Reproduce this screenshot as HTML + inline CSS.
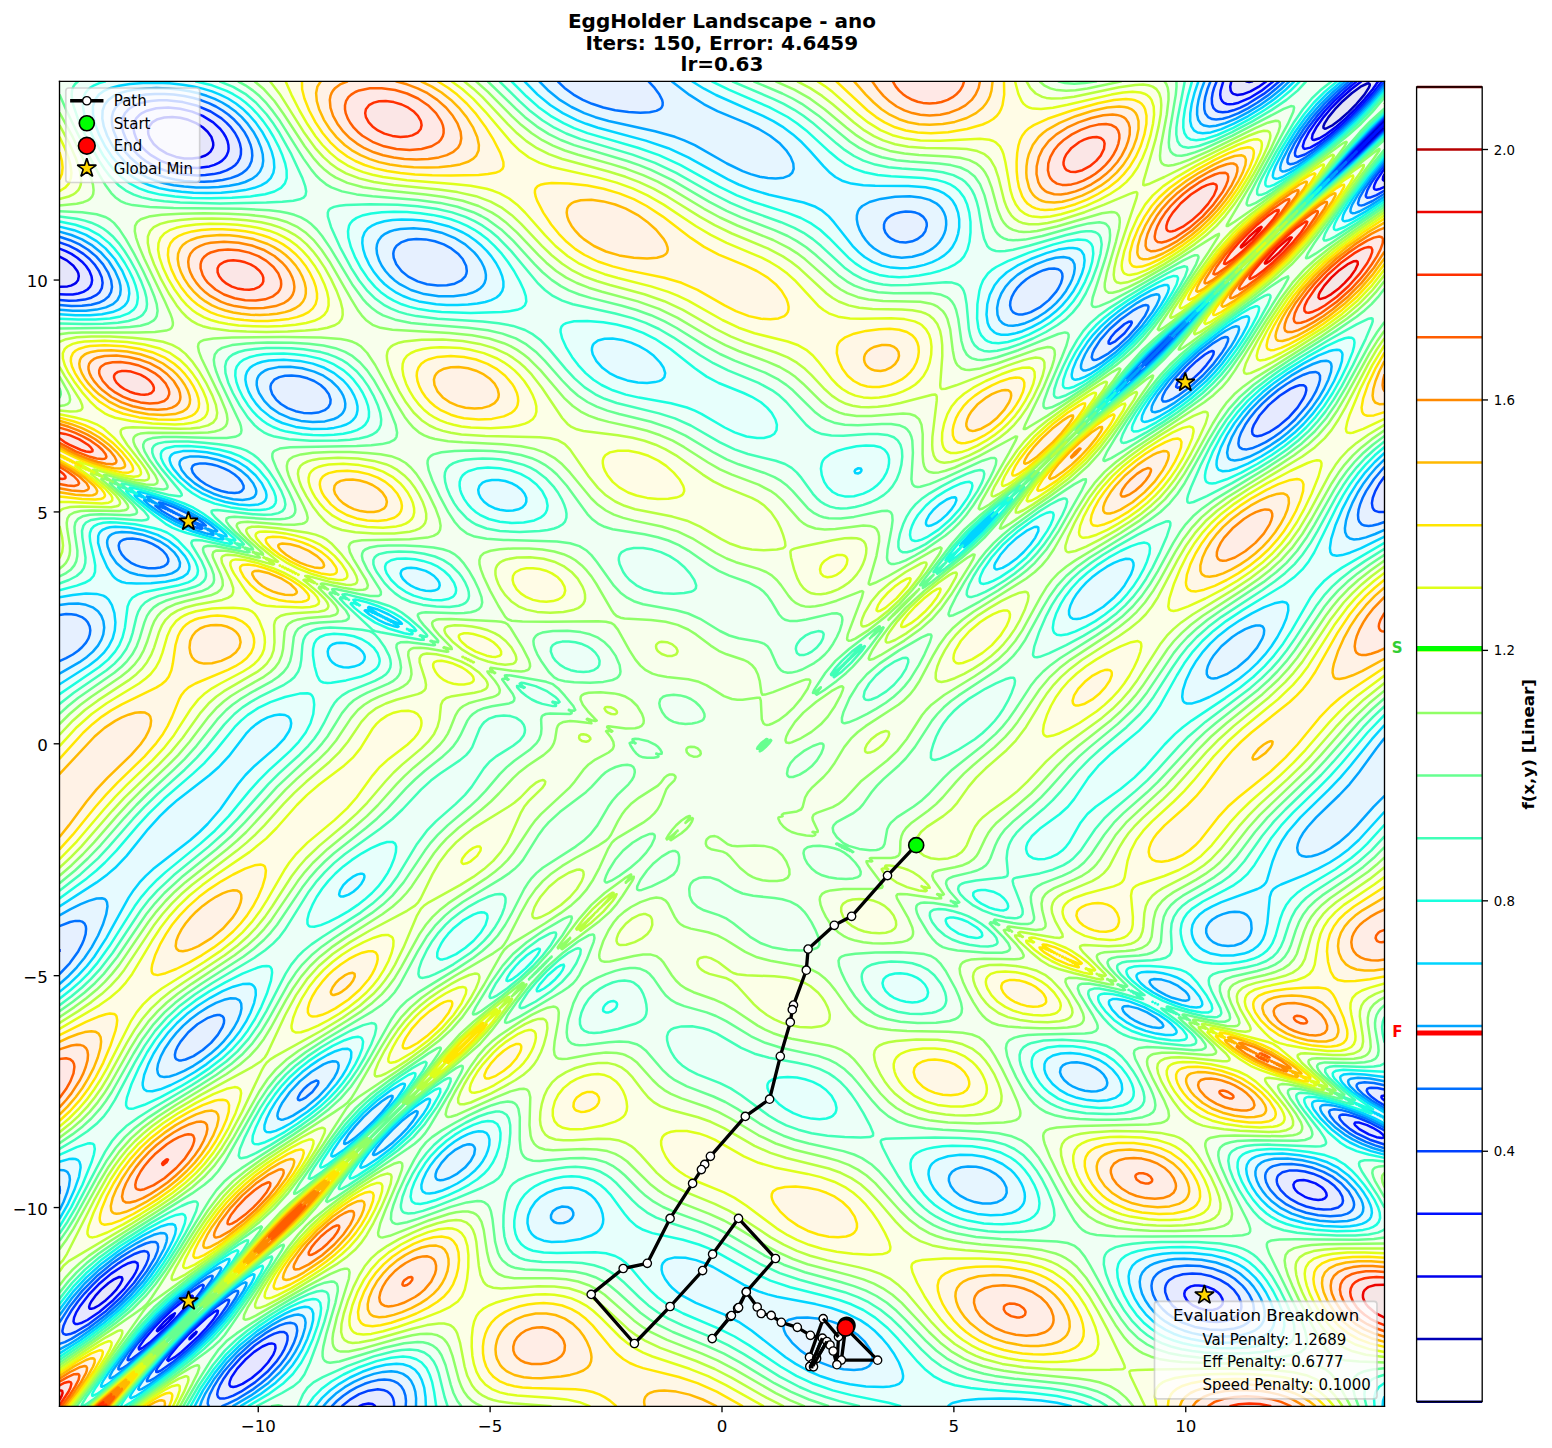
<!DOCTYPE html><html><head><meta charset="utf-8"><style>html,body{margin:0;padding:0;background:#fff}svg{display:block}</style></head><body><svg width="1552" height="1448" viewBox="0 0 931.2 868.8" version="1.1" id="fig">
 <defs>
  <style type="text/css">*{stroke-linejoin: round; stroke-linecap: butt}</style>
 </defs>
 <g id="figure_1">
  <g id="patch_1">
   <path d="M 0 868.8
L 931.2 868.8
L 931.2 0
L 0 0
z
" style="fill: #ffffff"/>
  </g>
  <g id="axes_1">
   <g id="patch_2">
    <path d="M 35.7 843.78
L 830.7 843.78
L 830.7 48.78
L 35.7 48.78
z
" style="fill: #ffffff"/>
   </g>
   <defs><clipPath id="axclip"><rect x="35.7" y="48.78" width="795" height="795"/></clipPath></defs><g clip-path="url(#axclip)"><g transform="scale(0.3)" fill-rule="evenodd"><path d="M119 162h2650v2650h-2650z" fill="#e6e6f5"/><path d="M137 2813l2632 0 0-2559-5-2 5-5 0-84-2650 0 0 2650zM2731 287l2-2 2 2zM2747 269l4-4 2 4-2 2zM2657 252l2-18 21-24 36-32 17-2 1 4-31 36-40 36z" fill="#e6e6fa"/><path d="M137 2813l2632 0 0-2556-10-5 10-11 0-78-14 0-39 49-43 40-28 20-18 1-1-4 10-17 27-36 35-33 27-20-193 0-30 19-18 6-17-2-5-6 1-17-2344 0 0 351 10 4 21 18 7 18-18 18-20 1 0 2240zM187 2599l15-18 24-20 16 3-13 17-21 21-18 10zM330 305l-23-18-10-18 2-17 16-12 17-5 36 3 33 14 19 17 6 18-7 18-15 8-18 3-36-4zM2712 305l4-5 2 5zM2726 287l7-8 4 8-4 4zM2742 269l9-10 5 10-5 5z" fill="#e6e6ff"/><path d="M137 2813l582 0 22-4 8 4 2020 0 0-2441-19 4 6-18 13-20 0-79-36 34-12-6 48-51 0-73-7 0-29 37-53 53-53 38-18 1-2-5 9-18 24-35 33-36 41-35-168 0-44 31-35 13-18-2-6-7-1-18 5-17-2328 0 0 334 39 21 17 18 8 18-2 18-9 7-17 8-36 1 0 2225zM463 2759l12-21 32-32 21-13 19-5 1 18-12 18-26 26-18 13-17 7zM347 2706l3-4 6 4-6 4zM363 2688l5-6 10 6-10 9zM296 2670l54-55 18-8 1 10-54 54-18 10zM380 2670l6-6 11 6-11 11zM398 2653l6-6 9 6-9 10zM150 2635l20-36 38-39 18-15 30-17 5-2 10 2-2 18-10 18-16 19-35 34-36 23-17 5zM418 2635l3-3 5 3-5 6zM2402 2617l-29-18-2-18 7-4 18-4 17 2 18 6 13 18-10 18-21 2zM2598 2386l-10-18 21-6 23 6 19 18-6 9-18 2zM2725 2261l8-4 21 4-3 5zM324 323l-29-18-16-18-9-18-2-17 7-18 22-13 18-5 35 0 54 15 30 21 15 17 7 18 0 18-14 18-21 8-17 4-36-1zM2693 323l5-6 2 6-2 2zM2707 305l9-11 5 11-5 4z" fill="#e6eaff"/><path d="M137 2813l547 0 22-18 18-8 17-6 18-2 18 7 7 9 4 18 1981 0 0-526-30-8-23-12-31-24 13-9 18 4 17 5 36 18 0-51-28-20 10-12 18 2 0-1157-18-2-4-5-1-17 5-18 18-27 0-574-18 10-18 4 15-36 21-27 0-69-53 50-14-7 67-73 0-69-36 42-47 47-41 34-36 22-18-1-1-2 17-36 41-53 58-53-148 0-20 17-36 24-35 16-18 3-18-4-3-3-4-18 9-35-2314 0 0 322 36 15 24 18 15 18 9 18 2 18-12 17-21 9-17 2-36-1 0 2214zM438 2795l-1-18 10-18 12-18 33-35 22-18 32-19 18-4 8 5 0 18-7 18-37 43-36 28-17 9-18 9zM314 2741l2 0zM328 2724l40-48 36-34 35-30 8 5-25 36-54 53-36 25zM264 2706l26-36 42-44 54-46 10 1-8 18-69 71-40 36zM128 2653l7-18 24-36 49-50 53-37 18-7 18 4-6 19-12 22-25 31-37 36-45 34-35 17zM2383 2635l-31-18-16-18-6-18 6-17 24-13 36-3 35 8 18 9 18 14 13 20 2 18-15 19-36 7zM2590 2404l-23-18-12-18 2-18 16-7 18-1 36 6 35 19 19 19 4 18-5 6-18 8-17 1-36-8zM2507 856l8-18 14-17 27-25 17-13 18-8 18 1 2 9-20 35-35 33-36 18zM2357 767l3-5 8 5-8 4zM2369 750l38-36 6-4 7 4-10 18-14 16-18 13zM2304 714l3-2 1 2zM2322 696l2-2 2 2zM2230 678l4-17 19-6 1 6-18 17zM329 340l-32-15-18-13-22-25-9-18-4-17 3-18 14-18 18-8 18-5 35-2 36 4 36 10 35 19 18 16 15 19 8 18 2 18-6 18-22 17-33 9-35 1zM2676 340l4-6 3 6-3 3zM2688 323l10-13 5 13-5 4z" fill="#e6f0ff"/><path d="M137 2813l282 0-1-18 8-18 23-36 26-28 53-45 36-18 17-3 10 6 1 17-11 28-17 28-33 33-23 18-33 21-33 15 222 0 24-23 36-20 35-10 18 0 18 7 10 10 6 18 0 18 1958 0 0-517-36-12-35-18-28-23-11-17 21-4 18 2 48 19 23 13 0-41-40-25-15-18 19-6 36 4 0-1126-36 8-17-18 2-18 15-35 36-47 0-547-36 19-11-12 9-18 38-51 0-61-71 66-15-7 30-36 56-57 0-62-41 48-48 46-53 43-36 20-14-2 4-18 19-36 41-53 57-53-129 0-31 26-41 27-30 14-36 8-14-4-8-18 1-18 11-35-1124 0 16 17 10 18-1 18-11 5-36 3-53-6-36-10-35-17-35-28-997 0 0 311 36 13 35 24 21 25 9 18 4 18-5 17-11 10-16 8-37 5-36-2 0 620 18-2 18 3 22 16 3 18-7 18-16 18-38 21 0 530 36-9 16 9-1 18-15 36-36 41 0 699 18-29 28-36 58-53 56-36 18-6 18 4 1 2-5 18-20 36-45 53-65 54-26 18-36 17 0 125zM296 2759l3 0zM309 2741l42-53 53-52 53-42 10 5-10 18-29 36-54 53-59 44zM243 2724l42-54 51-53 68-55 15 2-44 53-72 71-42 37zM2386 2653l-44-21-18-15-13-18-7-18 0-17 13-18 7-4 18-7 36-4 53 8 18 7 27 18 17 17 10 18 5 18-3 18-21 17-17 5-36 2zM2600 2421l-35-17-19-18-12-18-3-18 7-11 18-9 17-2 36 3 36 12 38 25 16 18 8 18-4 17-23 9-35 1zM599 2190l18-19 14 1-14 18zM360 2119l-8-18 10-18 15-17 27-23 17-9 18-4 7 18-8 18-14 17-20 18-34 18zM259 1123l-17-18-3-18 4-4 18-4 42 8 26 18 7 18-21 12-18 1-18-4zM383 1052l-13-18 18 0 2 18zM345 1034l-1-18 6-1 17 19-17 3zM438 981l-35-18-17-18 13-18 22 2 36 13 25 21 2 18-9 3-18 0zM2479 892l1-18 7-18 15-22 28-31 43-35 34-18 20-5 10 5 0 17-10 24-21 30-33 33-53 36-18 6-18 0zM587 821l-30-18-14-18 0-18 21-13 17-3 36 7 20 9 18 18 6 18-13 18-31 5zM2331 785l10-18 15-17 36-36 21-18 18-11 18-9 4 2-4 18-12 18-24 28-26 25-27 21-18 9zM2267 750l4-5 2 5zM2281 732l8-9 4 9-4 4zM2186 714l5-18 27-36 44-35 27-11 3 11-21 30-21 23-50 38zM2296 714l11-11 5 11-5 5zM2314 696l10-10 5 10-5 5zM2333 678l9-7 4 7-4 5zM2355 661l5-4 2 4-2 2zM2029 625l-8-18 5-18 12-17 20-16 17-10 18-7 18-2 13 17-6 18-11 17-18 18-30 18-19 3zM818 554l-20-18-9-18-1-17 7-9 18-11 35-2 36 9 23 13 12 11 14 24-4 18-10 8-17 7-36 1-18-4zM1796 483l-25-18-2-18 4-6 13-12 23-5 17 1 18 8 8 14-4 18-4 5-18 12-17 2zM346 358l-51-18-26-17-26-29-13-25-5-17-1-18 7-18 12-12 18-8 36-7 35-1 54 8 53 21 23 17 30 35 12 36-1 18-11 17-17 11-36 10-53 2zM2658 358l4-5 3 5zM2670 340l10-13 6 13-6 5z" fill="#e6f5ff"/><path d="M137 2813l264 0 16-36 22-33 52-56 55-39 35-17 18-2 7 5 4 18-4 17-7 18-22 36-14 17-35 32-64 40 183 0 23-24 36-24 35-15 36-7 18 1 18 9 7 6 9 18 3 36 1937 0 0-510-36-11-35-17-36-28-18-21 1-4 17-10 89 25 4 6 14 8 0-31-18-4-5-8-26-18-19-18 15-16 53 6 0-571-71 76-36 28-35 16-18 2-7-3-6-18 6-18 12-17 86-89 69-91 0-418-36 15-17 4-18-3-5-5-2-18 9-36 18-35 26-36 25-26 0-526-36 22-17 7-10-10 20-36 43-56 0-53-89 81-15-8 45-53 59-60 0-53-37 42-56 53-67 53-36 19-5-1-3-17 7-18 21-36 41-53 57-53-112 0-42 35-53 33-35 15-18 6-18 0-18-18 2-36 12-35-1066 0 57 41 35 19 71 30 30 16 24 18 15 18 10 18 1 17-9 10-17 6-18 0-36-7-24-9-118-62-53-16-107-24-36-12-50-28-39-35-960 0 0 300 36 11 42 27 30 35 14 36-1 17-13 18-19 8-36 6-53-2 0 591 36-3 24 5 11 6 11 12 7 17-1 18-6 18-13 18-21 18-48 28 0 484 36-19 35-14 19 1 5 18-10 35-28 54-29 35-28 27 0 373 18 7 2 20-20 52 0 211 23-32 30-35 54-46 35-24 36-20 18-6 17 4 2 3-4 17-19 36-26 36-32 35-63 54-53 36-18 9 0 115zM278 2777l3 0zM291 2759l41-53 72-74 71-56 10 5-9 18-27 36-50 53-84 69-18 11zM225 2741l55-71 52-55 89-71 15 2-41 53-69 71-83 72zM1638 2724l-30-18-21-18-14-18-6-17 10-11 18-6 36 1 57 16 28 17 17 18 10 18 0 18-6 6-17 9-36-1zM2406 2670l-28-6-31-11-27-18-18-18-12-18-8-18-2-17 4-18 5-5 17-13 18-5 36-5 36 1 53 12 29 15 21 18 21 30 8 23 1 18-9 18-18 11-21 6-32 3zM1106 2439l3-18 6-3 18-2 10 5-3 18-7 4-18 1zM2624 2439l-51-16-35-26-21-29-6-18 4-18 23-12 18-3 53 5 36 9 17 9 36 26 16 20 10 18 2 17-10 13-10 5-26 4zM1948 2404l-35-18-13-18 0-18 15-12 18-5 36 5 25 12 15 18 4 18-9 12-9 6-26 3zM873 2350l11-24 32-29 21-6 11 6-3 18-13 17-13 11-17 11-18 4zM756 2297l3-4 8 4-8 5zM771 2279l24-25 13 7-31 28zM704 2261l55-55 18-1-33 38-38 34zM807 2243l6-5 9 5-9 13zM557 2226l6-18 13-18 34-35 25-19 18-8 17-3 5 12-7 18-15 21-33 32-39 24-17 5zM829 2226l3 0-2 3zM2145 2172l-20-17-3-18 7-6 18-5 35 6 9 5 19 18 2 17-12 7-18 2zM315 2137l5-18 12-25 18-25 21-21 50-37 36-13 18 1 7 13-3 18-7 18-15 22-29 31-42 31-36 17-18 5zM2284 2048l-30-18-2-18 51 18 22 18-18 5zM2342 1994l-32-17-5-18 19 1 39 17 15 18-18 3zM2434 1888l-20-18 0-18 17-17 36-11 17 2 13 8 5 13 0 11-3 12-15 15-17 6zM2421 1354l-6-18 21-35 18-18 30-21 18-7 18-2 7 12-6 18-28 36-21 17-23 14-18 6zM252 1141l-26-25-11-29 7-17 21-5 36 3 36 13 34 24 10 18-5 18-22 8-17 3-36-2zM370 1052l-20-9-15-9-3-5-25-13 3-17 8 0 14 11 18 0 13 6 5 6 18 5 11 7 7 13 19 5-2 13-17-9-18 3zM470 999l-31-8-35-16-19-12-18-18-7-18 8-8 18-5 18 0 35 7 36 16 29 26 8 18-16 18zM2456 910l2-18 16-36 26-35 36-36 50-35 41-22 18-5 17 7-2 20-16 35-25 36-33 35-47 36-37 20-18 6-17 2zM588 838l-39-17-21-20-10-16-4-18 6-17 8-7 18-6 18-3 17 0 36 6 36 15 16 12 14 18 7 18-2 18-18 16-35 7zM2305 821l4-18 11-18 28-35 30-30 49-42 22-14 18-8 8 5-5 17-23 36-49 53-56 42-18 10-17 4zM2247 767l6-8 4 8-4 3zM2260 750l46-54 54-46 6 11-50 53-45 41zM2162 732l16-36 28-35 47-41 54-30 6 17-10 18-14 20-36 39-35 31-36 21-18 0zM2002 643l-7-18 1-18 5-18 11-17 18-18 27-18 36-15 36-6 11 3 7 7 2 11-3 18-17 32-18 21-22 18-31 18-36 8zM2370 643l8-6 3 6-3 4zM856 589l-26-6-25-11-23-18-15-18-10-18-4-17 3-18 19-18 20-6 35-2 51 8 40 18 23 18 15 17 10 18 3 18-7 18-10 7-18 8-18 4-35 1zM1753 501l-19-18-12-18-7-18-1-18 11-17 30-12 54-7 35 3 18 6 18 11 9 16 3 18-3 18-9 18-18 16-18 9-35 7-36-5zM2642 376l3-4 1 4zM303 358l-33-18-27-23-21-30-15-35-3-18 3-18 12-18 24-13 18-4 36-4 53 1 36 6 44 14 32 18 30 29 18 24 15 36 1 18-5 17-18 18-28 10-36 6-53 1-54-8zM2653 358l9-13 6 13-6 5z" fill="#e6faff"/><path d="M137 2813l253 0 19-36 24-36 49-53 46-35 36-22 35-15 18-1 3 2 6 18-3 18-13 35-20 36-14 17-30 29-65 43 149 0 35-36 41-25 53-19 36-5 18 3 19 10 11 18 5 16 4 38 1044 0 19-9 18-3 71-4 71 3 68 13 622 0 4-20 0-484-53-16-36-20-33-30-14-17-8-18 20-4 17 1 36 11 18-1 10 11 7 3 15-3-9-18-23-11-4-7-20-18-11-17 17-6 18-1 53 6 0-530-53 57-36 31-35 21-89 39-13 9-14 89-9 18-18 13-18 7-17 3-36-2-18-5-17-13-12-21 1-18 9-18 19-15 36-17 60-21 25-18 16-53 8-18 24-35 98-101 89-106 0-377-53 26-36 11-18-4-1-19 17-53 27-53 25-36 39-39 0-508-53 34-18 6-8-9 6-17 25-36 48-61 0-46-107 96-14-7 59-71 62-63 0-45-49 55-58 52-71 52-35 18-7-16 6-17 31-54 41-53 56-53-94 0-40 35-47 31-53 27-36 10-17-2-13-12-3-18 2-18 15-53-1013 0 51 29 95 42 32 18 44 35 60 65 18 10 36 8 124 4 36 9 18 11 13 18 6 17 0 36-6 18-12 18-22 17-33 13-35 5-36-3-37-15-22-17-65-77-18-11-18-7-71-16-47-14-40-18-91-50-36-15-142-41-35-13-54-32-48-44-930 0 0 290 53 17 36 24 33 42 15 36 2 17-6 18-9 8-21 10-50 5-53-1 0 566 53-8 18 0 18 4 16 21 7 35-2 18-6 18-15 22-36 30-53 33 0 445 77-50 30-23 30-30 59-72 35-34 90-72 52-64 18-17 18-12 18-7 18-2 18 13-4 18-11 18-76 71-67 89-37 35-72 57-36 34-24 34-61 107-29 35-46 42 0 341 18-5 18 2 5 11-7 36-34 70 0 181 45-55 62-54 53-35 36-19 17-6 18 4 2 3-5 18-17 35-24 36-29 35-35 36-34 29-89 61 0 106zM273 2777l42-55 89-93 53-46 35-24 10 5-9 17-25 36-63 71-41 36-67 51-18 10zM208 2759l53-72 64-70 43-38 53-40 18-12 12 1-9 18-29 35-84 89-103 90zM1662 2759l-46-18-31-17-79-61-35-24-89-38-31-20-17-17-9-18 0-18 21-12 18 0 36 7 47 23 41 25 36 15 142 31 44 18 27 17 21 18 29 36 17 35 1 18-14 10-36 5-53-6zM2355 2670l-31-14-26-21-16-18-19-36-5-17 0-18 10-18 21-12 18-5 35-5 54 1 35 5 36 11 34 23 17 18 20 32 8 21 3 18-3 18-16 17-28 10-35 5-36 0-35-4zM1072 2475l-14-18-2-18 4-18 11-17 26-20 36-8 18 1 17 5 26 22 9 17 4 18-6 18-28 18-58 8-18-1zM2583 2439l-27-12-29-23-25-34-8-20-1-18 9-12 7-5 29-7 35 0 36 4 53 15 34 23 18 18 24 36 5 17-5 18-5 3-35 10-53 0zM1930 2421l-36-17-19-18-12-18-6-18 4-18 19-14 35-8 36 1 21 4 39 17 20 18 12 18 6 18-1 18-16 17-28 8-18 1-35-3zM853 2386l-5-1-4-17 6-18 16-25 18-20 32-26 21-10 18-6 18 5 5 11-1 18-7 18-15 21-18 16-35 21-36 13zM723 2332l3 0zM735 2315l27-36 34-36 52-39 7 4-7 18-13 17-40 42-36 29-18 10zM669 2297l27-36 32-35 31-28 38-26 0 18-48 53-61 55-18 4zM533 2261l-1-18 14-30 18-26 29-32 24-21 36-22 35-14 10 3 2 18-7 18-23 34-17 19-36 32-36 24-35 17zM2139 2190l-29-18-15-17-6-18 5-18 17-8 18-4 35 2 36 12 22 16 15 18 7 17-6 18-20 9-36 1zM287 2172l1-17 5-18 18-36 25-35 32-33 53-38 36-18 35-9 18 9 1 17-5 18-17 36-26 35-24 24-38 30-69 37-35 7zM2305 2066l-46-18-25-18-14-18 15-11 18 3 30 8 34 18 25 18 9 18-9 3-18 0zM2374 2012l-50-17-29-18-19-18 13-14 18-1 35 6 18 8 18 12 21 24 2 18zM682 1781l14-18 10-7 18-3 1 10-19 20-18 6zM2365 1390l10-36 9-18 24-35 23-23 36-29 35-21 36-17 18-5 17 2 3 4-1 18-16 35-23 36-34 37-53 39-53 26-18 4zM661 1319l-4-18 13-12 18-2 34 14 6 18-22 14-18 1-18-6zM774 1247l-5-17 8-1 5 18zM740 1230l1-5 8 5zM2140 1230l1-18 9-18 30-35 23-18 32-18 18-4 11 4 0 18-8 18-21 28-17 17-36 25-18 6-17 1zM833 1176l-26-17-2-18 25-4 18 4 26 18 2 17-10 4zM233 1159l-7-6-17-30-12-36 1-17 10-10 18-6 35 2 54 14 35 21 14 14 12 18 2 18-10 10-18 9-71 8-36-3zM1995 1123l9-18 36-33 18-10 14 8-14 22-36 33-18 9zM1931 1087l2-3 2 3zM406 1070l-38-12-36-17-33-25-2-9-18-6-2-2 2-7 18 4 18-3 53 19 36 19 27 21 5 18-15 4zM1945 1070l6-7 3 7-3 3zM1962 1052l7-6 3 6-3 3zM1857 1034l23-24 18-12 8 1-3 17-23 23-18 11zM1984 1034l2-2 2 2zM989 1016l-25-17-7-18 16-19 35 0 18 7 18 12 8 18-10 17-16 4-18 0zM432 999l-28-12-36-26-15-16-11-18 2-17 24-7 18-1 52 8 37 13 31 22 15 18 10 18 0 18-3 3-18 7-18 1-35-5zM2434 927l9-35 19-36 27-35 31-32 51-39 56-33 35-15 18 1 4 11-3 18-16 35-34 54-40 42-53 40-54 29-35 10zM608 856l-27-5-32-13-21-14-18-19-12-20-6-18 0-17 13-18 41-11 35-1 36 5 36 13 20 12 19 17 13 18 8 18 2 18-7 17-20 12-18 5-35 3zM2286 838l3-17 23-36 29-35 35-36 43-36 48-33 17-8 11 6-6 18-21 35-27 36-34 35-43 36-40 26-17 10-18 3zM2229 785l6-11 4 11-4 3zM2240 767l28-35 34-36 40-37 36-28 6 12-64 71-67 60zM1225 750l-24-18-13-18-4-18 20-18 18-1 35 7 28 12 25 18 15 18 5 18-19 13-18 2-36-4zM2144 750l4-18 19-36 27-35 18-18 75-54 41-17 4 17-9 18-34 46-36 38-35 31-36 24-18 9-17-1zM1984 661l-9-18 0-36 11-32 17-21 37-25 71-28 36-5 13 5 4 4 5 13-8 36-19 35-31 34-36 25-35 16-36 5zM2386 625l10-6 3 6-3 5zM863 607l-33-6-29-12-24-14-21-21-15-20-14-33-2-18 4-18 12-11 18-9 36-5 53 2 36 7 35 13 18 10 35 29 15 17 18 36 2 18-8 17-26 14-19 4-52 3zM2412 607l2 0zM2625 394l2-3 1 3zM318 376l-39-14-31-22-30-35-20-36-11-35-1-18 4-17 18-17 18-7 53-9 53 0 54 7 53 16 36 20 27 25 26 35 16 36 4 18-2 23-6 12-32 18-33 6-54 4-53-2zM2636 376l9-12 4 12-4 4zM2769 2247l0-22-11 1 6 17z" fill="#e7fffc"/><path d="M137 2813l244 0 44-72 48-53 73-54 35-20 36-15 18 1 6 17-1 18-11 35-25 54-12 17-28 29-68 43 118 0 29-36 45-29 71-27 36-7 18 0 17 4 11 6 15 17 10 32 7 40 929 0-136-32-71-28-124-79-107-49-36-21-27-23-44-50-18-15-35-11-125-1-31-12-14-17-5-18 3-36 12-24 18-19 17-11 36-11 36-3 35 9 18 11 14 13 39 52 18 16 18 9 107 27 35 16 71 39 36 17 35 12 99 25 45 18 29 18 21 18 73 80 18 16 36 18 53 10 160 15 36 7 37 14 565 0-1-18 3-9 4-9 14-10 0-451-53-11-36-18-35-34-35-45 17-12 53 7 18 9 13-4-6-18-21-18-16-17 12-13 89 0 0-493-59 61-30 22-80 49-20 18-12 18-24 71-15 18-9 5-18 8-35 7-36 1-31-4-22-14-11-21-5-18 0-18 7-18 9-10 18-14 82-47 19-18 61-88 104-107 107-120 0-344-94 55-24 18-30 35-65 107-31 35-41 36-127 89-86 92-89 68-17 18-36 57-18 14-18 6-18 1-18-7-4-18 10-18 12-12 53-41 17-18 36-53 16-18 100-89 25-35 52-89 30-36 45-38 124-79 31-25 23-33 45-92 32-53 29-36 36-33 0-491-71 46-18 7-7-9 6-18 37-53 53-66 0-36-124 109-14-7 58-71 80-83 0-38-53 59-54 47-71 53-35 22-18 5-5-12 7-18 39-71 38-53 28-29 29-24-74 0-39 35-59 39-71 34-35 9-18-4-7-7-4-17 3-36 14-53-961 0 119 53 33 18 38 28 53 48 36 25 53 15 89 6 36 6 18 6 17 11 12 15 8 18 6 35-2 36-4 18-11 17-29 18-33 10-36 7-35 1-36-5-35-16-20-15-69-66-36-19-124-44-143-75-53-19-90-26-52-20-54-33-56-53-633 0 31 7 36 13 25 15 21 18 17 18 24 35 18 36 11 35 0 18-9 16-18 9-54 11-71 2-53-1-53-7-36-11-31-19-22-21-33-50-17-35-10-36 0-18 9-18 15-10 22-7-93 0 0 280 53 13 18 9 25 18 16 18 24 35 16 36 4 17-1 18-14 18-17 6-53 8-71-1 0 543 36-10 26-12 10-18-11-71 9-18 19-6 35 0 89 12 5-6-22-14-45-39 2-18 7-2 18 8 18 1 53 16 36 18 57 48-4 17-18-9-18 2-53-14-18-1-7 5 25 22 22 31 6 18-9 18-19 8-71 15-30 12-12 18-7 53-16 36-15 18-22 17-76 52 0 409 47-34 41-35 97-107 99-89 72-83 27-24 44-23 53-15 18 0 4 3 7 18-6 35-20 36-91 89-77 89-105 88-32 32-31 40-69 106-32 36-46 39 0 312 53-21 17 8-16 53-25 54-29 49 0 155 54-62 70-56 89-52 18-6 18 1 2 6-5 18-28 53-52 71-59 57-107 75 0 100zM256 2795l59-77 79-83 81-70 35-24 9 5-8 18-51 71-48 53-115 92-36 22zM190 2777l71-96 58-64 85-70 53-38 10 1-7 18-29 36-80 89-143 125zM2373 2688l-31-9-35-18-18-15-25-29-20-36-10-35 3-18 16-18 36-10 35-5 54-1 53 5 36 9 17 8 19 12 32 36 20 35 12 36 2 18-7 17-6 6-23 12-49 7-53 1zM2610 2457l-37-9-17-7-18-10-18-15-24-30-17-36-4-18 5-17 22-12 36-5 89 7 18 3 35 13 36 33 24 32 18 35 1 18-8 10-18 9-35 4-53-1zM1928 2439l-42-18-24-17-16-18-21-36-4-18 5-19 18-11 36-9 53-1 36 4 35 10 16 9 20 15 17 20 18 36 4 18-3 17-18 18-18 5-36 4-35-1zM826 2404l-3-18 7-24 18-32 28-33 26-22 35-21 36-12 17 3 10 16-3 36-16 35-16 18-24 18-57 27-36 11-18 0zM704 2350l2-4 6 4-6 3zM715 2332l41-53 57-56 53-38 10 5-7 18-25 35-49 50-51 39-20 12zM650 2315l38-55 50-52 75-55 13 2-9 17-29 36-52 53-66 56-17 10zM506 2279l3-18 19-39 21-32 32-37 41-34 48-29 36-14 18 3 2 4-3 18-17 36-26 35-34 36-45 35-55 34-18 7-18 2zM1586 2226l-28-18-16-18-7-18 7-9 18-8 35 1 36 11 30 23 10 18-1 18-21 11-36-3zM254 2208l7-36 35-71 25-35 34-36 49-38 71-39 35-16 18-4 15 8-6 36-23 53-22 36-35 39-53 42-72 41-53 25-18 3zM2144 2208l-39-18-20-18-13-17-7-18-1-18 11-16 18-7 54-3 35 5 18 6 18 9 17 15 22 27 8 17 2 18-14 18-18 5-35 2zM2273 2066l-20-8-35-28-15-18-6-18 21-5 17 2 36 10 18-2 9 13 9 5 17 1 5 12 23 18 17 18-9 13-36-1zM1212 2012l10-5 9 5-9 7zM2353 2012l-11-4-18 1-17-18-18-2-6-12-20-18-10-18 18-7 36-2 35 3 36 11 18 19 17 26 10 21-10 10-53-5zM1787 1994l-19-17 0-18 23-11 18 0 17 5 12 6 15 18-1 17-8 6-18 3-17-1zM1078 1977l1-3 5 3-5 2zM1092 1959l5-5 10 5-10 8zM1024 1941l37-35 6 0-4 17-19 19-18 9zM1111 1941l4-3 6 3-6 9zM876 1906l8-20 18-23 17-16 18-13 18-7 18 4 1 3-5 18-12 18-20 20-35 22-18 5zM1925 1870l-28-18 1-8 17-5 34 13 14 18-12 4zM633 1852l-16-3-1-15 19-41 35-45 49-38 40-21 18-4 14 7-1 18-13 32-29 39-42 36-36 20zM1984 1817l-32-18 8-18 26 3 23 15 4 18-9 2zM636 1354l-9-35-1-18 5-18 22-13 35-1 36 10 27 22 8 18-6 17-35 18-65 12zM805 1265l-10-6-18-1-18-7-32-21-3-12-18-5 0-3 18 0 17-3 36 13 42 27-1 18zM2109 1265l-2-18 13-35 23-36 17-17 22-19 53-35 36-16 22-2 5 18-12 36-23 35-28 32-53 39-35 18-18 4zM837 1194l-36-18-19-17-10-18 5-18 36-5 35 4 36 17 18 17 9 20-7 18-20 5-18 0zM1962 1159l4-18 12-18 26-31 24-22 47-35 18-7 12 6-6 18-22 35-37 39-19 15-35 20-17 4zM1906 1105l26-35 54-48 8 12-25 28-54 48zM1821 1070l3-18 23-36 20-17 27-18 39-16 8 16-8 18-35 42-36 29-18 7-18 2zM969 1034l-26-18-14-17-8-18-1-18 17-20 18-5 35-2 44 9 32 18 17 18 10 18 2 17-12 18-21 8-18 3-36-1zM470 1016l-49-10-35-17-46-44-12-18-6-17 10-12 18-5 36 0 71 10 35 16 18 13 18 19 19 30 5 18-6 12-7 5-11 3zM1994 1016l10-7 4 7-4 5zM1662 981l-14-18-5-18 0-18 15-17 44-15 35-4 18 2 18 12 5 22-5 18-12 18-21 18-38 11-18-1zM2413 963l-2-18 20-53 33-54 30-35 44-38 71-48 71-37 18-4 6 2 2 18-5 18-21 46-35 57-36 41-53 44-72 42-53 22zM1499 874l-46-17-71-40-36-10-107-21-35-16-29-20-31-36-19-36-4-17 12-14 14-4 43 0 67 12 54 23 106 78 89 40 33 25 11 17 3 18-11 15-7 3zM551 856l-23-12-18-16-19-25-17-36-3-17 3-18 18-15 18-5 36-4 53 2 36 6 35 14 27 20 16 17 12 18 13 36-1 17-13 17-36 12-35 3-36-1-36-4zM2266 856l4-18 35-53 30-35 35-36 43-37 71-51 18-8 13 7-13 28-27 43-26 36-36 38-38 33-51 35-35 19-18 4zM2211 803l7-12 4 12-4 3zM2221 785l27-35 49-54 59-53 40-30 7 12-79 89-89 78zM2126 767l11-35 19-36 26-35 18-18 35-28 39-26 33-19 35-17 5 1 3 18-8 17-38 54-48 53-43 36-49 33-17 8-18-1zM1969 678l-11-17-3-18 0-36 6-35 9-18 16-16 54-26 89-29 35-4 11 4 7 6 4 12-1 17-11 36-18 35-30 36-33 25-53 27-36 8-18 0zM896 625l-48-5-35-8-36-17-18-13-18-18-17-25-20-38-8-36 4-18 24-15 17-5 54-3 53 3 36 7 35 11 36 19 25 19 32 35 23 36 16 35 1 18-8 7-36 10zM2403 607l10-7 4 7-4 5zM2429 589l3 0zM2607 412l2-3zM2619 394l8-11 4 11-4 3z" fill="#ecfff8"/><path d="M137 2813l101 0 39-54 62-71-7-12-142 120-18-1 54-74 39-51 50-54 71-61 89-64 12 1-9 18-87 107 13 6 71-61 53-39 8 5-8 18-24 35-37 54-48 53-51 43-112 82 118 0 56-89 45-47 31-24 58-37 35-19 36-14 18 3 4 13-1 18-16 53-26 71-15 23-35 23-51 26 82 0 16-36 42-27 88-35 36-10 36-6 17 1 18 5 18 16 10 20 19 72 825 0-66-18-48-18-36-18-117-70-121-54-39-28-54-50-35-22-36-8-106-6-18-4-18-10-11-15-6-17-2-36 7-53 11-18 19-11 35-12 36-8 36-3 35 4 27 12 21 18 41 43 36 23 106 38 107 58 36 16 124 37 53 22 43 30 90 89 28 17 35 14 53 11 107 10 54 9 35 10 33 18 518 0-4-18 1-18 3-6 11-12 25-9 0-292-36 11-71 2-71-6-53-15-18-13-14-16-22-30-20-41-6-18-1-17 17-18 28-6 125 1 18-4 5-9-51-71-5-18 15-3 18 1 35 9 18-4 18 5 1-8-19-6-4-12-18-17-5-18 27-5 71 0 18-8 0-39-4-37 4-13 0-362-57 55-103 71-16 18-10 17-19 54-8 15-18 16-36 13-71 16-13 11 3 18 18 35 1 18-27 3-35-8-18 3-18-6-3 8 21 6 2 12 19 18 11 17-14 6-36 0-89-15-18-10-17-16-30-36-10-18 4-12 18-4 35 7 18-4 18 13 1-17-19-11-2-7-15-18 17-18 71-6 18-11 0-54 5-18 13-17 22-18 62-36 24-18 16-17 68-89 90-89 78-89 49-48 0-315-67 43-41 35-29 36-59 89-30 35-41 39-90 68-41 36-82 87-83 73-42 58-17 19-16 12-20 9-71 18-15 8 19 54-4 17-18 2-36-8-17 1-12-12-24-12-16-24 16-17 71-11 12-8-2-35 3-18 10-18 13-15 63-56 80-89 70-60 30-29 27-35 46-71 40-46 53-43 106-71 36-33 29-39 50-88 28-45 35-41 36-30 0-475-89 59-18 8-8-10 8-18 36-53 71-89 0-26-142 121-13-6 72-89 83-86 0-29-53 58-54 47-89 65-35 22-18 4-4-10 7-18 60-106 38-54 42-35-50 0-16 17-21 18-74 46-89 43-35 8-18-6-7-20 3-35 13-71-905 0 118 53 49 34 53 46 36 22 53 16 107 10 18 3 24 11 19 18 9 18 19 85 17 22 18 2 18-3 142-37 25 2 11 9 3 9-1 18-15 53-23 46-18 25-35 28-36 20-53 21-36 8-17-1-13-5-13-18-5-17-8-72-15-20-17-4-89 6-36-1-36-8-17-7-30-19-59-54-36-23-124-49-160-84-143-45-53-22-53-36-63-60-560 0 36 15 17 11 36 34 43 64 27 53 13 36-2 18-28 7-142 6-124-6-36-8-18-6-18-11-17-17-27-36-27-49-18-40-10-36 0-18 12-17-37 0 0 270 36 5 32 9 21 11 18 15 17 21 26 42 17 36 8 35-5 18-10 8-26 10-45 4-89 0 0 520 22-8 24-18 6-18-7-53 3-18 5-5 18-8 18-2 71 2 18-5-35-35-1-6-19-12 1-5 18 2 18-4 53 12 18 1 8-6-43-54-9-17 3-18 6-3 35-6 54 2 53 6 35 9 18 12 18 17 24 34 17 36 0 17-23 11-36 1-71-4-8 10 38 36 2 17-14 6-53-10-21 4 28 54-1 18-24 16-75 19-28 18-9 18-14 53-23 36-19 17-99 72 0 374 46-37 38-35 79-89 113-107 77-89 24-17 68-36 25-18 10-18 7-53 11-18 36-9 71 0 7-9-37-35 2-18 10-3 18 6 35 6 36 14 55 48-2 6-35 4-63-10 9 6 3 12 18 36 0 17-3 5-18 16-71 31-18 17-30 56-28 35-75 72-98 106-89 74-35 33-36 43-54 82-27 35-36 36-43 33 0 288 59-37 30-28 28-43 47-89 24-35 25-29 54-45 124-77 36-27 29-36 44-71 29-36 40-35 97-71 81-80 63-45 15-18 14-35 12-18 20-9 18-2 18 3 17 8 6 18-8 18-51 35-17 16-40 55-76 72-14 17-56 89-28 31-51 40-84 54-25 21-25 32-56 107-42 53-37 32-30 22-145 88-22 18-28 36-66 124-29 46 0 130 27-33 36-36 79-57 89-52 36-16 5 18-6 18-30 53-35 54-28 35-34 36-32 27-107 76 0 93zM2425 2706l-47-5-50-13-33-18-21-17-28-36-28-53-10-36 2-18 8-8 17-9 18-4 71-5 72 0 53 4 35 9 18 9 18 14 18 23 32 56 14 36 5 18 0 17-11 18-22 10-18 4-54 5zM1936 2457l-56-20-25-16-20-17-28-36-22-36-19-35-2-18 116-4 89 5 35 7 18 7 18 11 18 16 21 29 18 36 11 35-1 18-14 14-8 4-27 5-54 2zM806 2421l-2-17 11-36 19-36 32-41 36-28 35-21 36-15 17-3 18 2 11 17 2 18-6 54-12 35-22 18-115 47-36 10-17 1zM685 2368l39-57 71-77 71-58 18-10 12 6-8 18-34 53-31 36-28 23-71 51-36 20zM631 2332l49-71 49-53 48-39 53-36 18 0 1 4-41 53-67 71-106 89zM490 2315l-8-18 14-36 32-57 39-49 40-36 46-31 53-28 18-8 21-4 5 18-14 35-31 54-29 35-39 36-50 35-59 36zM1603 2261l-45-18-29-17-58-44-98-45-20-18-12-18-6-18 1-17 10-8 18-5 36 3 30 10 76 41 125 28 38 20 35 35 40 71-7 10-35 3-53-4zM2165 2226l-54-14-18-10-18-15-17-23-14-27-5-18 3-18 16-12 15-6 56-3 71 7 18 5 17 13 27 32 21 35 5 18-2 18-15 11-22 7-31 2zM1185 2066l-17-6-7-12 1-18 6-18 13-18 23-19 35-13 18 0 18 10 14 22 4 18-1 18-21 18-49 13zM1042 2012l2-3 5 3-5 2zM1766 2012l-23-18-13-17-6-18 3-18 10-8 36-10 53 4 31 14 23 24 12 29-4 18-8 7-18 7-18 2-35-2zM1052 1994l25-35 38-37 36-21 8 5-5 17-10 18-35 36-47 30zM987 1977l23-36 33-35 54-37 8 1-3 18-47 53-43 36-22 12zM839 1941l4-18 18-35 23-30 18-18 35-26 36-19 17-5 18 3 3 6-3 18-17 35-36 42-40 29-49 26-18 5zM1930 1888l-41-18-19-18-10-18 2-4 18-11 35 6 18 0 7 9 29 17 19 19 4 18-23 4zM1862 1514l3-18 14-35 26-36 46-36 35-19 36-14 5 16-6 18-20 35-30 36-38 28-35 20-18 8zM1085 1408l-6-5-17-4-12-9 1-18 11-3 8 3 9 8 18 4 8 6 1 18-9 3zM1730 1390l5-18 35-36 33-17 10 0-1 17-28 36-29 21-18 5zM1131 1336l-21-17-8-18 13-15 22-3 31 8 18 10 12 18-5 17-7 4-18 3-17-1zM1676 1336l8-10 5 10-5 4zM1691 1319l11-9 5 9-5 5zM1592 1301l6-18 15-11 18-8 11 1-1 18-17 18-11 6-18-3zM1714 1301l6-4 2 4-2 3zM2068 1301l10-36 15-35 21-36 33-39 39-32 85-51 53-25 15 5-12 35-25 54-22 35-31 36-49 39-89 50-36 12zM860 1212l-47-10-36-27-25-34-5-18 12-14 36-6 53 5 36 11 29 22 14 18 8 17 2 19-22 17zM1284 1176l-26-17-13-18-7-18 5-18 14-6 18-2 18 1 31 7 31 18 20 18 13 18 4 17-10 6-36 5-35-3zM1936 1176l30-53 50-53 77-56 38-15-1 17-17 36-24 35-31 36-45 36-44 25-18 7zM1876 1141l4-9 2 9-2 2zM1884 1123l25-36 33-35 41-36 39-27 6 10-61 71-69 60zM1797 1087l2-17 14-36 11-18 18-17 26-18 65-33 18-6 17 3-5 18-19 36-27 35-19 20-36 27-36 19-17 5zM959 1052l-22-12-18-18-23-41-6-18 0-18 12-15 17-8 36-4 35 0 36 6 36 12 17 11 19 16 15 18 18 35 2 18-12 18-24 7-71 5-36-3zM1679 1016l-30-9-13-8-41-53-18-14-17-8-89-25-89-48-36-16-123-32-37-17-35-28-72-79-17-13-18-9-54-12-160-13-53-17-36-26-27-35-39-71-15-36-5-18 15-15 8-2 63-4 107 6 71 16 36 15 35 25 31 31 58 69 36 27 36 13 106 24 66 27 94 60 125 58 29 24 42 48 18 13 35 8 89-4 31 6 15 18 3 18-5 35-8 18-13 18-23 17-18 8-35 10zM2376 999l19-54 26-53 33-54 30-36 39-35 78-53 97-56 35-18 8 3-3 18-7 17-51 100-35 53-36 39-53 42-89 53-71 35-18 3zM2034 981l6-4 2 4-2 2zM552 874l-24-8-18-14-24-31-29-54-7-35 7-15 18-11 17-5 36-5 53 0 54 7 35 10 31 19 23 23 20 30 15 36 3 17-3 18-18 14-10 4-43 6-53 2-54-3zM2246 874l6-18 47-71 29-35 35-36 65-53 74-54 18-8 16 8-30 54-35 53-28 36-30 29-35 30-71 47-36 21-18 5zM2192 821l8-13 5 13-5 3zM2203 803l41-53 49-54 59-53 61-48 8 12-97 112-106 91zM2108 785l11-35 26-54 19-31 20-22 34-26 73-45 69-37 8 1 0 18-8 18-53 76-43 48-46 39-71 48-18 8-18 0zM2421 589l10-7 4 7-4 6zM2446 572l3-2 1 2zM2590 429l1-2 1 2zM2602 412l7-10 4 10-4 3zM350 2676l5-6-5-10-11 10zM368 2657l5-4-5-11-10 11zM386 2640l5-5-5-12-11 12zM2769 2416l0-92-36-1-14 9z" fill="#f0fff4"/><path d="M137 2813l17 0 118-160 43-46 71-57 106-78 18-3 1 6-86 106 14 7 53-44 54-39 9 5-9 18-93 142 4 6 107-67 53-30 36-14 17 0 5 16-3 18-20 71-6 36 6 18 18 0 143-38 17-2 28 4 8 4 18 20 20 65 7 18 12 18 735 0-81-31-124-72-131-57-47-33-53-47-36-20-53-11-89-4-30-10-15-18-7-18-11-71-8-13-18-6-18 2-107 35-35 8-11-8 0-18 20-53 35-71-9-7-160 103-5-7 23-36 43-53-7-13-107 85-18 3 0-4 54-79 53-69 71-59 89-60 2 18-66 89 11 5 53-43 36-24 14 9-59 106 9 9 53-30 54-25 35-11 18 1 12 21 3 71 9 18 12 5 17 2 89-6 36 6 18 8 27 20 44 43 35 22 107 42 129 71 49 18 89 24 53 23 36 27 89 87 25 17 28 13 71 17 160 20 36 11 18 9 24 19 475 0-11-36 1-18 9-10 16-8 37-4 0-262-53 5-143-1-17 1-18 7-4 5 6 18 52 107 20 53 1 18-15 18-42 8-72 3-88-2-54-8-35-11-18-10-36-33-25-36-64-113-17-15-36-7-160-8-36-7-35-11-31-17-22-18-72-82-35-25-36-13-89-20-51-20-91-56-80-33-27-14-24-21-29-35-18-13-18-5-18-1-71 7-17-1-11-6-7-17 11-54 17-35 27-18 34-14 35-9 18 1 18 6 16 16 19 28 18 16 89 30 90 50 35 12 71 15 35 13 36 27 53 64 18 16 18 11 18 7 35 8 142 9 36 7 18 7 18 13 17 20 72 126 17 22 18 9 53 4 214-1 35-3 16-12-58-125-5-17 3-18 9-7 35-8 129-3 10-18-46-71 14-10 54 5 17 8 9-3-1-18-20-17-14-18 9-9 88-5 15-4 9-18-7-53 3-18 16-19 0-317-36 34-88 63-29 26-21 35-20 54-16 17-39 17-53 13-18 7-10 17 5 17 15 36-10 10-53-1-18-8-7 17 36 35-11 17-89-5-18 1-20 5 2 18 35 71 5 18-7 18-33 10-71 4-71-5-36-10-18-11-21-24-30-53-12-36 4-18 24-10 35-4 107-3 12-18-31-54-7-17 8-6 18-1 36 1 10 6 12 0 1-18-17-18-8-18 19-8 54-6 18-5 14-16 6-54 15-24 18-15 71-42 29-25 71-89 92-89 96-107 50-47 0-286-46 31-42 35-31 36-61 89-33 41-36 34-125 103-83 89-78 71-69 89-27 17-45 19-27 17-4 18 6 35-10 11-36 0-18 4-18-2-2 5 32 36-12 17-89-4-35-8-18-18-14-23-10-18-6-17 12-9 36 0 31-9-12-18-6-18 22-12 36-9 23-14 25-54 13-17 63-56 82-87 103-89 30-35 61-89 27-29 51-42 109-74 35-31 18-20 26-35 74-125 32-35 46-38 0-228-24 34-70 125-39 53-27 26-35 28-144 89-46 35-28 36-61 106-28 36-49 42-102 65-23 18-32 35-39 59-36 41-73 60-69 68-56 39-13 18-9 35-11 5-35 5-18-6-7 14 17 18 9 17-1 3-18 8-18 1-35-5-18-9-16-15-8-18 6-11 14-7 39 4 11-4-11-37 17-16 31-18 43-53 52-48 19-24 35-53 32-35 91-62 36-29 27-34 49-89 31-38 39-33 140-89 34-30 30-41 71-125 41-49 50-39 182-117 45-44 8-10 0-165-124 83-18 10-4-6 20-36 38-53 80-107-10-5-142 118-12-6 102-125 4-18-5 0-53 44-89 65-54 30-4-14 76-142 7-18-2-18-6-1-142 73-35 15-36 8-17-6-5-18 12-89 2-35-159 0-46 4-30-4-610 0 70 30 36 21 89 71 35 20 54 15 107 10 35 10 18 15 12 21 23 77 8 12 10 10 18 5 18 0 35-6 107-28 26 1 10 10 1 26-34 124 15 4 18-7 160-88 18 1-18 37-54 79-36 45-1 18 61-53 83-66 7 12-85 107 7 12 160-119 36-23 9 6-8 17-73 116-32 45-21 23-71 56-125 79-17 7-4-5 18-36 35-53 52-71-12-7-125 100-9-5 38-53 60-71 0-10-18 9-46 37-60 40-36 20-18 4-4-11 5-18 37-89 4-18-6-11-143 50-35 2-11-5-13-18-13-71-8-18-8-10-18-8-18-3-107-2-45-12-29-18-68-59-36-22-124-52-149-81-47-17-106-32-54-23-48-34-74-71-499 0 34 21 31 32 76 116 18 22 18 15 17 9 36 10 160 16 53 11 36 13 32 19 21 17 71 75 36 29 36 18 124 35 53 21 107 64 104 44 21 11 30 24 41 40 18 12 35 12 89-1 18 1 18 6 14 19 3 18-3 53 3 24 18 3 18-5 89-39 18-7 17-2 4 8-15 36-32 53-28 34-53 42-53 30-18 5-13-4-3-18 9-71-11-12-89 15-38-3-15-6-15-12-39-42-35-23-89-33-77-44-37-18-28-10-89-22-49-21-40-33-51-56-19-18-37-22-36-11-35-5-142-14-36-9-18-8-18-12-17-19-89-136-18-17-18-10-35-10-36-4-231-5-54-9-17-14-18-25-52-97-37-82 0 235 71 6 18 4 18 11 35 51 31 60 15 35 8 36-10 18-26 8-53 5-107 1 0 122 2 6-2 6 0 362 21-12 12-18 3-18-6-53 14-18 27-5 71-1 9-12-35-35 4-18 9 0 13 7 54 6 16-13-38-53-6-18 10-12 35-6 107 2 28-2 8-3 8-15-6-18-35-71-13-35-1-18 16-18 48-9 89-2 72 7 35 10 18 11 18 15 17 23 30 52 22 53 0 18-16 10-18 4-178 7-17 2-18 11 3 19 36 72 5 17-8 18-36 4-80-4-7 18 37 35-4 16-17-7-18 2-36-4-13 11 17 36 3 18-7 12-17 11-72 20-21 10-16 18-18 53-20 36-31 29-71 49-36 31 0 339 64-57 96-106 94-90 74-89 28-23 71-41 18-14 9-11 8-17 10-54 8-8 20-10 69-8 8-9-30-36 4-11 18 4 18-2 35 5 17-14-31-53-2-18 16-9 36-5 71 2 36 4 18 7 17 12 29 43 15 35 0 18-8 6-18 6-89 2-11 4 8 17 17 18 1 18-15 6-35-5-18 12 7 40-7 18-18 13-53 24-24 17-64 88-76 72-100 106-128 108-35 41-57 83-32 41-36 35-53 40 0 264 36-25 39-35 26-36 62-107 42-53 44-38 124-83 36-29 25-28 47-71 35-43 35-33 83-66 77-80 73-63 13-17 18-36 15-18 24-9 41-8 13-18-13-18 5-18 7-2 71 8 11-6-11-8-26-45-4-18 12-15 18-5 36-1 34 3 19 6 18 9 18 18 13 21 6 17-5 18-14 6-36 5-71 0-3 7 31 36-4 17-6 3-36 0-15 15 1 18-5 18-15 17-47 36-66 71-79 71-23 29-40 60-31 36-45 35-81 54-41 35-29 37-60 106-29 35-17 17-50 37-128 80-54 46-26 34-70 124-28 43 0 103 36-42 53-44 151-95 62-43 24-29 81-142 38-47 52-42 118-71 48-36 24-35 38-71 25-36 17-18 33-26 107-67 27-31 34-53 28-29 56-43 35-35 16-11 17-7 18-2 5 2 6 18-10 18-35 35-32 54-16 17-22 18-74 48-17 17-53 95-28 36-45 35-106 65-29 24-14 18-71 125-28 35-35 33-28 20-150 98-33 27-21 26-81 134-54 71-63 54-104 73 0 87zM563 2492l2 0-1 3zM917 2137l6 0-4 9zM1019 2030l21-36 28-35-6-13-89 68-18 5-2-7 37-61 38-45 51-40 54-30 3 16-51 71 12 6 54-42 36-17-1 18-7 18-15 35-13 23-44 30-63 37-18 7zM1753 2030l-26-18-16-18-30-53-4-18 7-8 36-8 89-2 53 6 18 14 18 26 20 43 5 18-2 18-6 4-35 10-71 0-36-6zM1525 1888l-30-18-42-33-54-20-17-18-4-18 7-18 15-7 17-1 18 5 53 29 72 8 17 5 18 9 18 18 14 23 8 18 4 18-8 7-36 6-35-3zM1281 1763l12-21 18-19 17-13 18-6 10 6 2 18-7 17-5 4-22 14-31 13zM1216 1745l22-35 19-19 36-21 15 4-8 18-31 36-47 32zM1576 1550l2-18 14-18 39-22 13 4-7 18-24 26-18 11-18 1zM1287 1514l-12-3-10-15 10-18 36 12 7 6-7 19zM1521 1496l3-3 2 3zM1346 1443l-20-18-6-17 8-14 18-4 18 2 30 16 14 17-8 18-36 4zM1684 1443l4-18 15-35 25-36 19-18 79-52 18-8 15 7-15 36-18 30-34 41-55 36-35 17zM1635 1372l8-18 29-35 20-18 45-31 9 13-43 53-54 43zM1558 1336l-17-35-17-15-71-17-71-40-36-10-53-9-36-13-25-21-46-63-18-16-17-8-36-6-142-5-36-9-18-13-17-24-36-69-11-36 10-17 37-7 71-1 53 5 36 9 24 11 29 23 71 91 36 17 89 15 41 14 83 54 83 35 18 18 24 37 17 11 18 0 71-15 13 3 5 17-7 18-20 36-18 18-26 16-18 7-18 3zM1746 1265l9-5 3 5-3 5zM1897 1230l15-36 20-35 24-36 30-36 41-35 102-71 18-9 16 9-62 106-43 50-36 27-53 33-54 29zM1854 1159l21-36 42-53 58-54 65-47 7 12-78 98-107 84zM2049 963l9-6 3 6-3 4zM2162 963l5 0-3 12zM2162 856l2-4 2 4zM2438 572l11-8 4 8-4 5zM2462 554l5-4 2 4-2 2zM2571 447l2-3 2 3zM2584 429l7-9 4 9-4 4zM190 2813l44 0 86-107-5-10-141 117zM279 2813l87 0 62-107-7-5-35 22-122 90zM546 2813l19 0zM332 2692l4-4-4-6-7 6zM439 2692l4-4-4-3-3 3zM350 2673l2-3-2-4-4 4zM368 2654l0-5-3 4zM386 2637l2-2-2-5-4 5zM404 2620l3-3-3-8-7 8zM421 2604l6-5-6-13-9 13zM2769 2395l0-63-18 5-5 13zM741 2285l5-6-5-9-11 9zM848 2285l6-6-6-6-5 6zM759 2265l4-4-4-6-7 6zM777 2246l3-3-3-6-6 6zM795 2229l4-3-4-9-7 9zM1079 1947l6-6-6-11-11 11zM2324 743l10-11-10-6-5 6zM2342 724l11-10-11-6-5 6zM2769 295l0-12-4 4zM2769 216l0-20-16 20z" fill="#f4fff0"/><path d="M137 2813l12 0 14-18 65-89 36-53 8-18-11-2-142 98 0 82zM190 2813l39 0 58-72-8-13-102 85zM279 2813l81 0 29-54 5-18-8-5-18 8-98 69zM937 2795l28 18 645 0-50-22-125-70-124-52-36-22-71-62-36-18-53-10-89-1-18-3-14-7-13-18-6-18-8-53-7-18-5-7-18-9-35 4-125 45-18 0-1-15 42-107 2-18-7-5-18 6-36 21-88 61-8-11 67-89-6-11-71 54-71 64-54 57-67 85 14 6 107-85 12 7-70 107-11 18-5 18 2 2 36-15 107-61 35-17 18-5 9 7-2 18-26 89-3 35 4 8 18 7 18-2 124-31 18-2 25 2 11 5 11 13 8 18 16 58zM577 2475l4-4 7 4-7 10zM597 2457l2-2 4 2-4 4zM615 2439l2-2 4 2-4 4zM631 2421l4-5 8 5-8 7zM2253 2797l14 16 434 0-39-67-17-12-54-5-213-4-54-6-35-11-18-10-18-17-89-136-17-18-18-12-18-8-36-8-142-13-35-7-36-11-21-11-23-18-63-68-35-30-36-17-105-27-37-14-107-60-89-33-27-18-44-46-18-13-18-6-17-2-36 3-53 9-18-2-6-14 8-71-2-10-18-5-18 7-35 19-54 34-6-9 49-72-7-11-53 38-54 46-35 40-49 65 13 7 89-67 12 7-51 89-4 18 8 6 17-5 89-39 36-10 16 12 2 82 2 7 15 17 18 4 107 0 35 12 18 13 43 43 28 21 125 55 107 62 53 22 107 28 35 15 41 28 88 89 31 23 27 13 44 13 36 7 125 12 53 9 35 16zM950 2101l5-4 7 4-7 9zM969 2083l4-4 7 4-7 7zM297 2729l5-5-5-9-12 9zM2733 2724l36 1 0-239-160 6-18 4-18 12-3 20 11 36 28 58 36 65 17 24 18 8zM315 2709l2-3-2-4-6 4zM421 2601l0-6-3 4zM315 2590l17-7 54-38 106-79 53-45 32-35 27-36 49-71 30-53-13-2-106 68-72 48-35 31-29 33-36 53-79 124zM439 2585l5-4-5-11-8 11zM124 2564l31-34 24-20 165-106 42-30 27-24 41-53 60-107 32-45 35-33 131-82 45-36 30-35 51-89 28-37 36-30 71-47 35-28 16-18 55-79 50-46 45-53 52-36 0-35 13-5 36-3 12-10-4-18-12-17-14-12-35-10-36-1-21 5 0 18 13 17-3 18-7 2-37-2-16 13-5 23-8 17-69 54-51 53-86 71-30 35-49 72-15 18-46 35-86 55-41 34-43 54-62 106-32 35-49 37-128 79-55 45-42 53-70 125-29 42 0 71zM2253 2458l54 4 71-1 51-4 20-7 13-11 1-18-12-35-40-89 4-18 34-7 107 0 35-4 12-7-2-18-37-53-7-18 16-2 18 1 36 9 18-4 17 1 1-5-18-10-3-7-18-18-3-18 95-3 17-8 6-7 2-18-5-35 0-18 8-18 25-17 0-280-35 30-72 50-25 22-25 35-17 54-11 17-26 18-74 20-24 16-2 17 16 36 3 18-28 2-36-7-15 5 1 18 19 17 13 19-18 7-89-3-17 4-12 9 2 18 40 89-8 17-40 6-160 5-37 7-5 18 6 18 25 53 32 54 32 32 18 10zM2769 2373l0-26-4 3zM724 2300l3-3-3-5-8 5zM137 2262l23-19 33-35 25-36 61-105 36-44 53-45 108-72 41-36 30-36 48-71 29-35 29-28 74-61 84-89 62-54 15-17 31-60 16-11 59-18 3-18-13-18 6-18 18 6 36-1 15-5-2-17-9-18-22-40-12-14 12-3 196 0 17 21 36 60 18 16 35 12 72 11 53 30 18 5 35-2 15 11 5 35 16 4 35-22 17-17 22-36-3-10-18 3-53 21-18 3-7-35-11-21-18-12-53-21-53-38-34-15-20-4-89-5-17-17-24-45-25-35-19-18-21-12-36-10-35-4-54 1-38 7-11 18 3 18 28 60 18 29-18 11-88-3-18 1-18 7-1 1 10 18 16 18-3 18-4 1-18-5-36 0-11 4-1 18 4 35-9 14-18 10-54 24-30 23-51 71-95 89-65 72-38 35-94 75-36 34-28 33-61 89-29 36-38 35-57 40 0 241zM1880 2244l53 3 71-2 18-2 18-15-4-20-7-18-43-84-17-23-18-13-36-6-142-5-36-8-17-9-13-12-41-55-17-20-18-12-18-8-71-13-36-10-71-41-67-19-18-18-22-35-17-3-36 11-36 23-17 23-18 36-4 17 4 15 18 1 71-13 18 2 17 16 22 32 22 18 81 33 57 38 35 18 32 10 89 17 18 7 18 12 62 78 27 25 35 18zM830 2193l4-3-4-10-6 10zM724 2189l129-88 31-24 30-29 27-36 33-53 19-36 3-17-6-1-106 63-39 26-32 29-36 47-58 102zM2004 2052l107 4 36-3 15-5 5-18-30-53-5-18 32-1 36 7 16-6-3-18-15-18 2-13 4-4 67-7 25-11 8-18 4-36 6-17 13-18 25-18 61-35 24-18 91-107 93-89 97-107 51-44 0-260-51 38-37 35-28 36-61 89-36 41-140 119-81 89-77 71-30 35-34 54-20 17-63 30-18 13-8 11-1 18 7 35-16 6-35 1-18-4-7 15 30 36-5 7-18 5-71 1-22 4-10 18 13 36 19 34 18 25 17 11zM1044 1979l2-2-2-4-6 4zM1133 1891l4-3-4-14-6 14zM1026 1884l83-50 48-35 27-36 18-35 14-36-12-4-36 18-53 32-30 25-28 36-28 53-8 18zM1151 1877l61-43 18-17 32-54-5-7-35 19-30 24-24 24-33 47zM1684 1870l36 13 53 4 36-5 17-12-3-18-28-53 14-8 71 1 3-11-13-18-3-18 65-17 19-14 32-57 17-18 63-54 68-71 88-71 37-35 29-36 48-71 31-36 44-35 112-74 56-51 33-44 57-98 24-36 36-35 43-31 0-200-24 35-70 125-42 53-43 36-141 89-46 35-31 36-65 112-36 44-36 30-93 63-42 35-29 36-35 53-30 36-81 71-48 53-65 54-10 17-5 36-60 13-2 5 25 35-5 11-89 6-17 7-10 12 4 18 21 35zM126 1745l55-53 80-90 92-88 86-104 27-20 61-36 22-18 12-17 5-18 3-36 9-18 21-8 71-9 2-18-16-18-1-18 15-4 36 6 27-2-2-17-31-54 1-18 23-6 106-4 41-7 10-18-10-36-28-53-30-36-18-11-18-5-53-6-107 2-19 3-17 8-7 9 2 18 39 89-16 13-107-2-17 6 11 19 18 17 3 18-15 5-35-7-30 2 2 18 16 36-1 17-23 14-79 22-25 18-11 17-19 54-10 18-15 17-21 18-78 54-44 40 0 303zM1506 1754l36 8 18-1 17-12 2-4-4-17-15-23-18-10-18-3-53 0-18-3-18-15-18 3-2 15 2 2 36 7 3 9 16 18 19 17zM1222 1681l71-41 18-16 27-56-10-8-5 8-48 30-18 15-19 26-18 35zM1346 1677l4-3-4-13-5 13zM1364 1664l10-7 10-18-2-3-18 6-16 15zM1577 1662l18 6 36-4 2-7-8-18 6-10 52-26 33-35 66-54 27-30 35-54 21-22 23-18 86-54 41-35 27-36 51-91 29-33 149-94 53-42 36-44 81-140 30-36 31-24 178-113 53-44 36-41 0-144-116 82-59 53-38 51-89 142-33 38-38 29-146 96-43 35-16 18-25 36-62 106-29 34-35 27-102 64-41 35-25 36-39 71-13 18-29 24-71 47-20 18-49 71-35 35-16 36-40 14-3 4 3 3zM1346 1552l1-2-3 0zM1382 1505l8-9-13 0zM1577 1484l18-4 18-10 34-27 19-25 14-28-14-7-39 25-22 17-16 18-10 18-6 18zM1755 1312l71-42 36-29 36-44 35-56 7-18-7-3-35 23-72 56-9-5 63-90-18-1-107 59-14-3 13-54 3-35-2-7-16-11-90 7-18-2-18-7-18-14-33-37-20-17-107-46-89-54-53-21-89-21-36-13-35-26-71-80-18-15-36-19-35-11-36-6-160-11-18-3-18-8-17-16-68-114-21-29-24-24-30-18-53-14-89-6-113 2-29 5-18 7-7 6-2 18 4 18 66 142 5 18-10 18-38 3-142 1-36 4 0 84 18 32 2 18-20 7 0 327 15-14 6-18-6-53 3-19 18-9 88-3 11-5-7-17-19-18-2-13-18-4 0-3 18 1 17-5 54 10 18-4-8-18-37-53-1-18 10-5 18-3 107-1 43-9 8-18-4-17-49-107-6-18 8-13 11-5 42-3 213 2 36 6 18 11 17 22 72 122 17 21 18 12 18 6 36 6 142 10 35 8 18 8 18 11 18 17 51 62 21 17 34 18 89 20 36 12 89 51 72 24 27 18 27 35 16 14 18 5 18 0 89-26 2 7-25 71 5 13 18-8 71-49 5 9-28 35-20 36zM1801 1212l8-8 4 8-4 4zM2004 1054l3-2-3-2zM2022 1044l18-10 107-75 35-33 42-52 60-89-13-7-107 84-11-6 68-89 8-17-11-1-107 72-36 21-17 7-2-11 26-53 22-53 5-18-8-18-8-1-18 4-89 31-35 9-18 0-17-7-8-18-12-71-9-18-7-8-18-9-18-4-89-3-35-6-18-6-36-21-56-50-33-22-142-63-124-72-54-22-124-37-54-25-35-26-92-88-443 0 37 35 89 127 35 30 18 8 36 11 160 19 35 7 36 11 35 18 18 13 89 88 36 25 53 23 125 37 35 16 107 60 107 43 35 23 47 46 24 17 18 7 36 5 89-5 17 3 11 8 7 17 3 72 15 18 18-1 35-12 107-50 2 10-58 107 3 13 17-10 89-66 6 9-42 54-23 35zM2086 927l7-6 3 6-3 4zM2106 910l5-5 2 5-2 2zM2124 892l5-5 2 5-2 2zM2139 874l8-9 3 9-3 4zM2289 777l5-10-5-2-4 2zM2378 684l9-6-9-4-4 4zM2396 673l115-84 62-49 22-22 43-53 90-125-12-6-125 102-12-7 101-126-18 1-178 128-17 5-1-8 54-92 35-68 4-17-3-7-18 1-18 6-107 52-53 22-18 4-18-4-3-21 16-107-1-18-8-17-84 0-80 16-35 2-18-1-18-7-14-10-528 0 70 35 90 71 44 25 54 13 106 8 36 11 18 17 14 33 16 53 11 18 12 11 18 5 35-1 125-35 18-2 17 4 4 18-3 18-24 89-2 18 8 12 17-2 36-15 71-40 71-45 13 1-30 53-72 107 18 1 125-99 5 9-59 71-26 36zM2478 536l6-6 4 6-4 4zM2498 518l4-3 2 3zM2517 501l3-3 1 3zM2535 483l3-4 1 4zM2550 465l6-6 2 6-2 3zM2565 447l8-11 5 11-5 4zM137 409l35-8 12-7 3-18-18-53-50-98 0 186zM2733 332l7-9-7-4-3 4zM2751 307l0-3z" fill="#f8ffec"/><path d="M137 2813l7 0 27-36 39-53 33-54-17-3-107 69 0 77zM190 2813l35 0 59-72-5-8-36 26-63 54zM279 2813l74 0 18-36 3-18-6-4-18 7-53 35-22 16zM973 2795l35 9 95 9 465 0-133-72-142-58-36-24-68-60-21-12-17-7-36-7-36 0-71 4-18-1-17-7-13-23-9-71-7-18-7-8-18-8-35 3-36 12-53 24-47 30-24 31-20 40-18 54-2 35 4 8 18 7 18-1 124-33 36-4 18 4 14 19 22 89 17 24zM2289 2810l1 3 395 0-23-31-17-16-36-17-53-8-89-4-207 4 4 18zM297 2726l0-6-5 4zM2004 2728l89 10 107 2 35-2 11-14-64-125-26-35-27-26-36-18-35-9-160-14-54-13-35-23-68-75-39-30-53-22-107-28-36-16-89-48-89-26-17-9-18-16-28-36-26-22-17-6-18-1-36 5-35 13-18 11-18 19-13 34-4 35 6 18 11 12 18 7 18 1 89-3 35 11 18 14 44 47 22 18 34 18 78 33 121 73 57 22 106 25 36 14 36 28 61 72 40 35 41 23zM2733 2710l36 4 0-217-107 1-35 5-22 7-13 18 0 18 11 35 28 54 31 42 18 14 18 9zM528 2611l53-27 65-38 54-36 18-18 13-17 36-71 14-36-1-18-3-2-18 4-53 32-50 37-40 36-52 63-40 61-9 18zM439 2582l0-3zM457 2567l4-3-4-11-7 11zM350 2555l18-6 36-22 93-70 40-36 33-35 40-54 23-35 9-18 4-18-11-2-71 40-54 37-53 46-36 43-35 53-39 68zM475 2552l94-77 38-36 87-107-6-9-71 54-71 67-54 61-30 41zM137 2518l18-7 150-90 52-35 42-36 31-35 27-41 35-66 31-71-13-5-106 57-72 43-59 47-32 36-35 53-72 142zM2235 2441l54 8 71 2 53-8 18-10 9-12 0-17-4-18-23-47-35-51-18-12-18-7-71-7-89 3-35 7-15 7-10 18 1 18 5 17 19 37 17 26 18 18 18 13zM706 2317l0-6-5 4zM123 2261l40-35 30-36 72-124 41-54 44-35 106-71 43-36 30-36 59-89 29-33 103-91 62-71 78-71 12-18 6-18 6-38 18-11 53-11 20-11-8-18-20-18-8-17 16-3 18 10 35 1 18-3 6-5-5-18-19-22-35-20-36-6-35 0-11 12 14 18 22 18 9 18-17 3-17-11-36-1-18 1-8 8 12 53-4 7-18 11-59 18-31 17-17 18-23 36-30 34-81 72-83 89-120 94-36 32-43 52-59 89-32 36-45 35-52 34 0 218zM2484 2262l54 2 35-4 13-17-7-17-42-54 1-4 18-7 53 8 18 7 10-4-1-17-37-36 10-10 71 1 18-2 20-7 8-18-6-53 3-18 15-18 31-13 0-247-89 65-39 35-18 36-16 53-15 18-19 9-71 19-18 8-10 17 4 18 19 36-13 13-35-5-18 1-18-6-6 15 39 35 3 10 8 8-26 2-53-5-36 0-18 4-9 17 4 18 23 41 18 25 18 18 18 10 17 5zM1880 2228l53 3 36-4 17-6 15-13 2-18-4-18-13-27-17-26-18-17-18-10-18-6-35-6-36-1-53 3-18 4-18 9-5 6-1 18 6 18 22 35 14 16 35 25zM919 2208l18-2 38-16 65-35 21-18 14-18 8-18 10-35 0-18-14-9-17 4-36 20-36 27-27 29-26 36-18 35zM848 2174l0-7-3 5zM866 2160l71-59 35-35 41-54-5-7-53 37-53 51-36 44-11 18zM759 2150l57-31 48-36 38-34 40-55 15-35-2-8-18 1-35 17-41 25-41 36-28 36-32 53-7 18zM528 2124l4-5-5 0zM546 2113l124-68 48-33 23-19 30-34 22-36 45-106-8-4-106 57-54 34-35 31-34 42-21 35-40 89zM1577 2050l36 4 18 0 21-6 7-18-5-18-11-18-17-17-31-17-35-6-89-2-12 7 12 5 23 30 40 36zM2022 2036l36 6 53 1 18-4 14-9-1-18-13-23-36-40-35-14-18-2-36-3-35 3-19 8-3 18 6 18 16 25 17 17zM1417 1945l36 6 5-10-23-18-18-6-17 2-4 4 11 18zM2129 1942l35 9 18-1 18 7 3-16-35-35 14-14 53 0 25-4 11-6 11-12 8-53 8-18 9-9 17-13 72-38 35-29 59-71 112-107 97-107 70-59 0-233-54 43-33 36-74 107-35 42-35 34-100 84-96 104-77 74-14 17-29 54-13 17-27 18-53 23-19 13-6 18 3 17 18 36-14 3-18-1-35-6-12 4-2 18 31 31 18 14zM1239 1889l20-1 34-18 11-18-4-18-7-4-18 2-18 12-20 26zM1168 1855l4-3-4-9-5 9zM1720 1859l35 7 18-2 19-12-3-18-16-19-18-10-22-6-31 1-20 17 5 17 18 18zM1079 1835l33-18 23-18 16-18 11-18 4-18-15-4-18 7-36 27-19 24-9 18 6 17zM1186 1840l25-23-7-13-30 30zM848 1808l83-45 49-35 30-36 43-89-9-8-9 8-80 49-50 40-38 53-24 54zM1222 1804l3-5-3-6-10 6zM1844 1782l3-1 3-18-24-19-17-8-36-1-5 10 23 19 18 8 17 1zM128 1728l35-36 80-91 105-105 69-88 22-20 71-42 18-14 12-13 7-18 2-54 15-16 71-8 18-7 3-4-11-18-18-18 2-17 10 0 14 7 35 1 18-1 8-7-7-18-19-27-35-37-54-15-89-8-13 16 37 35 0 18-11 0-13-8-53-3-13 11 22 53-7 18-77 18-41 18-15 17-20 54-21 35-24 22-89 60-53 52 0 265zM1862 1716l36 0 18-6 16-18 16-35 13-18 70-54 90-89 79-57 36-31 30-36 46-71 30-39 41-32 84-51 53-36 53-51 36-51 42-78 29-46 36-33 53-35 0-173-35 56-54 102-27 40-26 24-36 24-126 77-52 41-39 47-58 107-25 36-38 32-87 57-44 35-30 36-58 89-76 71-57 71-57 42-9 11-1 18 10 16zM1062 1595l10-10-10-8-8 8zM1079 1576l7-8-7-4-6 4zM1737 1502l19-6 18-17-1-11-18 4-10 7-12 17zM1168 1482l8-3-8-3-5 3zM1222 1426l6-1-6-3-3 3zM1880 1362l18-2 35-15 36-22 26-22 27-32 14-22 21-53-17-7-18 6-64 37-42 35-15 18-21 36-6 17-1 18zM1328 1307l18 0 7-6-25-17-11 17zM1773 1284l3-1-3-1zM1791 1278l35-21 36-32 36-46 9-20-9-5-8 5-28 18-40 35-31 35-10 18zM1737 1249l36-26 36-34 37-48-2-10-18 5-37 23-40 35-21 36-1 17zM1044 1216l18 6 35 3 36-3 18-4 11-6 6-12 2-6-4-18-10-17-17-18-33-18-44-8-36 2-18 4-4 2-13 18 2 18 21 35 12 12zM1613 1181l18 7 18-1 31-11 22-15 17-20 8-18 5-18-3-18-9-8-18-3-18 2-89 19-15 8 16 54zM124 1105l2-18-7-35 0 63zM1471 1091l53 9 36-4 11-9-12-35-25-36-28-19-53-21-36-18-67-48-39-21-54-15-89-11-17-5-18-11-71-100-18-18-36-24-53-18-71-8-71 4-18 4-16 9-5 18 3 18 23 53 30 44 18 15 18 11 36 11 35 4 142 4 36 5 18 11 53 74 37 35 40 17 83 18 36 10zM2147 1103l35-15 53-29 38-25 43-35 31-36 23-36 29-53 15-36-1-6-17-3-54 28-79 53-42 35-44 54-31 53-13 35zM670 1057l18 5 53 5 72-3 17-4 16-8 7-18-3-18-17-35-13-18-18-18-25-14-36-11-35-4-71 3-28 8-11 18 3 18 18 37 18 26 18 20zM130 1016l96-3 11-14-37-36 3-18 9 0 14 9 17-1 36 6 16-14-51-71 6-18 136 1 18-3 17-7 10-9 3-17-12-36-31-53-23-28-18-12-18-7-71-10-106 0-23 3-13 7 0 48 42 70-1 18-41 0 0 206zM2040 1021l53-31 54-40 24-23 47-55 36-51 9-18-10-5-33 23-84 71-34 35-44 54-22 35zM1986 984l18-1 54-41 53-47 91-110-2-14-78 50-65 53-42 53-29 54zM1880 923l18 1 35-11 53-29 36-28 29-35 28-54 9-35-13-16-17 2-36 11-124 46-17-8 4-53-2-36-3-17-9-18-9-9-18-9-18-4-89-3-35-6-18-6-35-23-51-47-24-18-32-18-107-46-131-78-47-20-142-41-36-15-35-25-75-77-41-35-388 0 95 138 21 22 32 22 53 18 178 22 54 14 24 13 25 17 75 76 18 15 36 24 53 21 124 37 143 75 106 39 36 24 44 45 27 19 36 10 35 0 36-6 71-17 10 12-7 89 3 18zM2502 744l54-26 106-66 54-42 35-37 18-23 0-125-59 40-65 50-24 21-33 36-50 71-40 71-6 18zM457 661l71 3 89-3 36-6 27-12 6-18-4-18-13-35-31-54-21-25-18-16-35-21-36-10-53-7-71-2-54 4-35 10-16 14-4 18 3 18 22 53 30 52 18 23 18 14 18 9 17 5zM2396 664l5-3-5-3-3 3zM2413 654l18-11 89-66 67-59 45-53 77-107-11-6-53 41-72 61-14-7 88-107 8-17-10-1-107 78-80 65-27 31-42 58-34 53-6 18 11 1 124-102 7 12-61 71-24 36zM2492 518l10-9 5 9-5 6zM2511 501l9-9 4 9-4 4zM2529 483l9-10 5 10-5 4zM2545 465l11-13 5 13-5 5zM2235 564l18 0 54-23 65-40 59-46 23-26 48-73 35-69 3-18-2-3-18-2-18 5-178 87-17 7-18 0 25-94 8-53 0-18-8-18-7-6-18-4-18 0-124 24-36 3-18-1-18-6-10-10-12-17-459 0 55 32 88 71 36 17 53 11 107 4 18 3 18 7 14 15 9 17 20 72 10 18 18 14 18 4 17 1 36-7 53-16 89-35 18-2 2 5-44 142 0 18zM135 394l24-18 3-18-2-18-13-35-28-55 0 148zM2716 347l4-7-4-2-3 2z" fill="#fcffe7"/><path d="M137 2813l2 0 54-72 21-35 4-18-10-2-36 20-53 35 0 72zM190 2813l32 0 44-54-5-9-78 63zM297 2813l49 0 8-18 3-18-7-4-18 6-51 34zM1097 2795l54 7 29 11 348 0-111-60-106-38-36-15-36-26-38-39-33-26-35-15-36-5-35 1-36 6-36 10-23 11-16 18-5 18-3 35 4 36 5 17 10 18 11 11 17 11 18 6zM2324 2813l344 0-23-26-15-10-39-17-53-10-71-2-71 2-58 9-14 7-11 11-3 18 3 18zM279 2744l2-3-2-3-5 3zM2093 2724l36-1 35-5 25-12 8-18-7-35-16-36-24-36-21-21-20-14-34-15-53-10-71-4-71 1-36 3-20 7 1 18 28 53 25 36 37 37 36 23 35 14 54 11zM2716 2691l53 13 0-198-89 0-31 4-22 9-12 9-5 18 2 18 13 35 20 33 17 23 18 16zM706 2662l18 7 53-10 118-42 24-18 11-18 7-53-2-36-6-17-10-11-17-7-18 0-36 10-52 25-37 28-22 26-28 53-9 36 1 18zM546 2593l35-17 51-30 38-27 31-27 28-35 20-36 14-35-2-18-20 3-53 32-35 27-36 34-40 46-36 54-8 17zM475 2549l4-3-4-11-7 11zM368 2530l18 0 35-21 69-52 40-36 33-35 40-54 19-35-5-17-36 16-53 35-65 55-31 35-26 36-22 35zM492 2534l70-59 54-54 60-71-6-9-59 45-73 71-58 71zM1631 2494l53 11 53 4 18 0 18-5 7-12-6-17-20-36-28-35-24-22-24-14-29-11-89-19-54-16-78-43-28-11-36-6-18 1-18 9-5 7 1 18 9 18 13 17 18 14 107 50 89 64 35 20zM190 2474l36-15 89-52 53-39 36-34 29-37 30-54 15-35 3-18-6-14-18 1-18 6-71 36-53 36-47 42-41 53-38 71-12 36zM2307 2439l35 1 36-4 18-5 17-11 7-16-1-18-6-18-17-31-18-23-18-15-18-10-35-11-36-4-53 1-33 4-21 9-12 9-6 18 3 17 6 18 23 36 18 18 39 22 36 9zM688 2334l0-4-4 2zM131 2243l35-35 27-36 68-129 22-31 40-35 116-74 36-29 22-22 27-35 41-72 25-35 27-27 73-62 71-89 69-59 8-12 4-18-11-18-18-3-18 2-18 7-19 12-51 71-90 73-81 87-26 22-106 75-51 46-38 48-46 76-27 36-45 35-78 46 0 195zM1115 2248l18 9 18 1 35-4 44-11 22-17 2-18-5-18-9-18-18-17-18-5-36 2-17 8-20 12-15 18-8 18-2 18 4 17zM2431 2244l71 10 36 0 18-4 11-7-1-17-10-18-18-21-18-18-36-25-35-11-71-9-18 1-18 6-7 6 0 18 8 17 17 26 18 18 18 13zM1880 2210l53 2 18-4 18-14 4-22-6-17-16-24-18-16-18-9-35-8-36-1-26 4-27 17-3 19 6 18 12 17 20 18 18 9zM955 2183l35-14 47-32 16-18 11-18 6-18-2-17-6-5-18 4-31 18-23 19-17 19-24 34-7 17zM2573 2158l18 5 18-3 18 6 2-11-20-13-2-5-34-32-7-4 7-7 89 8 20-1 16-6 11-12 1-17-9-54 5-18 27-17 36-10 0-213-71 49-37 31-13 18-7 18-10 53-6 18-27 18-81 18-15 7-10 10 0 18 8 18 29 36-9 9-71-14-16 5 2 17 49 43 36 17zM2536 2083l10 0zM884 2140l4-3-4-12-8 12zM777 2120l18 1 4-2 31-18 44-35 46-54 8-18-2-17-7-2-35 17-50 38-21 24-21 29zM902 2126l46-43 32-35-7-12-36 28-36 37-13 18zM599 2065l36-14 39-21 32-22 35-31 26-36 16-35 3-18-9-18-18 2-18 6-35 18-40 27-31 30-30 41-16 36-5 18zM990 2034l3-4-3-4-7 4zM2075 2031l21-1 15-5 10-13-6-18-22-23-35-20-36-7-18-1-18 4-13 12 2 18 11 17 18 16 36 15zM2164 1944l10-3-1-18-26-20-18-10-36-12-18 3-17 0 0 5 17 11 2 6 16 11 18 10zM2182 1876l36 3 17-2 20-7 10-18-2-71 8-8 18-8 71-26 44-29 78-89 98-89 97-107 40-35 52-39 0-205-38 30-34 36-26 35-57 89-30 36-124 107-94 106-75 72-25 35-7 18-13 53-11 6-88 28-18 16-3 4 1 17 12 18 25 18zM128 1710l98-111 101-103 27-35 32-49 18-20 27-20 66-36 20-17 10-18 3-18-3-18-17-38-18-10-35-2-53 5-36 11-20 16-11 18-17 54-9 17-14 16-26 20-84 53-32 29-36 38 0 226zM937 1721l19-11-1-11-23 11zM2093 1471l18-2 18-7 35-19 36-26 29-27 28-36 18-35 5-18-7-18-38 13-41 23-30 20-35 33-14 18-19 35-9 36zM884 1357l18 9 17 2 18-3 8-11-20-18-41-11-16 11zM1915 1325l18-2 18-9 35-27 19-22 9-18 5-17-15-7-18 6-29 18-21 18-25 36-2 18zM955 1304l35 6 10-9-16-18-11-6-36-9-13 15zM1809 1251l6-4-6-3-3 3zM1826 1241l18-13 27-34-9-5-27 23-16 18zM546 1213l53 2 30-3 5-18-17-18-25-17-8-18 15-3 18 14 18-1 35 8 19 0 3-18-13-18-26-26-36-19-36-9-35-5-18 0-16 6 11 17 20 18 3 8 23 10 11 18-16 3-18-15-18 2-36-10-17-1-12 3 2 18 27 45 18 21zM1773 1213l37-37-1-12-18 9-23 21-12 18zM2342 1219l18-1 18-6 71-35 53-34 44-38 31-35 32-54 24-53 9-36-15-4-54 23-89 51-53 41-30 32-33 53-28 71-2 18zM1062 1198l35 4 18-4 8-4 7-18-11-17-22-15-18-6-35 1-6 2-13 18 8 17 11 11zM1649 1150l17 1 19-10 8-18-9-11-18 2-18 9-7 18zM2164 1074l18-1 46-21 43-27 36-30 28-32 25-37 18-34 6-18-1-18-5-2-18 5-36 18-49 33-43 35-32 36-23 35-16 36-1 18zM724 1053l35 2 36-3 18-7 13-11 2-18-5-17-11-18-15-18-38-23-53-11-53 1-18 6-14 9-4 18 6 18 12 20 18 20 35 23zM137 1005l71 0 17-6-12-18-19-18-4-13-20-5 2-11 18 9 18-3 35 9 18 2 21-6-9-18-13-17-52-53-18-12-71-17 0 177zM2058 1001l5-2-5-3zM1257 985l36 10 35 3 18-2 18-9 4-6-6-18-15-18-21-18-35-17-34-8-18 0-26 8-7 17 6 18 13 18zM2075 993l36-23 53-45 54-62 17-25 8-17-8-4-35 25-77 68-32 35-25 36zM2022 964l53-42 49-48 60-71-2-10-18 6-32 22-65 53-30 36-23 35-7 18zM1898 904l17 1 36-12 35-21 36-31 28-38 16-36 3-17-11-14-36 6-36 13-55 30-20 18-13 20-12 33-2 18 3 18zM973 857l53-4 18-4 21-11 8-17-3-18-18-36-26-28-38-25-33-11-36-7-35-1-36 3-18 5-18 11-7 18 7 35 18 32 19 22 27 17 26 10 35 7zM2698 864l18-3 53-24 0-147-35 60-24 53-14 35-2 18zM243 839l54 7 53 2 36-3 18-7 11-17-1-18-10-26-18-29-18-21-18-15-18-10-35-12-54-7-53-1-35 4-24 10-5 18 4 18 21 35 21 28 36 33zM1702 788l35 7 36-2 36-12 24-14 11-12 13-23 5-18-1-36-8-17-9-10-15-8-38-6-89 0-36-6-17-9-17-15-50-53-22-18-31-18-112-50-116-74-62-26-142-35-35-15-36-29-79-91-44-35-332 0 25 53 33 53 31 36 28 22 36 16 35 10 54 7 124 11 53 12 36 19 18 16 58 65 49 39 53 25 107 28 35 12 107 57 35 16 107 29 18 11 18 16 41 51zM2520 719l18-2 18-8 82-48 60-44 45-45 26-33 0-108-99 70-41 35-33 36-28 35-33 54-17 35-3 18zM439 645l36 6 53 2 53-3 36-5 18-7 17-13 5-18-1-18-14-35-25-39-35-32-34-18-38-11-53-6-53 0-54 9-19 8-13 18-2 18 4 17 14 36 22 35 30 32 18 12zM2413 645l4-2-4-2zM2431 636l18-10 53-40 71-61 68-78 50-71-11-6-35 26-61 51-56 54-80 88-24 36zM2378 608l71-58 71-65 109-127 8-18-10 0-75 54-45 35-40 37-46 52-49 71-5 18zM2253 548l18-1 18-6 35-18 54-34 49-42 40-46 37-61 17-35 2-18-3-4-18-2-18 5-41 19-97 53-39 31-29 40-23 54-10 35 0 18zM2058 431l17 3 36-3 53-16 54-25 21-14 20-18 23-35 14-36 9-35 2-41-6-13-12-10-18-4-36 3-124 28-36 3-17-3-17-17-11-35-395 0 31 22 71 61 18 11 36 15 53 9 107-3 35 4 8 5 12 18 19 89 15 25zM129 376l12-18 2-18-10-35-14-31 0 108zM2698 364l3-6-3-1-2 1z" fill="#fffce6"/><path d="M137 2810l50-69 10-17 4-18-11-2-35 19-36 24 0 66 16 0zM190 2813l29 0 30-36-6-10-35 27-22 19zM297 2813l41 0 4-18-10-6-17 6-27 18zM1222 2802l11 11 253 0-86-45-36-12-89-23-18-8-18-12-17-18-35-42-19-18-35-21-36-7-53 5-36 13-14 10-16 18-8 17-4 36 3 18 8 17 17 18 14 7 36 9 124 5 36 11zM2342 2813l308 0-23-21-18-11-36-13-53-8-53-2-54 3-53 13-21 21-3 18zM261 2762l3-3-3-4-6 4zM2040 2706l35 3 43-3 29-9 12-9 8-18-1-17-5-18-14-29-20-25-22-17-30-16-35-10-36-4-53 0-36 5-22 7-13 13-3 5-1 17 5 18 22 36 16 18 22 17 32 18 31 11zM2751 2690l18 4 0-178-71-2-36 6-20 8-14 18-1 18 5 17 17 36 29 36 20 15 18 10zM724 2646l17 6 54-11 59-24 30-20 14-16 11-17 8-36 1-18-5-18-11-13-18-6-36 7-35 16-45 32-29 36-17 35-4 18-1 18zM564 2575l17-7 39-22 33-23 35-31 18-19 23-34 16-35-1-18-20 3-36 21-35 27-36 34-34 39-24 36-8 18zM492 2531l4-3-4-10-6 10zM404 2512l56-37 44-36 37-35 30-36 24-36 9-17-5-14-35 14-36 23-37 30-34 33-54 74-13 35zM510 2516l48-41 54-54 46-53-5-9-54 41-71 72-30 38zM1613 2460l53 14 18 0 18-6 11-11-2-18-9-18-18-17-18-11-35-14-54-5-17 4-15 8 2 18 12 17 19 18zM208 2447l18-1 17-6 36-19 54-35 43-36 33-35 24-36 24-53 0-19-18-7-18 4-35 16-54 32-52 45-42 53-29 54-8 35zM2271 2422l53 6 36-3 18-6 19-15 3-18-4-18-9-18-13-18-19-17-31-17-17-6-36-5-36-1-46 11-17 18-2 17 5 18 9 18 16 18 22 18zM670 2352l0-4-3 2zM2484 2244l49-1 5-1 13-16-8-18-23-25-36-25-35-15-53-9-18 0-18 6-8 15 6 17 12 18 18 18 25 16 18 8zM136 2226l44-54 29-53 15-36 9-35-4-18-3-2-18 2-18 6-71 34 0 172zM1151 2215l17 7 18-7 9-7-2-18-7-4-18 1-6 3-14 18zM1898 2191l17-2 22-17-2-17-14-18-23-12-18-5-18 0-18 5-15 12 1 18 14 17 36 16zM973 2156l17-5 23-14 17-18 10-18-14-8-18 8-19 18-13 18zM2591 2158l12-3-3-18-27-21-35-23-54-18-17 1-18-9-6 16 59 43 36 16 35 8zM902 2120l0-5-3 4zM919 2105l4-4-4-8-6 8zM813 2093l17-6 36-27 26-30 11-18-1-4-18 0-36 24-18 18-17 27-4 6zM937 2088l4-5-4-8-8 8zM2591 2084l54 8 17 0 27-9 6-17-4-18-11-31-18-35-17-7-54 2-53 7-24 10-7 18 7 18 14 18 28 22zM955 2069l3-3-3-6-7 6zM635 2032l42-20 45-35 25-36 7-18-5-17-8-3-17 3-18 8-36 24-21 21-15 18-17 35 4 18zM2058 2013l21-1 12-18-16-17-35-15-18-1-18 13-1 3 13 17 24 13zM2680 1962l36 0 53-9 0-179-71 47-18 16-18 26-7 25 1 35 6 23zM315 1949l35-10 54-29 35-24 36-32 16-20 22-35 15-36 3-18-3-11-18-3-35 14-54 32-48 40-41 51-19 38-6 17-2 18zM2129 1926l11-3-7-17-4-3-18 2-18-9-3 10 21 0 12 17zM2182 1858l18 4 18-1 17-9 2-18-11-17-8-6-18-4-18 1-22 9-6 17 16 18zM2307 1719l17 3 18-3 22-9 24-18 61-72 123-106 94-106 32-26 71-47 0-175-39 34-31 36-72 120-32 40-126 106-73 93-72 68-15 17-9 18-1 18zM125 1692l83-98 79-80 31-35 21-36 23-53 6-7 13-11 81-36 30-19 12-16 4-18-4-18-14-18-15-9-36-6-35 3-29 12-15 18-7 18-9 53-6 18-6 7-13 11-76 37-35 22-37 30-52 57 0 181zM2147 1408l17 1 31-19 16-18 10-18-3-11-18 2-18 9-18 16-14 20zM546 1197l35 6 18-1 19-8-13-18-25-17-52-22-36-4-10 8 10 19 18 19zM2378 1179l18 3 17-4 36-16 36-21 45-36 32-35 29-48 15-41-4-18-11-4-18 3-35 16-64 38-42 36-29 35-20 36-10 36zM635 1144l18 2 20-5-9-18-29-24-36-16-35-7-18 0-10 11 18 18 27 19zM706 1035l18 4 35 2 31-7 13-18-3-17-11-18-12-12-36-19-35-8-44 3-9 5-12 13 2 18 10 18 17 17zM2200 1051l35-15 18-11 36-26 18-18 40-54 15-35-2-9-18-2-35 17-43 29-38 36-27 36-17 35zM172 999l24 0 9-18-43-36-7-18 17-3 18 11 18 1 35 8 18-5 1-12-19-24-35-32-36-20-53-16 0 159zM133 927l-2-17 6-1 16 18-16 3zM2093 973l18-10 43-36 34-35 26-36-14-7-54 43-34 35-26 36zM2040 946l71-63 53-62 0-4-17 1-70 56-43 53 0 18zM1915 883l18 2 18-6 35-20 23-21 16-17 20-36 2-18-7-10-18 0-30 10-33 18-23 18-21 28-9 25 2 18zM315 839l53-2 18-8 9-8 3-18-5-18-22-35-21-21-35-21-36-10-36-6-35-1-36 3-17 6-12 14 1 18 11 22 24 31 29 25 35 17zM955 839l35-2 18-5 21-11 7-18-3-18-9-18-16-17-35-23-54-14-35 0-18 3-26 16-6 18 3 17 8 18 14 18 23 18 20 8zM2218 850l5-12-5-2-4 2zM2733 830l18-1 18-5 0-119-24 45-15 35-5 36zM1720 768l17 5 36-2 18-6 24-15 14-18 7-18 1-18-6-18-22-16-36-4-53 7-36 13-10 18 1 18 7 18 12 18zM2538 698l18 0 35-16 36-21 53-38 55-51 34-44 0-90-91 63-41 35-34 36-50 71-17 35 0 18zM439 631l36 8 53 3 36-2 35-8 17-7 15-18 3-18-3-17-14-31-16-23-20-18-35-22-36-11-53-8-36 0-45 6-32 18-8 18 1 17 5 18 18 36 26 29 18 14zM1488 629l36 8 18 1 18-3 15-10 1-18-8-18-14-17-30-24-23-12-66-27-35-20-80-60-27-17-36-18-53-17-53-9-54 0-25 8 0 18 7 18 22 35 31 36 36 26 36 17 33 10 127 29zM2431 627l4-2-4-2zM2449 618l53-37 71-62 54-60 47-65-12-6-8 6-46 35-77 72-50 53-28 35-12 18zM2396 590l71-59 53-50 71-80 31-43-15 0-72 54-61 53-47 53-37 54-8 17zM2271 533l18-2 18-7 35-18 36-25 40-34 32-35 37-54 17-35 3-18-5-7-18-1-17 6-43 20-61 35-44 36-28 35-25 54-6 35zM2075 418l36 0 36-8 53-24 38-28 29-35 16-36 9-35 1-18-4-19-18-14-18-3-35 4-57 14-56 18-47 23-13 12-7 18-5 36 2 35 10 36 13 15zM2680 382l3-6-3-2-2 2zM119 358l6-18-6-36zM777 343l53 6 72 2 71-3 29-8 4-17-6-18-30-53-28-36-39-36-28-17-271 0 1 17 11 36 19 36 28 35 25 22 24 14 29 11zM1791 255l35 9 54 2 53-8 36-11 23-13 11-18 5-18 0-35-336 0 80 71z" fill="#fff7e6"/><path d="M137 2805l34-46 17-35-16-3-53 31 0 61 11 0zM190 2813l27 0 15-18-6-10zM297 2813l31 0-13-8zM1293 2813l141 0-52-22-54-9-17 2-18 8-3 21zM2360 2813l271 0-25-18-33-14-35-8-54-4-53 3-35 8-26 15zM243 2780l3-3-3-5-7 5zM1026 2748l18 5 35 3 36-2 36-7 17-7 14-16 0-18-16-36-15-17-18-14-18-8-18-3-18-1-35 7-32 19-13 17-7 18-1 18 6 18 11 14zM2040 2690l35 2 27-4 9-3 22-15 6-17-2-18-7-18-12-18-19-18-24-14-35-12-36-5-35 1-43 13-14 17 0 18 6 18 12 18 18 18 27 17 29 12zM2733 2673l36 11 0-159-53-2-38 5-16 7-13 11-5 18 3 17 15 33 18 23 18 16zM741 2627l18 7 36-7 35-15 36-24 20-24 8-18 3-18-2-18-11-14-18-5-36 9-20 10-33 26-18 20-15 25-7 18-1 18zM581 2556l18-7 34-21 44-36 29-33 12-20 8-18 0-17-20 3-18 10-35 27-32 31-43 53-8 18zM510 2513l4-3-4-8-5 8zM421 2493l55-36 58-53 31-36 11-18 9-18-4-11-17 4-36 21-36 29-28 29-29 35-22 36 2 17zM528 2498l45-41 51-53-7-13-36 30-50 54-14 17zM226 2424l17 1 36-14 41-25 45-36 33-35 24-36 14-36-5-17-10-4-17 3-36 16-36 22-40 34-31 35-23 36-15 36zM2271 2408l53 6 18-2 23-8 13-18-2-18-9-18-15-18-25-17-38-13-36-3-18 2-17 5-16 9-8 17 3 18 10 18 28 25zM635 2391l4-5-4-8-11 8zM653 2369l0-3-3 2zM122 2226l33-36 32-53 12-36 2-18-7-17-4-2-18 0-17 5-36 15 0 145zM2449 2226l53 7 18-2 9-5-1-18-14-18-30-22-35-16-36-6-17 0-22 9 1 17 13 18 25 21zM2556 2143l17-4 18 7 0-10-18-4-6-13-47-26-18-2-18-11-12 3 2 18 46 27zM2645 2083l17-4 14-13-2-18-8-18-21-24-18-9-18-4-36-2-21 3-14 6-12 12 4 18 8 10 7 8 26 18 38 13zM670 1985l21-8 16-18-1-5-18 0-7 5-15 18zM2733 1941l36-3 0-143-36 20-26 19-17 18-10 18-4 18 2 18 9 17 11 9 18 7zM368 1901l36-13 46-36 26-35 5-18-6-17-18 1-33 16-42 35-15 18-15 36zM133 1657l57-75 71-72 27-31 10-18 3-18-4-12-18-6-18 4-35 16-42 34-65 69 0 126zM2520 1514l19-18-1-4-19 4zM2680 1357l36-11 53-28 0-143-21 19-32 36-31 53-18 53 4 18zM404 1326l35-4 18-7 18-14 6-18-8-18-16-9-18-5-18 0-17 6-14 8-9 18-1 18 8 18zM546 1182l18 5 17 0 7-11-23-17-37-12-18 8 0 4 18 14zM2413 1152l18-1 36-14 35-24 29-26 25-31 12-22 7-18 2-17-4-7-17-3-36 12-36 22-35 29-29 35-17 36-1 18zM599 1124l36 7 9-8-27-21-36-12-18-3 5 18zM706 1017l35 6 18-3 9-4 4-17-12-18-19-12-17-7-36-1-8 2-12 18 11 18zM2218 1025l17-4 18-9 40-31 29-36 10-18 3-17-11-6-17 6-54 39-18 18-22 32-5 17zM137 988l35 2 18-5 3-4-15-18-23-19-30-17-6-9 0 67zM2111 951l9-6-9-5-4 5zM208 931l18 3 17-2 6-5-11-17-12-13-36-28-35-17-36-10 0 59 18 3 10 6 8 8 17 1zM2129 939l35-29 27-36-9-5-45 41-16 17zM2058 917l17-6 39-37 16-18-1-16-22 16-36 36-15 18zM1951 860l18-6 17-12 18-18 14-21 3-18-17-3-18 6-23 15-12 11-16 24 0 18zM2200 859l0-4zM261 821l36 7 35 1 37-8 11-18-3-18-9-18-14-17-21-18-18-11-18-8-36-8-53-4-18 2-26 11-5 18 7 18 11 17 17 18 24 18zM902 805l35 10 36-2 19-10 5-18-8-18-21-17-31-12-35-3-18 6-12 9-3 17 8 18zM2751 805l18 3 0-85-19 44-4 18zM1737 734l18 6 18-2 12-6 12-18-6-18-18-5-28 5-16 18 5 18zM2556 680l17 0 18-8 52-29 46-36 37-35 43-56 0-70-36 20-47 35-60 53-30 35-25 36-17 36zM475 626l35 4 36-2 35-8 18-10 12-21 0-17-16-36-15-18-22-17-48-22-35-7-36-1-35 3-28 9-17 18-3 17 10 36 12 18 16 17 27 20zM2449 610l5-3-5-3zM2467 601l53-39 53-48 54-60 30-42-12-7-54 42-57 54-49 53-26 35zM2413 573l102-90 93-107-17-1-71 54-40 36-48 53-36 54zM2289 519l35-12 36-20 36-28 31-30 29-35 22-36 9-18 3-17-6-10-17 1-18 6-36 17-35 21-45 36-30 35-19 36-9 36zM1222 506l35 8 36 3 18-2 17-7 7-7-5-18-13-18-43-36-52-22-36-6-18 0-17 3-13 8-4 17 7 18 13 18 32 25zM2075 397l18 7 18 1 36-7 35-15 37-25 32-35 19-36 7-35-6-25-18-12-18-2-35 5-71 24-21 10-26 17-15 18-8 18-6 35 5 36zM2662 401l4-7-4-2-2 2zM759 324l36 7 53 4 36-1 35-6 19-5 17-16 3-20-14-35-26-36-34-30-43-23-199 0-9 17 0 18 4 18 18 36 31 35 20 15zM1791 235l35 11 36 4 36-4 35-10 18-9 18-16 8-13 8-35-277 0 47 49z" fill="#fff2e6"/><path d="M137 2799l16-22 19-38-17-2-36 20 0 56 7 0zM208 2813l6 0-6-11-15 11zM226 2799l3-4-3-6-8 6zM2396 2813l213 0-34-18-19-6-36-7-36-2-35 3-36 9-17 10-10 11zM1062 2727l17 1 23-4 25-18 2-18-10-18-22-12-18-3-17 3-23 12-11 18 1 18 15 16zM2040 2671l35-2 18-8 10-8 4-18-7-18-14-18-28-18-36-9-36 1-26 8-12 18 3 18 12 18 23 18 36 14zM2769 2673l0-139-53-1-18 3-24 10-12 18 0 17 17 36 16 18 23 18zM759 2600l18 12 18-3 25-10 26-18 16-17 8-18 1-18-5-8-18-7-18 5-21 10-22 18-15 18-10 17zM599 2535l19-7 46-36 24-26 17-27-17-10-18 9-22 19-49 53-7 18zM528 2494l2-2-2-5-4 5zM546 2479l4-4-4-10-8 10zM439 2472l49-33 39-35 27-36 11-18-1-5-18 1-18 10-18 12-35 33-18 20-23 36zM564 2462l5-5-5-12-11 12zM581 2445l6-6-6-11-11 11zM599 2427l5-6-5-9-11 9zM261 2405l36-15 18-11 35-27 21-20 15-17 22-36 5-18-9-18-18 3-36 17-35 26-26 26-28 35-16 36 9 18zM617 2407l3-3-3-6-7 6zM2271 2391l36 6 17-2 22-9 5-18-8-18-19-18-35-13-36-2-18 7-10 8-2 18 12 20 18 13zM125 2208l30-39 15-32 5-18-3-21-17-8-36 9 0 115zM2449 2214l35 6 18-5 6-7-11-18-30-20-36-10-18-1-16 13 16 22 21 14zM2556 2138l4-1-2-18-20-1-18-19-14 2 7 18 7 4 18-3zM2484 2102l12-1-12-5zM2609 2068l18 2 22-4 4-18-10-18-16-12-18-8-36-3-19 5-5 18 15 18 27 14zM2716 1910l17 9 18 2 18-3 0-99-36 20-15 13-12 18-3 18 7 18zM2716 1306l17 3 36-13 0-102-32 36-21 35-5 18 1 18zM2449 1121l35-15 36-31 18-24 5-17-5-13-18 1-18 8-31 22-17 18-12 17-7 18zM155 982l18-1-4-18-23-18-27-16 0 47zM2253 988l18-7 18-17 8-19-8-4-30 22-12 18zM226 928l2-1-1-17-19-19-36-23-53-19 2 43 51 23 36 11zM243 805l54 13 35 0 18-8 8-7 1-18-8-18-16-17-25-18-49-17-53-3-18 6-12 14 3 18 11 17 16 16zM2769 781l0-32-3 18zM2573 663l18-1 36-17 53-38 36-33 31-38 22-33 0-46-18 6-53 35-64 56-31 35-23 36-8 18zM457 609l53 7 36-3 19-6 20-18 3-17-4-18-10-18-17-18-28-17-19-8-53-9-36 2-17 5-17 10-10 17 1 18 7 18 13 18 19 17zM2467 593l5-4-5-3-3 3zM2484 583l36-25 44-40 45-48 30-41-12-6-52 42-38 36-33 35-27 36zM2413 555l18 0 43-37 64-63 53-62-18-1-68 55-52 54zM2307 502l17-5 36-19 36-27 22-22 30-35 21-36 4-18-6-11-18 2-18 6-35 20-36 25-31 30-25 35-12 36 8 18zM2645 419l3-7-3-2-3 2zM2093 383l18 5 36-4 35-15 36-26 18-20 19-36 4-18-1-17-5-11-18-10-35 1-53 17-36 21-18 17-11 18-7 18-2 17 2 18 10 18zM759 308l36 8 35 3 36-3 36-10 19-19 1-18-5-17-10-18-23-26-18-14-36-19-39-12-95 0-29 17-7 18 1 18 6 18 21 30 18 17 18 12zM1809 220l17 6 36 5 36-6 17-6 30-21 10-18 5-17-215 0 29 35z" fill="#ffede6"/><path d="M135 2795l21-36-1-6-18 1-18 10 0 49zM208 2813l3 0-3-7-8 7zM2431 2813l151 0-44-16-54-4-35 5-18 6-15 9zM2751 2656l18 6 0-118-36-1-21 3-14 6-14 12-4 17 5 18 11 18 18 18zM2040 2635l6-18-6-4-18-3-13 7 13 12zM813 2566l4-2-4-3-3 3zM635 2500l29-25-11-8-25 25zM564 2458l0-5-4 4zM670 2465l4-8-4-3-4 3zM457 2440l18 0 35-31 21-23-2-18-44 36zM581 2441l0-6-3 4zM599 2422l0-3-2 2zM279 2377l18-3 18-9 40-33 27-35 6-18-2-5-18-2-18 6-35 27-18 18-20 27-5 18zM2289 2363l5-13-22 0zM123 2190l14-20 11-33-11-19-18 0 0 77zM2449 2192l13-2-13-2-4 2zM2769 1879l0-16-14 7zM2769 1262l0-35-9 20zM137 970l19-7-18-18-19-8 0 31zM172 911l18 3 18-2 3-2-16-18-27-18-49-19 0 28 12 9zM279 804l36 2 10-3 7-6 6-12-6-15-17-20-36-18-18-5-35-2-22 7-4 18 10 17 21 18zM2591 644l18-1 35-18 46-36 48-53 21-35 5-18-13-7-18 6-52 36-21 18-34 36-17 22-19 31zM457 592l35 8 18 0 36-8 16-20-2-18-14-21-18-15-18-8-33-9-20-2-18 1-18 6-16 12-4 18 7 18 14 18zM2484 574l5-2-5-3zM2502 564l56-46 35-35 26-36-10-5-67 59-46 53zM2449 537l76-72 33-36 11-17-13-1-45 36-36 36-30 35-12 18zM2324 484l41-19 48-41 36-48 6-18-6-10-18 2-21 8-32 22-36 32-24 35-7 18 7 18zM2627 435l3-6-3-1-3 1zM2111 365l18 4 18-2 25-9 28-18 17-17 12-18 8-18 1-18-3-7-10-10-25-3-36 10-35 21-23 25-8 18-2 17 7 18zM759 289l54 10 35-3 25-9 13-18 0-17-9-18-15-18-32-21-35-14-18-3-36-1-21 3-14 8-11 10-5 18 4 18 11 18 17 17zM1826 200l36 6 36-7 22-19 8-17-142 0 12 17z" fill="#ffe8e6"/><path d="M128 2795l11-18-2-9-18 4 0 36zM208 2813l-2 0zM2467 2813l75 0-40-6zM2751 2643l18 7 0-94-36 1-17 5-15 19 3 18 12 18 21 18zM122 945l-3-1 0 7zM155 895l17 1 5-4-31-18-9-3-18 1 0 3 18 7 9 10zM279 788l23-3 1-18-6-5-16-12-20-6-18 0-13 6 6 17 25 16zM2627 622l35-21 36-29 35-46 8-25-8-5-17 7-23 15-41 36-30 35-10 18zM475 576l17 2 18-2 10-4 6-18-13-18-38-14-18 1-18 9-3 4 3 18 18 15zM2502 555l2-1-2-1zM2520 543l9-7-9-5-4 5zM2538 529l47-46-12-6-25 24-17 17zM2467 515l19-14 53-54-1-12-20 12-53 54zM2591 475l7-10-7-4-4 4zM2342 461l32-14 22-18 17-17 11-18 9-18-2-3-18-1-9 4-26 16-18 17-17 20-8 18zM2609 450l0-4zM2147 343l17-3 26-17 10-12 4-6 4-18-8-9-18-2-18 6-28 23-8 18 1 6 7 11zM777 270l36 3 17-5 12-16-5-18-20-18-22-9-36-3-18 6-7 6-2 18 12 18z" fill="#fbe6e6"/><path d="M121 2795l-2-9 0 12zM2769 2635l0-65-18 1-18 7-4 3-1 18 12 18zM2645 594l17-6 18-14 20-20 10-18-12-6-33 24-15 18-10 17zM2538 520l0-3zM2556 504l3-3-3-2zM2573 485l0-3z" fill="#f5e6e6"/></g><g transform="scale(0.06)" fill="none" stroke-width="25" stroke-linejoin="round" stroke-linecap="butt"><path d="M13845 1282l-172 163-27 23-8-5 34-40 173-175M13845 1227l-225 223-14 10-3-10 96-106 146-148M12530 813l-38 8-36-8M13620 1491l0-4zM13633 1480l-5-4 5-6 4 6zM13593 1467l0-6 8 2zM13235 1279l-1-15 10-27 41-66 65-79 77-80 90-80 89-65 67-32 13-2 11 7 1 13-11 26-43 67-78 92-79 81-89 79-70 53-67 34-13 2z" stroke="#0000b6"/><path d="M595 2565l73 39 66 53 39 53 11 26 4 27-8 39-21 27-19 13-30 14-35 8-80 3M13845 1809l-13-7-4-8 4-26 13-29M13845 1294l-172 165-146 129-8-6 21-26 206-212-7-7-239 232-13 9-3-9 153-172 208-213M13845 1232l-6 5 6 7M12665 813l-80 56-80 45-79 29-53 7-40-11-13-11-13-22-5-40 11-53M13782 813l-55 80-81 98-93 100-96 93-92 80-104 79-66 40-53 17-15-3-8-14 7-39 43-80 67-93 79-93 92-93 105-92 103-80M1895 13393l0-10 10 4zM1908 13384l-5-11 18-19 27-24 11 4zM1961 13330l0-12 5 2zM1576 13312l-7-5 6-13 58-67 76-70 40-25-13 29-48 53-72 69zM900 13087l-6-5-3-14 8-26 14-27 40-56 57-63 76-66 53-36 53-24 26 2 6 18-2 13-20 40-38 53-52 56-54 50-70 53-48 26-27 7zM13513 1598l-4-2 4-6 4 6zM1842 1584l-81-15-92-33-78-47-54-49-38-57-15-39-3-27 2-27 9-26 30-40 54-32 67-17 79-5 80 8 80 20 79 33 66 42 49 44 38 53 17 53 2 27-5 26-23 40-25 23-26 16-53 19-80 12zM13752 1337l7-7-7-6-6 6zM13765 1324l7-7-7-6-6 6zM13779 1310l6-6-6-6-6 6zM13792 1297l6-7-6-5-6 5zM13805 1283l6-6-6-6-6 6zM13818 1270l7-6-7-6-5 6zM13832 1257l6-6-6-6-6 6z" stroke="#0000ed"/><path d="M3587 14063l45-19 53-9 40 6 31 22M13845 11007l-23-21-8-13 3-14 28-4M595 2486l63 25 56 28 58 38 48 40 40 43 34 50 21 53 6 39-7 40-14 27-26 26-40 24-50 16-56 9-67 2-66-4M13845 1868l-40 19-40 11-13-2-11-9-2-13 6-26 18-40 82-124M13845 1304l-212 203-173 153-26 20-8-5 9-13 138-146-7-6-159 152-13 7-2-7 42-53 142-159 269-276M13845 1236l0 3M12735 813l-123 96-120 73-106 45-53 13-40 3-26-3-27-11-18-17-14-27-6-39 4-40 27-93M13819 813l-93 119-94 106-117 120-108 99-119 99-93 67-93 53-53 13-13-6-8-20 14-53 49-93 74-106 83-101 93-98 114-106 113-93M2306 13865l-10-14-2-13 5-27 16-40 57-85 80-88 90-79 82-54 67-28 26-3 27 7 8 12 3 26-6 27-16 40-53 79-73 80-89 75-93 59-66 27-27 4zM1683 13610l-10-11 32-53 70-85 107-114 185-172 80-59 26-11 7 3-5 27-45 66-66 79-76 82-173 158-67 52zM1391 13495l-4-16 6-13 51-74 93-110 93-97 111-103 101-82 66-41 13-3 7 6-18 40-40 53-81 93-103 106-189 172-66 50zM741 13230l-6-16 6-40 23-53 32-53 90-119 101-106 125-107 120-78 53-26 39-12 27-2 23 13 5 26-5 27-17 39-31 53-80 107-114 119-139 118-119 80-54 27-39 12-27 0zM12041 13095l-53-14-53-24-42-29-25-26-22-40-3-26 7-27 23-26 36-19 39-9 40-1 53 6 40 11 53 23 42 28 26 27 22 40 5 26-5 27-20 26-30 18-40 11-40 3zM13142 11996l-53-13-40-15-67-40-27-27-16-26-5-27 12-26 22-14 28-6 40-1 40 6 79 27 65 41 26 26 16 27 5 26-4 13-15 16-26 12-40 4zM13765 11372l-76-28-96-53-43-40-6-13 7-13 42 1 78 25 57 27 67 40 33 26 15 27-11 7-14 2zM13421 1691l-4-3 4-4zM1855 1676l-133-25-115-42-97-57-45-36-40-40-34-44-29-49-19-53-7-40 1-39 11-40 16-29 27-29 29-22 50-24 93-24 120-7 119 12 119 28 106 43 105 65 71 66 31 40 24 40 17 40 9 40 2 39-4 27-16 40-19 26-28 27-32 20-43 20-50 15-120 16zM13580 1509l6-6-6-6-6 6zM13593 1495l6-6-6-5-5 5zM13606 1482l5-6-5-5-5 5zM13620 1468l4-5-4-5-5 5zM13633 1454l4-4-4-4-4 4zM13646 1441l4-5-4-3-4 3zM13659 1427l4-4-4-3-3 3zM13673 1413l3-3-3-3-4 3zM13686 1400l3-3-3-3zM13699 1386l0-5zM13712 1373l0-5zM13726 1359l0-4zM13739 1346l0-4zM13752 1332l0-4zM13765 1319l0-4zM13779 1306l0-4zM13792 1292l0-3zM13805 1279l0-3zM13818 1266l0-4zM13832 1252l0-3z" stroke="#0010ff"/><path d="M3417 14063l83-67 92-54 93-35 93-14 66 10 32 14 22 17 19 23 13 26 10 40 1 40M13845 11445l-147-48-135-66-61-40-64-53-34-40-11-26 3-14 11-8 20-5 33 2 67 14 74 24 95 40 149 79M13845 11055l-70-43-54-39-41-40-13-27 6-17 17-9 22-3 62 3 71 14M595 9491l0 29M13845 5119l-53 2-40-12-14-12-12-21-7-45 9-53 25-67 39-71 53-75M595 2423l93 34 79 39 67 43 62 51 49 53 45 67 28 66 8 53-8 53-22 40-30 27-53 28-66 19-80 10-79 1-93-8M13845 1906l-80 45-66 25-26 1-13-10-2-13 16-53 36-67 54-79 81-105M13845 1314l-239 228-225 199-27 19-8-5 9-14 112-119-7-6-132 126-14 7-2-8 98-119 143-159 292-299M12793 813l-75 65-80 61-158 99-81 40-66 25-53 14-53 6-40-5-28-13-25-27-14-40-2-53 8-53 15-53 26-66M13845 816l-106 130-106 118-120 120-119 110-133 109-119 87-93 55-66 23-13 0-18-12-3-27 10-40 52-106 79-119 93-119 105-115 115-111 126-106M2200 13985l-20-15-8-26 7-40 21-53 38-67 55-77 120-135 136-119 75-53 67-39 53-25 53-16 39-1 27 14 13 27-1 40-10 40-22 53-30 53-43 62-97 110-123 106-141 93-77 39-53 20-39 10zM1563 13720l-1-15 13-27 69-92 116-133 148-154 146-137 119-101 80-54 26-10 12 5-6 26-13 27-75 106-88 106-114 120-128 119-145 120-106 75-40 19zM1285 13603l-9-4 7-27 32-53 48-66 121-144 127-135 138-129 133-109 119-80 26-8 10 8-9 27-16 26-60 80-105 119-141 146-153 146-122 106-107 80zM661 13348l-26-9-10-19-1-13 12-53 30-66 47-80 66-93 68-82 80-85 79-76 91-75 90-66 84-53 80-41 53-19 42-7 24 6 9 7 9 27-6 40-21 53-29 53-93 133-131 145-160 146-159 120-135 79-53 21zM12081 13215l-106-20-96-34-90-51-64-55-49-66-24-67-1-39 6-27 12-26 22-27 58-37 80-24 93-7 93 6 98 22 87 35 76 45 60 53 50 66 25 66 3 40-4 27-24 46-20 20-33 22-66 24-93 12zM13155 12087l-93-22-79-31-72-40-53-40-51-53-31-53-7-26-2-27 7-27 10-16 40-29 66-17 80-1 78 10 81 22 79 32 70 39 68 53 48 53 29 53 7 40-6 27-8 13-35 28-67 18-79 3zM12545 4358l-19-17-5-26 3-27 15-40 56-93 94-106 108-91 106-69 53-24 40-12 40 0 17 11 8 13 2 26-10 40-18 40-60 93-85 96-105 89-94 61-79 34-40 6zM11776 3878l-13-8-2-6 14-40 46-67 72-79 71-66 85-67 45-26 27-9 13 3 4 6-4 26-21 40-49 66-60 67-56 53-66 53-66 42zM11458 3653l0-5zM11471 3642l-5-4 5-6 4 6zM11431 3630l0-7 9 2zM11484 3630l-7-5 34-40 132-133 53-46 6 7-59 63zM11444 3622l-2-10 100-107 128-121 10 2-103 107zM11100 3439l-14-3 0-23 23-40 44-53 92-80 40-22 29-4 4 13-11 26-62 80-92 80zM11710 3404l-6-5 6-5 4 5zM11723 3389l-4-3 4-3zM11683 3380l-1-7 5 0zM13341 1770l-3-2 3-5 3 5zM1815 1743l-146-32-66-23-66-30-63-36-55-40-46-40-48-53-39-53-29-53-26-66-10-53 0-53 10-40 20-40 36-39 38-27 59-27 60-17 66-11 80-7 79 0 159 18 146 37 133 57 108 69 51 45 45 48 39 53 29 53 20 53 11 53-1 53-10 39-22 41-23 27-35 27-53 28-66 23-65 14-81 10-80 3zM13474 1615l6-6-6-6-6 6zM13487 1601l5-5-5-5-5 5zM13500 1587l5-5-5-4-4 4zM13513 1573l5-4-5-4-4 4zM13527 1559l3-3-3-3-4 3zM13540 1546l0-6zM13553 1532l0-5zM13566 1518l0-4z" stroke="#0040ff"/><path d="M2088 14063l-11-27 4-39 17-53 36-72 45-74 57-80 127-146 142-131 146-107 67-40 79-40 53-18 53-9 40 9 13 11 11 20 5 40-9 53-23 66-39 80-50 80-51 66-115 119-74 62-77 58-172 106-83 40-64 26M3317 14063l52-53 64-53 67-46 66-37 80-36 66-22 66-15 66-5 54 4 39 11 40 21 35 32 25 40 17 53 6 53-3 53M595 13224l100-156 127-159 144-146 146-122 93-67 93-59 80-45 79-35 53-15 40 0 13 5 13 14 6 32-7 40-27 67-79 132-111 146-135 146-162 146-174 132-173 109-66 32-53 18M595 11859l4 42-4 40M13845 11482l-93-28-93-35-93-44-75-44-74-53-73-67-41-53-13-39 11-18 40-9 66 7 77 20 179 66 182 92M13845 11081l-118-69-92-66-53-53-15-26-1-14 7-13 20-11 53-6 93 7 106 22M595 9262l106-42 53-11 40 0 26 7 25 19 13 27 3 26-5 53-16 53-22 53-36 67-85 119-102 108M595 6150l66-9 53 1 53 9 52 20 37 27 22 26 19 40 6 40-5 40-13 40-25 42-40 47-39 35-53 37-67 36-66 30M13845 5220l-66 23-53 12-40 4-40-3-29-13-24-26-10-27-3-40 6-53 15-53 26-66 34-67 78-119 106-125M595 2368l106 34 94 42 86 53 80 67 70 79 49 80 31 79 9 67-10 53-22 40-45 39-56 27-74 19-93 11-106 2-119-10M13845 1937l-119 73-80 37-26 7-27-1-8-7-5-13 14-53 52-93 93-132 106-132M13845 1325l-265 251-266 233-39 30-7-5 19-26 87-93-6-6-120 112-13 5-2-5 108-133 177-199 163-172 164-164M13845 845l-118 140-121 130-132 129-133 118-146 116-133 93-92 52-40 15-27 4-20-7-8-13 0-26 16-54 53-106 93-146 101-132 106-120 110-107 138-118M6485 813l61 66 48 67 27 53 6 26-1 27-9 22-14 14-40 21-66 14-93 4-119-6-133-19-119-27-113-37-92-39-93-53-90-67-68-66M12844 813l-87 78-85 68-96 66-97 59-93 47-93 38-66 19-66 7-40-4-40-20-27-35-11-44-1-54 10-66 22-79 31-80M1470 13812l-1-14 29-53 92-120 141-159 164-170 172-164 146-125 119-86 27-13 20 1 3 13-4 14-19 39-80 120-119 146-137 146-168 155-183 150-135 95-40 21zM1192 13696l-8-4 0-14 11-26 90-133 152-185 162-173 163-153 173-141 132-90 40-18 13-1 7 5-6 27-15 26-78 106-127 146-165 173-180 172-165 145-120 95-39 26zM12094 13295l-146-26-119-41-106-57-49-36-44-40-40-45-32-48-26-53-14-53-3-40 6-40 17-40 26-31 26-22 47-26 99-30 133-13 132 7 120 23 119 43 53 27 53 34 78 68 34 40 36 53 25 50 14 43 7 53-3 40-14 39-17 27-27 26-40 26-40 17-53 15-119 14zM13182 12153l-120-25-106-37-92-47-86-63-73-80-25-40-18-39-9-40-1-27 6-26 20-33 24-20 29-15 79-19 107-3 106 13 106 26 106 40 93 51 85 66 73 79 39 67 13 39 3 27-5 27-13 26-23 21-26 15-67 20-106 7zM2996 11002l-14-4-4-12 3-13 21-40 33-41 40-37 40-29 40-18 13-2 13 5 3 16-10 26-51 67-63 53-38 21zM1789 10604l-27-13-10-16-3-27 8-40 17-39 32-53 77-93 91-80 106-65 54-20 39-8 27 1 26 13 10 13 5 26-2 27-14 40-47 79-68 80-83 71-92 61-80 34-40 9zM1484 5682l-67-11-53-17-54-26-53-40-39-44-25-49-6-40 7-26 10-14 28-18 39-10 53-2 67 9 75 21 57 24 53 29 52 40 35 40 19 40 1 26-13 27-27 20-40 14-53 8zM1988 5285l-117-42-115-53-136-80-66-53 26 0 50 22 13 1 13 11 13-2 14 14 13-4-109-68 3-6 13 0 27 5 109 41 141 66 113 66 38 27 27 26-26 0-111-46-7 6 7 6 14-2 13 17 13 1 13 14 13 4 38 27-11 6zM1895 5208l13-5-13-5-6 5zM1868 5194l11-4-11-5-5 5zM1842 5180l9-3-9-4-5 4zM1815 5167l8-4-8-3-4 3zM1789 5153l8-3-8-4-5 4zM1762 5140l9-3-9-4-5 4zM1736 5128l10-4-10-5-6 5zM1709 5115l13-5-13-6-7 6zM2279 4925l-66-15-72-25-80-40-59-40-44-40-30-39-12-40 11-27 21-14 53-11 53 1 66 10 54 14 70 27 52 26 50 33 39 34 33 40 18 39 0 27-19 26-29 14-42 5zM12426 4491l-29-17-8-14-5-26 7-53 19-53 42-80 45-66 61-76 66-70 72-66 88-72 87-61 85-51 80-39 66-23 53-5 30 12 15 26 0 40-14 53-28 67-42 73-51 72-114 133-71 66-70 58-67 49-86 53-72 36-66 26-53 11zM3035 4129l-79-17-80-31-66-41-49-44-38-53-17-53-1-26 7-27 31-40 50-26 57-13 66-3 80 8 79 20 66 27 65 40 44 40 39 53 17 53-3 40-22 40-34 26-66 24-66 7zM11630 4014l-10-18 1-13 8-27 27-53 80-109 120-131 132-122 133-102 93-56 39-13 22 3 7 13-3 27-23 53-32 53-89 119-107 117-119 108-120 88-53 32-53 25-26 8zM11312 3801l-6-4 19-26 153-159-7-7-186 178-4-12 90-106 125-133 178-172 155-136 13 3-192 199 7 7 172-167 40-31 4 5-30 40-213 229-172 168zM11272 3787l0-4 9 1zM10940 3600l-13-5-10-23 8-40 18-40 60-93 93-106 110-98 119-86 53-31 53-23 27-5 20 4 7 14-4 26-33 67-67 92-96 108-96 91-103 81-93 54-26 10zM11484 3605l7-7-7-6-6 6zM11497 3591l7-6-7-6-6 6zM11511 3578l6-6-6-6-6 6zM11524 3565l6-7-6-5-6 5zM11537 3551l6-6-6-5-5 5zM11550 3538l6-6-6-5-5 5zM11564 3525l6-6-6-6-6 6zM11577 3511l6-6-6-5-5 5zM11590 3498l6-6-6-5-5 5zM11604 3485l6-6-6-6-6 6zM11617 3472l6-6-6-6-6 6zM11630 3459l6-7-6-6-6 6zM11643 3446l7-7-7-6-6 6zM11882 3229l0-4zM11842 3224l0-11zM10158 3138l-28-17-19-27-10-40 3-39 14-46 24-47 28-40 41-44 53-45 53-35 66-35 53-21 53-14 53-4 40 8 26 18 14 26 3 27-3 26-13 44-25 49-26 40-70 79-82 67-98 53-44 15-40 8-40 0zM4375 2856l-105-14-94-28-93-48-66-54-54-69-26-66-4-40 4-26 10-27 19-26 51-37 66-23 80-9 93 5 93 19 89 31 74 40 68 53 47 53 34 67 7 53-4 26-11 27-39 41-67 33-79 16zM8991 2419l-40-12-40-21-26-21-31-40-14-40 0-40 8-26 23-34 40-30 40-19 53-14 53-7 53 2 45 9 36 13 39 27 29 40 8 26 1 27-15 53-28 40-49 38-53 23-66 11zM13261 1849l0-4zM1842 1809l-93-14-93-21-80-26-77-33-68-38-60-42-60-52-50-54-50-66-45-80-32-79-14-67-1-66 13-53 21-40 37-40 42-28 66-30 79-21 80-13 93-6 93 0 93 6 106 14 93 20 79 23 80 31 65 31 67 40 56 40 61 53 49 53 50 66 36 64 28 69 13 53 4 53-7 53-23 53-28 35-38 31-55 30-66 23-80 19-92 12-93 5-106-1zM13381 1708l6-6-6-6-6 6zM13394 1694l5-6-5-5-5 5zM13407 1680l5-5-5-4-4 4zM13421 1666l3-4-3-4-4 4zM13434 1652l3-3-3-3-3 3zM13447 1638l0-5zM13460 1624l0-4z" stroke="#0070ff"/><path d="M1999 14063l18-53 37-77 92-149 120-154 133-138 159-133 172-116 80-44 66-29 67-20 39-5 40 10 13 10 14 21 7 41-6 53-23 80-33 80-42 79-51 80-97 119-130 120-167 119-182 106M3232 14063l60-66 75-68 80-57 92-53 105-48 94-32 93-20 80-6 66 8 53 18 48 32 32 37 26 52 17 57 8 66-1 80M595 13153l118-164 134-154 146-138 168-133 97-66 106-65 93-50 80-35 66-17 40 2 13 6 10 13 5 27-6 39-23 67-80 146-123 172-140 159-152 146-181 147-186 132-105 65-80 43M595 11700l40 2 26 10 14 9 19 34 5 40-9 66-19 67-36 92-40 82M13845 11515l-119-35-106-41-93-45-80-48-90-68-84-80-52-66-14-27-5-26 4-13 16-13 39-6 67 7 93 22 92 29 133 52 199 97M13845 11102l-136-76-133-93-71-66-18-27-6-26 5-14 20-13 74-9 119 8 146 26M595 9153l106-59 106-52 80-33 79-24 53-3 27 8 13 12 11 21 5 40-13 79-34 106-47 107-65 119-72 106-76 93-80 84-93 83M13845 7958l-110 110-169 190-79 82-93 81-93 64-66 36-66 27-53 14-54 5-39-6-28-16-17-26-6-40 7-40 20-53 30-53 47-63 86-96 232-224 101-107 96-120 173-239 81-103M595 6051l93-13 93-2 79 12 67 25 53 39 33 46 21 53 8 66-9 67-19 53-34 59-51 60-60 53-74 53-200 114M13845 5298l-93 42-93 34-66 16-53 4-40-8-31-24-17-39-3-40 12-80 24-79 42-101 51-98 59-93 60-80 68-79 80-80M595 2316l119 34 106 44 93 54 93 74 80 88 64 100 41 92 13 54 3 39-6 53-27 53-44 40-71 33-93 22-106 11-132 1-133-11M13845 1965l-146 94-106 56-40 14-26 3-17-6-6-13 3-27 15-40 70-119 114-159 139-170M13845 1335l-279 263-331 290-40 29-5-3 18-27 87-93-7-6-106 100-13 10-4-11 119-146 224-252 175-185 162-161M13845 871l-133 154-126 133-139 132-146 126-159 125-159 109-93 49-40 14-26 1-18-12-4-27 8-40 15-39 76-146 103-160 100-132 105-120 119-116 127-109M6716 813l179 136 146 94 133 68 302 126 112 53 112 67 100 79 62 67 44 66 27 66 4 53-15 40-32 29-53 20-80 9-79-5-80-14-91-26-81-30-157-76-321-183-106-49-93-35-199-56-464-102-133-38-110-41-128-61-116-71-110-88-97-98M12894 813l-85 80-105 84-106 75-119 72-119 62-107 45-92 27-67 7-53-9-32-19-27-39-11-53 1-67 13-79 25-93 35-93M1391 13898l-8-7 8-27 53-80 52-66 184-212 215-225 212-200 186-158 119-84 40-16 13 6-4 27-27 53-108 159-128 159-148 160-171 159-210 172-185 134-67 39zM1099 13781l-3-10 3-13 28-53 134-186 170-205 169-179 189-173 212-170 79-56 80-49 40-14 13 11-9 26-33 53-103 133-164 186-181 185-225 212-200 173-146 109-40 21zM8434 13693l-120-27-106-39-106-55-96-66-86-80-60-79-18-40-7-27 1-26 12-27 15-14 27-16 79-19 106-3 120 13 117 26 95 34 91 46 77 53 70 66 55 80 17 39 8 40 0 27-8 26-18 27-15 13-25 14-40 13-79 9zM12094 13360l-93-12-79-17-80-24-66-25-66-33-58-35-53-40-58-53-45-53-44-66-32-66-18-67-5-53 9-53 19-40 33-37 39-29 53-25 54-17 66-14 79-10 93-4 173 10 146 28 126 45 59 31 53 34 93 81 45 53 45 67 30 56 23 63 11 53 1 53-13 53-22 38-29 28-39 27-52 22-66 19-80 13-79 5zM5595 12233l-26-3-27-10-27-27-5-13 0-27 19-40 40-31 53-17 53 4 33 18 13 13 12 27 0 26-13 27-27 26-25 13-33 11zM13195 12208l-146-28-132-44-107-54-99-75-46-47-37-46-34-53-25-53-14-53-1-40 11-39 19-27 28-22 36-18 43-12 53-9 133-3 146 17 132 32 110 42 103 56 97 76 87 93 58 93 16 40 8 40-4 39-12 27-25 26-27 17-39 15-53 12-133 8zM9826 12034l-79-13-78-27-68-38-52-42-41-53-19-53 0-26 6-27 26-37 40-27 53-18 66-9 80 4 66 13 67 23 66 37 49 41 31 40 25 53 3 53-16 39-26 28-53 27-66 13zM4375 11797l-13-11-7-18 1-26 13-40 46-74 65-72 67-54 80-44 40-12 26-3 27 5 13 8 13 19 4 15-8 53-35 66-57 67-76 60-80 44-66 21-26 2zM3738 11551l-8-8 4-13 32-53 65-80 93-98 93-88 80-64 53-32 13-4 13 5-1 16-11 26-35 53-53 67-72 76-75 70-85 68-79 51zM3447 11440l-6-3 4-27 41-66 67-83 82-89 90-85 93-75 66-43 27-11 14 1 1 14-5 13-33 53-66 80-88 92-98 93-94 80-56 39zM2783 11187l-9-29 3-26 19-53 27-52 76-107 99-106 117-97 119-73 53-22 40-9 34 2 19 13 7 26-3 27-13 40-28 53-69 96-96 103-127 106-122 77-53 25-40 13-26 3zM10848 10907l-54-14-63-26-44-27-46-40-28-40-13-39 7-40 21-27 34-18 53-12 53-1 66 10 67 20 53 26 42 28 41 40 26 40 10 40-4 26-17 27-32 19-53 14-53 2zM1603 10762l-13-11-11-17-7-40 8-53 29-80 42-79 54-80 57-71 71-75 75-66 80-60 92-59 80-42 80-31 66-15 53 2 36 19 17 32 3 48-11 53-25 66-36 67-50 75-59 71-61 62-66 58-85 65-87 57-93 51-80 35-66 21-53 6zM11524 10272l-60-16-59-22-62-31-41-26-48-40-21-26-10-27 5-13 17-9 40-1 93 23 93 40 89 53 60 53 13 26-3 10-13 9-27 5zM11829 10006l-107-28-62-27-73-39-55-40-25-27-12-26 5-14 11-7 26-7 80 5 81 23 83 40 70 53 24 26 15 27 2 26-10 10-26 6zM12280 9461l-53-5-53-14-42-21-33-27-21-26-16-40 0-40 8-26 24-38 30-29 50-31 53-23 66-18 53-6 53 4 40 12 27 16 19 20 17 26 9 27 5 66-8 40-12 27-30 40-53 38-67 22zM12108 6782l-26-14-14-26 0-40 10-40 24-53 32-51 80-95 109-93 63-42 66-37 67-26 39-10 40-1 27 11 13 19 4 20-4 40-14 40-53 92-90 107-108 92-106 67-93 37-40 6zM1470 5760l-92-12-80-23-66-36-67-59-57-82-31-80-6-39 2-27 10-26 16-20 27-18 26-10 66-9 93 5 106 20 97 32 86 39 82 53 58 53 40 54 20 53-3 39-16 27-14 13-49 27-62 16-93 11zM2134 5349l-67-13-106-34-106-41-93-42-93-50-93-59-92-66-43-40 3-5 13 0 24 5 16 9 13-1 13 12 14-5-61-41-7-14 41 6 75 21 111 39 172 76 170 97 75 53 48 40 11 13-12 7-26-5-54-21-6 6 6 6 14-2 13 18 29 18zM2054 5286l8-3-8-3-3 3zM1576 5046l4-2-4-2zM1550 5035l9-4-9-5-6 5zM2332 4992l-106-23-92-32-93-43-93-60-80-69-52-66-21-53 2-26 7-14 12-13 23-13 56-14 93-1 92 11 93 21 93 31 80 38 66 43 66 56 54 67 25 53 6 26-3 27-15 26-14 11-39 16-67 8zM12306 4598l-13-9-13-17-9-45 12-67 37-92 52-93 64-93 69-86 80-83 106-96 103-80 117-80 112-66 106-51 79-27 53-6 23 5 17 11 10 15 5 27-6 53-26 79-44 93-55 93-66 93-70 85-79 83-93 84-85 66-101 68-93 55-106 51-79 27-67 10zM3009 4209l-109-27-103-45-90-61-65-67-51-79-15-40-9-40 1-40 6-26 14-27 24-26 39-26 34-14 98-20 120-3 119 15 120 33 92 41 79 53 68 67 29 40 22 39 14 40 7 40-2 40-8 26-15 27-21 22-27 20-40 19-92 24-120 7zM11524 4118l-10-16 5-40 17-39 38-67 109-146 146-159 160-146 188-145 76-50 67-35 40-13 26 6 5 25-11 40-32 66-42 69-119 162-141 154-151 134-159 116-66 40-66 33-54 15zM11206 3907l-6-4 7-13 98-106-7-6-119 112-5-13 20-27 136-159 150-159 192-186 223-198 53-42 5 2-4 13-126 132 6 7 119-113 27-20 6 7-20 27-78 92-253 272-229 219-116 101zM11166 3893l0-4 11 1zM11312 3777l5-6-5-6-6 6zM11325 3763l5-6-5-4-5 4zM11338 3749l5-5-5-4-4 4zM11352 3735l3-4-3-4-4 4zM11365 3721l3-3-3-3-3 3zM10834 3705l-19-14-5-13 0-27 10-39 30-67 38-66 47-66 53-67 62-66 70-66 80-67 171-119 73-42 67-31 53-13 23 6 7 14 1 13-7 26-24 53-40 66-100 133-126 138-138 128-140 106-66 41-53 26-40 12zM11378 3707l0-5zM11391 3693l0-4zM11405 3679l0-3zM11723 3361l0-3zM11736 3349l0-5zM11749 3336l0-6zM11763 3323l3-3-3-4-3 4zM11776 3310l4-4-4-3-4 3zM11789 3298l5-5-5-4-4 4zM11802 3285l6-5-6-5-4 5zM11816 3272l6-5-6-6-6 6zM10078 3254l-26-8-27-14-30-32-20-53-4-66 14-76 28-70 41-66 51-59 70-61 80-53 102-52 106-41 93-25 79-8 53 9 37 25 20 39 3 40-8 53-17 53-24 53-39 67-49 66-48 53-57 53-56 44-67 43-66 36-66 28-67 18-53 8zM11988 3124l-3-3 3-3zM4388 2962l-146-21-132-41-111-58-55-40-46-42-44-50-36-53-27-53-21-67-5-53 5-40 15-39 30-40 35-27 48-23 53-16 53-10 132-7 146 13 133 32 128 51 109 66 90 80 34 40 37 53 26 53 13 40 7 39-1 40-12 40-17 27-25 26-40 27-44 19-53 16-133 19zM9017 2577l-106-12-93-33-79-49-44-39-36-41-35-51-28-54-19-53-9-53 1-39 11-40 16-27 27-26 73-40 109-31 146-21 146-5 106 11 93 25 66 34 32 27 23 26 23 40 15 40 6 40 1 39-7 53-13 40-19 40-27 40-34 37-35 29-45 28-51 25-108 31zM13155 1902l6-1zM1961 1874l-119-8-106-14-93-19-93-28-80-32-79-43-67-45-71-63-70-80-63-92-48-93-34-93-15-80 3-79 20-57 37-49 54-40 55-25 79-24 80-15 106-11 106-3 120 4 106 10 106 17 88 20 84 26 80 31 74 36 72 44 66 49 58 53 59 66 58 80 44 80 32 79 17 66 5 67-8 53-24 53-34 40-48 34-66 31-66 20-93 18-106 12-107 5zM13301 1788l6-7-6-5-6 5zM13314 1774l6-6-6-5-5 5zM13328 1759l4-4-4-4-5 4zM13341 1745l4-4-4-3-4 3zM13354 1731l0-5zM13368 1717l0-4z" stroke="#00a4ff"/><path d="M1946 14063l84-159 116-173 120-147 133-133 172-140 186-123 93-52 79-36 67-23 53-9 39 5 30 22 15 40-2 66-19 79-38 107-49 106-56 95-44 64-55 66-113 109-157 117-197 119M3153 14063l68-84 80-74 92-67 107-63 123-57 129-45 106-25 106-10 66 5 67 21 53 34 39 46 28 54 25 79 13 93 4 93M9478 14063l30-24 26-12 93-22 159-15 213-6 212 5 199 15 159 24 148 35M13826 14063l4-53 15-46M595 13095l132-173 134-146 158-142 173-129 119-80 120-71 106-56 79-36 67-20 39-2 27 12 11 34-8 53-25 66-40 80-54 93-128 185-74 93-80 90-152 149-174 146-218 159-212 135M595 11617l93-26 40-4 26 3 27 12 13 15 10 32 2 27-16 92-47 133-67 146-81 143M13845 11546l-133-35-119-42-93-44-79-49-107-84-107-107-70-93-12-26-4-27 4-13 17-13 40-7 70 6 115 27 127 40 126 47 119 52 106 55M13845 11123l-159-89-165-114-61-53-37-40-16-27-5-26 7-14 25-14 79-9 133 7 199 25M595 9065l371-241 108-80 78-66 114-119 213-266 120-132 84-81 92-81 319-247 94-82 99-106 172-225 51-54 46-39 58-40 63-32 67-22 53-8 53 6 33 16 21 27 8 39-6 40-16 40-52 80-76 79-214 186-93 93-76 93-178 252-125 145-81 80-91 80-373 291-73 67-62 66-58 75-53 80-222 402-121 186-73 93-85 92-84 80-105 87M13845 8118l-257 282-101 92-93 71-97 62-115 62-133 61-239 97-39 20-36 25-20 27-17 53-25 265-23 106-22 53-26 40-30 32-40 30-40 21-53 19-106 20-119 0-106-20-78-36-35-26-26-27-21-28-18-38-11-40-3-40 9-53 27-53 47-53 55-41 69-38 91-41 360-132 38-19 27-20 21-27 12-27 54-185 41-106 49-93 62-93 126-146 284-277 115-121 102-119 214-265 126-142M595 5973l133-24 132-13 106 3 67 17 26 15 27 25 33 56 25 80 10 92-6 80-21 80-40 79-50 66-69 67-81 62-292 185M13845 5366l-239 118-106 43-79 24-53 7-40-8-14-11-10-18-5-39 13-93 41-133 67-159 76-146 75-119 80-106 97-106 97-91M595 2266l146 36 119 47 106 62 89 73 93 106 75 120 51 119 14 53 5 53-11 66-13 27-21 26-54 40-68 27-107 21-119 10-146 1-159-10M13845 1991l-186 123-132 74-40 17-40 8-17-7-6-14 8-39 18-40 89-146 146-199 160-193M13845 1347l-318 298-372 322-26 19-9-6 95-106-7-6-106 99-13 8-3-8 153-186 258-292 174-185 174-172M13845 896l-133 152-131 136-141 133-152 131-172 134-173 120-119 68-40 14-27 4-19-7-8-13-2-13 7-40 20-53 82-159 115-186 106-146 100-119 119-120 139-119M6919 813l122 74 119 63 469 208 104 53 90 55 106 78 89 79 77 80 140 159 66 66 53 42 66 37 93 29 120 16 119 5 331 2 173 14 69 14 64 21 53 26 45 33 38 40 32 53 24 66 11 66 0 80-11 66-22 67-36 66-33 40-48 43-56 36-64 31-79 28-80 19-80 11-79 3-93-6-93-20-93-37-79-49-56-46-65-66-184-234-53-60-67-57-66-39-119-43-345-77-199-61-106-42-106-51-398-220-199-92-226-76-478-129-118-39-93-37-140-70-126-81-126-104-131-133M12944 813l-94 90-106 87-125 88-140 85-141 74-124 54-106 33-80 9-53-8-35-21-26-40-12-53 1-80 14-93 27-106 40-119M1311 13982l-12-12 11-26 43-67 64-83 213-248 238-251 238-227 213-184 159-118 40-20 13-4 14 5-4 29-26 54-123 185-155 199-158 173-172 159-227 185-249 185-67 42zM1019 13868l-8-4 1-13 18-40 69-106 78-106 201-251 185-202 198-184 227-184 212-150 66-35 27-2 2 13-17 40-54 79-62 80-172 199-214 225-235 226-256 226-186 146-40 27zM8659 13865l-159-22-146-33-146-47-132-58-119-66-101-67-338-264-132-90-146-74-282-116-126-66-58-40-47-39-37-40-39-53-26-53-9-40 2-40 11-26 26-27 24-13 70-17 105 4 107 23 83 30 86 39 309 178 146 66 93 30 92 23 385 74 159 39 156 55 136 69 74 50 72 59 66 67 62 73 56 79 53 93 32 80 10 53-2 26-12 29-27 25-39 16-53 11-67 5zM12227 13427l-106-5-106-12-106-20-93-24-80-29-79-38-73-45-60-47-66-64-60-75-49-79-36-80-22-79-5-67 10-53 29-54 40-37 40-23 53-22 79-22 91-14 95-9 199 0 186 20 145 36 67 25 66 33 53 33 53 42 61 58 54 67 52 79 41 80 30 80 14 66 2 53-10 53-19 40-37 40-42 27-62 26-71 18-79 12-93 8zM5516 12419l-80-12-66-26-27-17-26-25-27-43-15-63 1-40 6-40 25-66 45-67 56-53 68-41 79-31 80-17 80-2 71 12 68 26 58 40 40 40 29 40 28 53 17 53 7 53-4 40-15 39-19 27-30 27-46 26-112 38-159 26zM13235 12260l-173-25-154-42-65-27-59-30-53-34-54-42-55-53-55-66-44-66-34-67-21-66-6-53 7-40 23-40 32-26 34-17 54-16 53-9 159-5 172 16 146 28 133 43 106 54 104 78 55 53 53 60 45 60 41 66 24 53 12 40 4 40-8 39-16 27-32 26-43 20-54 14-66 10-79 4zM9906 12153l-133-14-132-34-67-27-53-28-97-69-40-40-43-53-30-53-16-40-10-53 3-40 15-40 19-26 33-27 34-18 92-29 120-14 119 2 119 18 95 28 91 44 80 57 40 40 36 45 30 49 20 44 15 53 3 39-4 40-9 27-17 26-25 27-36 23-39 17-94 21zM4256 11932l-27-15-14-29-1-40 15-54 30-65 49-80 52-66 55-59 66-59 66-50 67-41 66-33 53-19 53-10 40 2 40 18 18 25 11 40-2 53-13 53-21 53-30 53-39 53-37 40-60 52-56 41-64 40-79 40-79 33-66 20-54 8zM3606 11676l-3-14 18-39 64-91 93-110 133-140 132-125 110-91 103-69 26-9 13 2 6 9-6 30-24 50-33 53-91 119-98 106-131 120-140 108-119 77-40 15zM3314 11561l0-18 18-40 75-112 106-132 119-127 133-121 133-102 106-64 26-9 18 4 1 13-10 27-62 93-113 132-128 133-144 133-145 121-93 63-27 10zM2664 11319l-13-11-7-17 1-40 21-66 38-79 48-80 56-80 65-79 70-73 79-73 80-62 84-58 88-51 80-38 66-21 53-4 27 12 13 23-2 53-17 53-32 66-40 66-58 80-120 133-87 79-82 66-172 117-80 44-66 30-53 14zM13832 11176l-7-4 7-6 12 6zM13805 11163l-6-5 6-5 13 5zM13779 11150l-7-5 7-5 12 5zM13752 11136l-6-4 6-5 12 5zM13726 11122l-5-3 5-5 10 5zM13699 11108l-4-3 4-3 8 3zM13673 11094l0-4 5 2zM10874 11001l-106-23-93-34-79-45-70-59-51-66-20-40-11-40 1-53 10-26 21-27 53-33 80-20 93-5 106 11 93 22 92 37 68 41 65 55 53 64 23 40 15 40 5 53-7 27-16 26-46 33-80 23-93 7zM1470 10911l-26-16-10-15-7-27 0-26 15-80 41-106 53-106 67-106 81-106 86-93 98-89 110-84 125-79 123-66 106-45 93-26 67-3 26 7 18 14 10 13 10 26 2 53-17 80-36 97-45 89-59 92-72 93-74 80-87 79-102 80-118 79-120 70-119 60-106 43-80 20zM11657 10350l-97-14-103-27-104-39-81-43-87-63-64-67-30-53-2-26 7-14 29-13 41-2 66 10 66 17 144 55 149 79 77 53 47 40 36 40 14 26 1 14-8 13-22 11-26 4zM11909 10071l-93-22-91-31-93-40-99-53-79-53-46-40-33-40-10-26 1-14 12-15 40-15 53-5 79 4 80 12 66 16 67 23 53 27 66 45 58 54 54 67 26 53 3 26-6 13-16 12-39 6zM3407 8964l-11-7-5-14 10-39 32-52 40-41 53-42 49-25 31-7 13 0 18 7 7 14 0 13-7 26-23 40-35 40-46 40-47 29-53 19zM11869 7035l-27-12-12-16-8-40 7-66 29-93 49-106 55-93 69-93 71-79 85-80 101-80 111-74 120-70 119-59 106-41 80-16 40 10 17 25 2 53-20 80-39 92-50 93-60 93-63 81-79 87-80 75-93 76-93 66-106 66-106 56-93 40-79 24zM3394 6663l-40-17-31-24-22-26-19-40-5-40 6-26 16-27 28-20 40-13 40-3 40 2 53 11 53 21 39 25 32 30 17 27 7 26-4 27-16 26-38 27-51 17-53 8-53-2zM3951 6266l-85-28-85-40-88-53-46-40 12-3 19 3 34 12 13 10 13-1 14 13 13-3 3-4-3-3-84-50 4-9 14 1 71 21 118 53 88 53 33 26 10 14-23 0-85-35-9 8 9 7 13 0 13 15 14 5 35 26-9 6zM3884 6204l16-6-16-7-7 7zM3858 6190l13-5-13-6-7 6zM10728 6187l-25-16-12-26-1-40 15-53 24-53 39-62 45-57 49-53 58-54 73-56 76-50 70-38 67-27 53-14 39 2 22 11 14 27 2 26-8 40-20 53-63 107-51 65-50 53-111 95-119 75-53 24-53 18-40 7zM3831 6176l13-5-13-5-7 5zM3805 6163l13-5-13-6-8 6zM3778 6151l15-6-15-7-8 7zM4256 5908l-53-12-47-16-52-27-37-26-37-37-18-30-6-26 9-27 15-13 40-14 40-2 53 5 93 26 48 25 37 26 34 36 18 31 4 26-8 27-14 13-32 13-34 5zM1258 5829l-40-9-39-18-27-19-26-27-54-83-61-138-30-106 1-67 9-26 15-21 24-19 30-13 39-10 53-5 133 7 159 30 132 44 107 56 92 72 75 84 24 40 16 40 5 26-2 27-18 40-47 36-66 25-106 22-146 15-146 4zM9972 5694l-13-1-15-12 0-27 10-26 50-80 74-86 93-85 93-68 79-39 27-3 13 9 1 33-31 67-49 69-67 75-74 68-72 53-66 38zM9641 5472l-5-4 18-26 63-66 188-186 54-46 5 6-20 27-105 114-119 115zM9601 5456l4-1zM9614 5452l-4-10 11-13 107-120 125-120 83-65-4 13-93 96zM2187 5391l-107-27-145-46-107-40-92-43-106-61-120-82-130-101-27-27-7-13 18-1 27 11 13-1 13 11 15-7-42-26-14-13 2-4 26-1 66 15 266 88 92 38 93 45 93 54 80 53 94 70 61 53 12 13 5 15-26-1-53-19-7 5 7 6 13-1 2 8 34 27-10 6zM2160 5338l6-2-6-2zM9282 5259l-13-4-8-12-2-13 5-27 28-53 43-53 59-53 74-49 53-21 27-2 12 6 4 26-16 40-36 53-44 49-53 48-53 38-53 24zM9972 5140l-3-3 3-3zM4998 5098l-53-16-53-25-52-40-33-39-19-40-6-40 13-40 31-31 40-18 53-10 66 0 66 11 64 22 50 26 50 40 31 40 17 40 0 39-13 30-26 26-40 20-53 12-66 3zM2386 5046l-133-26-119-36-107-47-106-65-110-93-78-93-23-40-13-40 0-26 12-25 16-15 25-13 78-16 107-2 132 14 120 24 106 33 93 42 79 50 90 80 63 80 39 79 8 40-2 27-11 26-12 13-20 14-36 13-92 9zM1444 4981l8-3-8-5-6 5zM8553 4730l-7-18 7-14 26-15 29 3 7 13-3 13-12 14-21 9zM12227 4713l-40-14-17-26-5-27 2-40 9-39 32-93 60-120 74-119 81-106 95-106 107-100 123-99 132-93 156-97 146-77 106-44 40-11 40-5 26 4 13 8 14 19 4 17-6 67-25 79-53 119-67 120-69 106-81 106-88 98-92 88-97 79-116 84-119 74-133 71-106 46-80 25zM3115 4289l-159-20-133-39-66-30-53-31-93-75-51-58-42-60-32-59-23-67-9-53 3-40 13-39 30-40 31-23 40-20 53-17 67-13 145-8 160 12 132 27 116 42 97 53 92 74 41 45 39 53 29 53 21 53 12 53 0 40-8 40-14 31-27 31-26 21-45 23-48 16-67 15-66 8zM11431 4216l-10-8-5-13 6-40 23-53 55-93 65-92 74-93 81-93 90-93 99-93 107-93 227-172 103-67 67-35 53-16 13 3 9 9 3 13-4 27-20 53-42 79-66 106-138 186-74 86-79 82-173 153-102 77-97 66-92 56-80 40-53 18-27 3zM11113 4001l-7-5 7-13 73-80-7-6-93 86-13 3-1-3 27-40 144-172 157-173 158-159 185-172 245-213 53-41 8 2-7 13-100 106 6 7 120-108 7 8-20 27-160 187-185 204-146 148-159 149-186 162zM11192 3897l6-7-6-6-6 6zM11206 3882l5-5-5-5-5 5zM11219 3868l4-4-4-4-4 4zM11232 3854l3-4-3-3-3 3zM11245 3840l0-5zM6378 3824l-106-20-93-31-84-42-71-53-60-66-36-67-9-40 1-26 8-27 12-18 40-29 66-17 80-2 93 13 91 27 81 35 77 44 70 53 63 67 35 53 16 53-8 40-27 27-27 13-40 10-79 8zM11259 3825l0-3zM10755 3797l-14-2-16-11-6-13-2-27 11-53 32-79 50-93 61-93 62-80 74-79 79-74 89-72 110-80 120-77 106-60 79-38 53-16 27-1 12 7 7 26-10 40-25 53-47 79-57 81-79 103-146 162-159 148-173 133-79 52-66 36-54 21zM10012 3347l-40-9-26-13-40-36-14-22-16-40-11-80 8-106 25-93 46-92 55-70 70-63 103-66 136-67 155-59 119-35 106-17 40 0 40 6 26 10 21 16 24 39 7 54-8 66-19 66-38 90-46 83-57 79-57 66-65 62-74 58-81 53-84 45-93 40-79 24-67 12zM11869 3216l0-4zM11882 3203l3-3-3-2zM11895 3191l4-4-4-4-3 4zM11909 3178l4-4-4-5-5 5zM11922 3166l5-5-5-6-5 6zM11935 3153l6-6-6-6-6 6zM4362 3042l-173-28-79-23-80-31-66-33-66-44-54-43-50-51-53-66-50-80-37-79-21-67-10-66 3-53 20-53 32-40 37-26 59-27 70-19 80-12 93-5 106 1 100 9 99 15 159 41 80 31 68 32 64 37 61 43 63 53 53 53 44 53 46 66 36 66 26 67 12 53 0 53-11 40-26 39-32 27-53 26-59 19-80 16-93 10-106 5-106-1zM12081 3032l-5-4 5-4 3 4zM13116 1996l-4-3 4-6 3 6zM1935 1927l-120-9-119-15-106-22-93-28-80-33-79-44-67-48-72-66-78-93-70-106-61-119-40-107-20-92-1-80 20-66 40-53 56-40 62-27 85-22 106-18 133-10 132-2 133 6 132 14 107 17 92 22 93 28 80 32 80 39 79 50 66 52 61 58 70 79 65 93 58 106 38 93 21 80 5 79-9 53-27 53-40 40-56 33-66 24-93 23-106 15-133 11-146 3zM13222 1867l6-6-6-6-6 6zM13235 1853l5-5-5-5-5 5zM13248 1839l5-5-5-4-4 4zM13261 1825l4-4-4-3-3 3zM13275 1811l0-6zM13288 1797l0-4z" stroke="#00d4ff"/><path d="M1213 14063l2-13 13-27 45-66 171-212 223-252 215-224 238-227 239-206 186-142 53-30 26-6 6 12-2 14-17 39-55 93-90 133-178 239-79 92-89 96-167 156-211 173-338 254-93 64-70 40M1904 14063l106-186 128-185 121-146 136-133 83-69 106-80 114-76 112-69 93-50 93-43 66-24 66-12 27 2 25 10 22 26 9 54-7 66-27 106-47 133-59 132-58 106-84 115-101 98-147 106-202 119M3071 14063l65-93 77-79 101-76 121-70 157-73 173-61 146-34 119-11 70 6 63 20 53 33 47 53 33 67 26 79 19 93 21 146M9011 14063l-126-35-372-77-186-47-191-66-172-80-159-93-313-211-146-89-159-79-354-151-84-43-79-49-91-68-72-66-73-79-123-147-51-52-55-43-53-28-93-27-106-11-384 8-133-4-106-19-40-14-41-22-38-31-35-48-21-53-12-67 0-66 12-79 22-67 34-66 39-51 45-42 57-40 58-30 66-26 79-22 80-15 80-5 79 5 80 17 66 26 66 41 53 46 52 56 134 183 53 64 67 60 66 37 93 33 305 67 159 47 93 37 90 42 361 203 172 79 199 66 358 90 133 38 119 43 120 57 119 76 124 104 102 107 198 230 80 81 79 63 93 51 120 40 159 29 172 17 451 33 239 29 186 41 79 26 85 36M13745 14063l-5-80 17-66 35-50 53-37M595 13041l133-169 132-139 159-139 186-136 265-167 133-73 93-44 66-25 53-9 13 1 20 12 9 27-9 53-30 79-46 93-61 106-77 120-74 106-76 97-80 93-154 155-171 145-231 173-253 170M13845 11579l-159-34-120-34-92-39-67-42-119-102-145-156-79-106-18-40-4-27 5-13 15-12 27-6 53 1 80 13 199 54 291 99 6-3-19-13-79-44-14-13-13-2-13-17-14 2-7-6 7-6 143 59 22 0-191-132-118-93-77-80-15-27-3-26 9-13 26-14 72-9 411 19M595 11549l172-78 107-35 26-3 27 4 14 13 7 40-9 53-24 80-91 225-113 226-116 191M13845 11198l-3 0 3 1M595 8984l273-200 96-79 86-80 114-119 216-252 110-120 150-146 290-252 111-103 111-122 194-239 65-66 67-57 106-70 120-58 146-51 146-34 79-4 27 8 13 10 13 19 8 25 6 53-9 93-28 92-48 93-69 93-88 93-209 191-102 101-94 106-208 252-138 146-148 132-345 282-84 76-75 76-80 93-71 97-251 398-129 178-79 92-88 88-90 79-114 90M13845 8248l-174 191-78 74-80 67-159 112-318 191-66 48-57 52-49 64-36 69-24 66-48 173-33 79-26 40-32 37-37 29-43 26-53 22-66 20-80 15-80 9-92 5-93-2-80-9-53-13-40-18-26-18-35-37-26-40-26-53-17-53-10-53-2-40 10-66 22-53 31-45 49-48 110-74 225-116 86-48 74-54 58-53 74-95 164-263 103-132 118-127 253-245 118-120 118-132 257-305 169-176M595 5903l172-47 80-28 53-30 35-38 15-40 2-66-11-66-39-173-5-53 3-35 13-35 27-30 40-21 53-13 66-5 66 1 183 19 189 37 79 23 53 22 53 32 53 42 107 112 37 50 33 53 21 53 7 40-7 40-16 26-30 27-45 24-107 32-327 63-74 27-50 32-27 34-21 53-27 212-23 93-33 80-42 66-70 80-88 74-398 272M13845 5429l-424 247-104 71-79 66-69 75-61 84-192 332-85 133-91 119-94 106-114 108-133 107-146 104-336 225-89 66-77 67-105 106-196 225-107 106-137 114-249 178-83 72-68 87-114 199-31 40-39 40-53 38-58 28-61 17-67 4-53-11-39-23-20-27-10-40 2-26 13-40 44-66 77-72 199-146 83-74 62-77 144-215 100-119 127-120 279-231 110-113 52-67 52-79 163-292 73-119 88-120 95-106 110-101 127-98 165-110 411-251 103-77 84-79 63-80 55-89 224-454 66-120 67-106 77-106 80-93 92-93 97-83M595 2216l159 31 133 46 106 58 99 80 50 53 53 66 53 80 45 80 38 79 25 67 17 66 6 53-9 66-12 27-20 26-53 40-80 30-106 20-146 11-172 1-186-8M13845 2017l-225 151-173 102-79 30-14 0-13-8-3-20 12-40 27-53 110-172 177-239 181-217M13845 1360l-305 284-464 402-27 20-9-6 108-120-6-6-119 113-14 9-3-10 188-225 314-358 175-186 162-158M13845 920l-133 151-132 138-146 135-159 135-213 164-185 129-133 75-40 15-26 3-15-4-9-13-1-27 10-40 27-66 106-199 139-226 104-145 100-120 107-106 126-106M1952 813l168 40 146 55 66 34 67 41 56 42 63 56 60 64 54 66 56 79 48 80 49 93 40 93 27 79 14 67 1 79-18 53-39 44-66 37-93 27-146 22-186 14-212 5-186-4-172-13-146-20-119-29-93-33-93-49-80-59-75-74-57-71-53-75-97-173-42-93-30-79-23-80-11-66-1-53 7-40 16-40 22-29 26-25 41-25 52-22 64-18M7117 813l176 86 398 172 186 99 92 62 93 72 239 219 80 67 79 55 80 41 106 37 132 26 133 13 318 18 146 21 72 20 61 26 43 27 45 40 45 61 31 71 21 80 12 93 0 106-10 93-21 79-34 67-35 40-54 39-70 35-79 29-106 29-106 20-107 12-92 4-106-7-93-16-93-31-80-40-66-44-68-57-197-200-87-79-86-61-106-57-132-51-340-109-168-66-182-90-385-215-212-98-212-74-504-146-133-50-106-49-129-74-123-89-119-106-149-150M12998 813l-95 95-119 98-133 92-159 96-159 84-159 72-120 39-92 14-53-7-40-24-25-42-11-53 1-79 15-106 30-133 41-146M927 13959l-5-2-1-13 5-14 30-53 90-131 106-143 215-269 93-107 103-107 106-101 120-104 278-219 146-105 106-68 53-21 11 9-8 27-41 66-146 186-209 238-217 226-252 239-288 252-216 171-40 26zM12174 13480l-120-9-119-16-106-22-93-28-81-32-78-40-66-45-67-55-79-85-67-92-53-94-46-106-22-80-6-79 11-53 13-27 20-26 44-35 53-26 66-20 93-18 106-13 119-7 133-1 133 4 185 19 80 15 79 22 67 24 66 34 53 34 53 44 67 69 60 80 59 94 53 105 36 93 20 80 4 66-14 66-24 40-46 40-52 26-70 22-93 18-119 12-120 4zM13368 12312l-226-15-106-15-93-19-79-23-80-32-66-36-53-37-67-60-66-76-59-85-52-92-32-80-14-66 2-53 8-27 14-24 27-25 29-17 50-18 53-11 146-11 173 6 212 23 159 32 106 38 93 56 66 57 67 70 66 81 63 88 40 66 32 67 16 53 4 53-13 39-22 27-40 26-38 14-57 13-78 9zM9839 12234l-159-28-79-22-67-25-68-32-64-39-57-41-49-44-58-62-49-66-39-67-28-66-14-53-3-53 8-40 25-40 31-26 47-24 53-17 66-14 90-12 96-5 199 5 146 21 133 38 106 53 49 34 46 40 51 55 47 64 45 80 28 66 18 67 6 53-6 53-17 40-29 33-39 28-42 18-64 18-80 12-93 6-93-1zM4150 12034l-24-14-10-13-10-40 9-66 29-79 47-93 59-93 62-80 76-79 76-67 83-61 93-56 93-44 80-28 66-11 53 6 40 24 22 38 11 53-2 66-14 80-27 79-32 67-45 66-46 49-68 57-81 53-98 53-114 53-116 46-93 28-66 11zM3500 11784l-4-16 17-39 95-133 147-172 156-165 172-161 159-130 107-70 39-14 14 5 1 31-16 39-77 133-108 146-119 130-151 135-193 146-160 105-53 27zM3208 11676l-6-14 3-13 18-40 104-159 134-172 146-159 158-144 172-133 146-92 53-21 18 5-1 26-13 27-82 119-134 160-139 145-168 160-184 157-159 119-40 22zM2545 11440l-14-10-7-20 4-53 28-79 55-116 64-110 73-106 74-93 81-86 93-84 104-82 108-72 119-70 120-57 79-27 53-7 27 6 13 10 12 32-8 66-30 79-40 80-56 93-67 93-66 79-76 80-93 85-107 85-114 82-124 80-120 67-79 37-67 20zM8115 11186l-93-20-89-34-72-40-72-53-64-66-41-67-9-26-1-27 4-16 13-21 40-25 66-17 80-4 92 6 80 16 80 27 68 34 64 47 55 59 37 67 12 53-3 26-8 23-27 30-26 15-37 12-69 7zM1285 11084l-14-9-10-23 0-26 9-53 45-133 78-172 77-143 80-123 82-106 90-97 112-102 122-93 138-90 159-91 172-86 146-59 53-15 40-4 27 4 15 10 11 19 4 34-11 79-42 133-56 133-62 119-72 114-74 98-85 93-102 93-121 93-138 93-156 93-199 106-159 75-106 36-27 3zM10993 11079l-154-13-137-31-63-23-57-26-93-62-48-44-45-53-34-53-26-53-16-53-4-53 8-40 19-33 22-20 32-20 79-27 120-14 132 2 133 18 106 29 93 41 79 53 80 78 40 52 34 53 26 53 13 40 6 40-3 39-11 27-20 26-32 23-39 17-107 22zM13540 11030l-5-4 5-4 11 4zM13513 11014l5-2zM11710 10403l-146-21-133-32-106-37-93-47-93-67-87-88-40-54-22-39-8-27 1-26 9-14 15-8 39-8 67 4 93 19 106 31 93 35 92 41 93 51 94 61 86 66 57 53 38 53 3 27-9 13-17 9-53 8zM6059 10125l-25-14-4-14 6-26 19-27 31-23 27-9 26-1 18 7 11 13 3 13-5 23-11 17-42 31-27 9zM12015 10125l-120-23-132-41-133-53-106-54-108-69-97-80-35-39-15-27-6-26 5-14 12-13 18-9 40-11 67-5 92 0 120 7 106 11 79 18 54 21 53 38 66 73 93 129 47 86 8 40-10 27-32 14zM11577 10045l3-1zM11550 10032l4-1zM9057 10018l-55-14-63-26-41-27-41-39-23-40-9-40 11-40 25-26 37-19 53-12 53-3 66 8 53 16 49 23 38 26 39 40 23 40 9 40-9 40-16 20-28 19-52 16-53 4zM11524 10019l3-1zM5370 9913l-3-15 5-13 24-39 80-91 93-80 40-23 27-6 5 14-14 39-27 40-47 53-59 53-54 40-44 24zM5065 9807l1-15 12-26 25-40 54-66 51-53 61-54 61-43 40-20 13-4 13 3 3 11-4 14-23 39-54 67-65 66-77 66-58 43-40 17zM4402 9594l-24-14-6-13 1-40 13-40 27-53 28-44 40-51 48-51 98-81 106-61 40-15 40-8 26 1 27 15 8 17 1 26-20 66-49 80-70 80-82 70-93 63-93 43-40 10zM9680 9368l-93-32-76-48-28-26-18-27-8-26 2-14 13-13 23-6 39-1 41 7 44 13 64 27 85 53 30 26 20 27 5 27-9 13-28 9-26 2zM3102 9266l-14-7-13-20-1-44 16-66 34-80 42-79 55-83 61-76 72-76 79-71 86-65 100-66 93-51 93-42 66-20 53-1 27 17 11 30-3 53-17 66-32 80-34 66-45 69-49 64-62 66-74 66-69 53-91 62-100 58-99 49-79 33-66 17zM9999 9103l-53-10-52-17-81-40-38-26-27-27-16-26 1-27 14-14 26-10 40-6 40 1 79 16 67 32 39 33 23 28 15 26 6 27-4 18-13 14-27 9zM3234 6825l-26-11-13-13-24-46-25-93-16-106 0-66 12-53 24-40 34-27 61-23 79-9 105 6 94 19 80 29 66 40 51 44 39 53 19 54 3 26-6 31-10 22-21 27-56 39-98 40-146 36-146 23-40 2zM10569 6348l-27-20-10-24-4-27 9-66 26-79 45-93 49-80 61-79 74-80 82-73 95-73 117-77 120-67 106-49 79-27 53-8 27 6 15 10 8 13 6 27-5 53-25 79-35 80-44 80-60 92-59 75-66 72-80 73-80 62-92 63-93 53-106 50-80 28-66 11zM4043 6332l-159-47-132-59-133-87-74-60-38-40 6-10 40 7 13 9 13-4-37-29-8-13 19-3 26 4 93 24 106 36 93 38 66 33 80 48 63 45 61 53 20 27-11 7-53-13-8 6 21 11 16 16-3 11-26 0zM4070 6293l8-2-8-3zM3592 6055l8-3-8-5-5 5zM4322 5999l-93-15-93-28-79-38-77-52-68-66-45-66-14-40-2-27 7-24 11-15 42-26 60-14 86-4 93 9 79 16 80 25 70 33 62 43 53 50 46 67 19 53 2 26-5 27-17 26-16 13-42 19-66 11zM9813 5835l-10-8-6-14 0-26 13-40 25-53 81-119 118-133 149-133 147-106 67-41 66-32 40-10 26 6 8 24-7 40-22 53-36 66-91 133-117 130-126 109-139 93-67 35-53 21-40 9zM9495 5618l-6-4 6-13 60-66-7-7-80 72-5-12 8-13 106-133 123-133 153-146 185-158 40-29 8 2-7 13-87 93 7 6 92-86 27-17 3 4-17 26-64 80-205 226-181 170-93 78zM9455 5602l7-1zM9561 5528l6-7-6-5-6 5zM9574 5514l5-6-5-4-5 4zM9587 5499l5-4-5-4-4 4zM9601 5485l3-3-3-3-3 3zM9614 5471l0-5zM9627 5457l0-3zM2253 5431l-385-101-79-26-67-27-66-39-106-81-238-193-42-39-8-14 9-3 23 3 17 9 13-2 14 12 12-5-56-40 4-9 13 0 48 9 377 111 106 39 93 42 92 55 93 67 155 124 71 66 8 13-8 5-53-12-9 7 36 27-1 4-13 6zM9123 5403l-14-14-9-40 4-40 17-53 25-53 33-53 79-93 60-53 57-43 79-50 80-43 67-30 53-16 40-4 24 14 6 26-5 27-21 53-30 53-76 106-98 106-108 93-117 76-53 24-40 12-26 2zM2266 5393l12-4-12-4-4 4zM5118 5230l-120-12-110-28-89-42-39-26-45-38-36-40-37-53-27-53-13-40-6-40 1-39 13-40 18-27 26-22 29-18 85-26 111-11 119 7 107 21 101 36 84 46 75 60 57 66 41 80 13 66-6 40-11 27-20 26-29 23-67 31-106 21zM9919 5165l0-3zM9932 5153l0-5zM9946 5140l3-3-3-3-3 3zM9959 5127l4-3-4-4-4 4zM9972 5115l5-5-5-4-4 4zM2478 5098l-172-24-159-38-133-51-93-55-66-51-66-60-65-67-55-66-35-53-23-53-3-40 10-27 25-22 26-12 80-16 133-3 159 12 146 23 119 30 93 36 93 53 53 41 46 44 87 106 60 106 18 53 4 40-5 27-16 26-22 17-26 12-40 10-53 5zM9985 5103l6-6-6-6-5 6zM8447 4964l-66-15-54-29-51-48-34-53-24-67-9-66 9-53 12-27 18-23 53-41 62-29 97-29 106-21 93-9 80 3 66 16 40 24 25 30 13 26 8 40-1 40-7 40-18 53-30 53-30 39-40 40-35 27-44 27-53 24-93 26-53 4zM1364 4940l5-2-5-3-3 3zM12094 4833l-26-11-12-17-6-26 0-27 6-40 20-66 54-133 77-145 83-133 91-119 96-107 114-106 134-106 152-106 191-119 193-108 133-62 53-19 40-8 26 2 18 9 10 13 4 27-5 40-14 53-53 132-71 146-75 133-87 132-85 109-94 104-99 93-116 92-128 90-146 90-159 86-146 67-106 36-40 6zM7571 4381l-106-16-119-41-99-49-233-137-66-32-79-31-160-42-318-57-133-30-130-43-112-53-82-53-78-66-74-80-60-79-57-93-43-93-16-66 0-27 9-26 20-22 27-14 79-18 133-4 159 13 133 23 135 35 130 49 119 59 158 104 240 191 119 83 120 64 249 100 82 38 91 55 62 53 46 53 37 66 15 53-4 53-21 36-40 26-66 17zM3022 4342l-159-26-66-19-67-27-53-28-53-37-53-46-40-42-53-68-50-79-39-80-24-66-12-67 2-53 13-39 31-41 40-28 53-23 66-17 80-13 92-6 106-1 107 6 106 12 146 32 66 23 68 29 107 66 50 43 49 50 52 67 41 66 31 66 22 66 9 54-1 53-12 39-26 40-32 27-49 26-57 19-80 17-93 10-106 5-106-2zM11338 4316l-17-15-1-26 7-27 37-79 56-93 73-106 92-120 92-106 88-93 112-106 123-106 134-107 146-108 133-89 92-53 53-19 14-1 14 6 5 13-3 27-19 53-48 92-82 135-79 118-89 119-77 93-87 92-92 88-101 85-112 84-119 82-119 74-106 58-80 32zM11020 4094l-6-5 7-13 72-80-7-6-93 86-14 0 28-40 231-279 221-238 254-239 368-319 53-41 9 2-108 119 6 7 106-99 27-18 4 4-30 40-186 220-186 209-146 154-133 129-159 144-225 192zM11100 3989l5-6-5-5-6 5zM11113 3975l4-5-4-5-5 5zM11126 3960l4-4-4-3-4 3zM11139 3946l0-5zM11153 3932l0-4zM10649 3881l-14-12-6-19 5-53 26-79 41-93 57-106 68-106 61-81 72-79 87-79 102-80 135-93 148-92 133-76 106-53 66-21 35 4 8 13 1 13-14 53-41 80-58 93-77 109-90 116-82 97-93 97-93 88-104 90-108 83-106 74-93 58-80 40-53 16zM9919 3427l-40-13-25-15-41-45-17-34-12-40-13-93 3-146 20-132 15-53 22-54 48-67 40-36 43-29 116-59 219-87 232-78 146-37 106-15 67 5 26 9 27 19 14 17 12 27 6 66-11 80-27 93-44 106-56 106-63 93-70 81-70 65-89 66-106 65-108 54-105 42-106 32-93 12zM4415 3121l-120-13-106-17-92-22-80-26-80-36-66-39-63-46-57-53-69-80-72-106-57-106-44-106-25-93-4-66 10-53 14-27 22-26 40-27 66-27 80-17 106-12 119-5 133 3 133 11 119 17 93 19 93 25 79 28 85 38 72 39 69 46 66 52 66 62 72 79 61 80 62 93 59 106 37 79 22 67 5 53-15 39-32 27-45 17-66 13-89 10-309 10zM11975 3110l0-5zM11988 3097l4-3-4-3-3 3zM12001 3085l5-4-5-4-3 4zM12015 3073l5-5-5-5-5 5zM12028 3060l6-6-6-5-6 5zM13036 2076l-4-3 4-7 4 7zM13155 1933l6-6-6-5-5 5zM13169 1919l4-5-4-4-5 4zM13182 1905l4-4-4-4-4 4zM13195 1891l3-4-3-2zM13208 1876l0-4z" stroke="#19ffde"/><path d="M1173 14063l124-159 240-280 212-232 189-191 249-231 252-215 199-153 39-25 40-12 5 13-3 13-25 53-155 239-209 291-85 106-83 93-121 116-149 123-260 199-341 252M1867 14063l124-212 136-199 121-146 126-119 99-80 125-89 132-86 133-79 119-64 106-48 80-26 53-7 40 11 13 13 9 17 7 53-10 80-35 132-67 199-79 212-55 120-47 66-64 53-113 66-256 133M2978 14063l51-119 45-67 61-53 93-53 245-110 265-97 199-52 80-13 80-5 79 8 66 23 53 38 40 49 28 53 24 66 59 239 30 93M8599 14063l-205-52-138-41-141-49-119-51-199-104-358-225-159-89-146-70-308-128-143-68-106-64-93-68-89-79-163-158-66-56-67-45-63-32-96-32-119-21-120-8-278-4-120-11-53-11-53-18-66-41-40-46-29-60-18-67-10-93 1-119 15-133 23-92 32-63 28-30 51-35 72-32 87-29 106-30 106-22 107-14 92-5 93 6 79 15 67 23 66 36 54 38 53 47 159 170 66 63 80 60 92 50 120 46 292 94 146 59 145 73 345 197 186 86 199 67 451 124 132 49 107 51 119 75 112 91 95 92 204 217 106 99 95 69 104 57 66 28 80 26 186 40 185 24 465 46 225 37 93 24 93 31 79 36 82 49M13665 14063l-16-66-5-53 5-53 15-40 22-29 40-31 53-24 66-19M595 12986l125-156 127-131 146-125 186-135 331-210 173-99 132-70 67-30 53-15 26 1 8 4 8 14 1 13-17 66-41 93-63 120-86 145-85 133-92 133-81 106-79 93-144 146-172 145-231 173-292 200M13845 12293l-32 19-34 14-93 19-133 10-185 1-213-10-185-18-133-25-106-35-66-36-67-51-66-70-66-89-75-121-60-119-35-93-13-80 8-53 14-26 15-17 53-32 79-21 93-10 133-4 477 20 53-4 39-12 12-13 2-13-7-27-13-26-45-67-147-185-57-80-26-53-4-27 5-13 19-13 23-5 93 6 146 33 253 72 26 2 3-2-14-13-29-17-13-15-14-1-8-7 8-7 53 21 27 5 10-6-178-146-84-79-35-53-1-27 9-12 33-14 60-7 292 8 93-3 66-12 40-20M13845 11615l-119-12-80 0-40 10-12 10-4 13 4 26 25 53 160 244 66 118M595 11489l153-92 126-84 92-75 76-80 49-66 58-93 197-371 98-167 107-152 118-133 130-119 149-112 172-112 421-253 110-77 79-67 66-68 51-67 241-384 80-106 80-90 92-90 107-88 358-258 119-95 100-95 186-199 99-90 93-71 195-131 64-53 35-40 26-40 75-186 25-39 23-27 47-33 67-23 79-8 67 6 57 18 49 33 26 36 9 24 4 27-3 26-9 27-40 53-67 53-169 106-66 53-57 67-123 185-66 80-95 92-196 173-90 93-99 132-201 332-70 93-72 79-102 93-119 90-380 242-111 76-80 65-58 58-64 79-58 93-191 372-85 145-93 133-114 127-110 99-142 106-199 129-398 235-137 87-115 82-92 87-58 69-69 106-293 558-84 143-80 119M13845 10425l-19-89-5-66 7-53 17-48M595 8908l208-164 177-161 109-117 244-279 111-118 132-128 271-244 121-120 94-106 180-225 102-106 81-66 80-53 96-54 239-119 62-40 41-36 39-56 20-54 11-66 11-146 11-51 22-42 31-32 39-21 41-14 66-11 67-4 199 9 119 14 80 15 26 12 27 23 39 45 53 74 47 89 12 40 5 40-5 39-19 39-24 28-35 26-76 40-261 106-66 40-46 40-33 39-25 40-79 159-45 80-52 76-59 70-87 89-208 189-107 107-304 344-141 146-149 133-351 287-160 151-84 92-83 107-282 424-133 172-86 93-88 83-108 90-117 87M13845 8364l-133 142-132 117-133 97-305 198-80 62-53 52-53 67-39 72-31 77-49 152-27 63-39 62-41 42-65 43-92 36-107 27-279 50-53 18-33 25-8 13-6 26 4 40 26 67 87 172 9 40-1 13-12 20-26 12-27 4-100-9-125-29-239-69-13-1-3 6 82 51 0 4-13 4-13-11-13 0-49-22-31-8-5 8 191 146 101 93 32 40 13 26-2 27-15 13-36 10-67 3-225-22-239-40-80-22-66-26-53-29-40-30-53-49-53-58-65-82-46-66-29-53-11-40 4-26 15-15 39-11 53 0 146 26 277 79 16 0-14-13-53-30-13-15-14-1-8-7 8-7 89 33 19 0-148-119-84-80-30-39-12-27 0-26 8-14 39-20 53-10 252-14 77-9 56-15 37-25 16-26 8-40-9-172 7-80 22-66 42-66 39-40 63-49 328-190 83-59 69-60 81-93 178-252 119-146 115-119 356-345 122-133 299-345 102-106 111-104M595 5835l94-35 77-40 46-40 26-39 15-53 2-53-31-199-4-67 14-51 26-33 53-26 93-15 133 0 278 20 40-3 24-11 4-13-4-14-41-53-250-225-10-13 12-4 24 4 16 8 13-2 4-6-36-27 5-11 65 11 414 106 92 12 13-1 16-11-2-13-15-27-188-225-47-66-30-53-13-40 0-40 15-27 17-13 29-13 72-15 93-5 133 2 159 11 146 15 119 18 93 22 66 25 66 38 53 43 54 57 53 67 66 99 56 100 32 80 9 53-9 40-22 27-40 20-66 14-79 3-107-6-358-41-39 1-18 8 0 14 6 13 33 40 248 225 36 41-14 7-53-15-7 7 21 11 16 15-1 14-15 0-359-76-66-6-23 2-17 8-8 19 8 26 96 159 35 80 8 40 0 26-7 27-17 26-35 30-53 25-80 25-281 66-77 30-59 36-39 40-30 53-18 53-38 160-25 79-38 80-55 79-63 67-79 66-328 225-143 113M13845 5489l-200 125-132 90-105 83-87 79-73 80-79 103-218 335-83 119-73 93-83 93-95 92-112 98-451 340-172 148-90 91-215 238-104 107-116 106-220 186-97 92-89 106-145 213-74 79-44 34-53 32-106 46-132 37-226 40-31 10-9 9-5 18 9 40 72 185 17 53 3 27-2 26-21 27-33 11-26 3-93-9-120-30-106-40-93-50-77-58-51-53-16-26-8-27 6-26 11-13 20-14 36-13 106-20 265-29 27-5 21-12 6-27-13-146 8-79 15-53 18-40 24-41 40-51 68-67 197-166 92-86 73-80 178-212 115-119 103-93 268-226 136-132 70-83 66-90 187-292 78-113 79-99 88-93 112-99 131-100 413-271 124-87 101-81 96-91 78-93 82-119 70-120 188-345 65-106 64-93 74-92 86-93 86-80 106-86M595 2165l172 23 80 18 66 21 67 29 51 29 41 30 54 47 61 69 58 79 59 94 58 106 50 106 35 93 17 66 6 66-5 40-8 24-30 42-23 18-40 21-79 24-106 17-146 10-186 2-252-4M13845 2043l-279 189-212 132-53 27-40 14-18 0-9-14 16-53 36-66 149-226 209-278 201-242M13845 1376l-292 268-570 494-27 21-8-6 121-133-7-6-132 126-13 8-3-9 121-146 483-557 161-172 166-160M13845 945l-133 152-132 137-146 133-173 143-252 192-212 148-132 78-53 20-27 2-13-10-1-39 18-53 30-67 144-265 180-299 86-125 87-105 84-81 117-93M2194 813l138 55 120 70 106 87 109 120 59 79 61 93 126 225 111 239 28 80 10 53-7 40-20 22-38 17-64 14-110 10-159 8-464 9-398-9-159-12-120-16-106-23-79-28-80-40-66-48-93-96-53-70-53-81-119-214-96-213-45-132-12-53-4-53 3-40 13-40 18-26 31-27M7321 813l410 175 106 51 106 59 91 60 88 66 245 212 80 63 93 61 93 46 119 40 133 26 132 14 292 20 119 16 106 29 80 40 40 30 37 40 29 43 25 50 23 66 17 66 41 238 16 67 30 67 21 23 26 17 40 12 40 3 53-3 79-13 159-39 372-108 146-32 53-6 53 1 40 9 26 16 13 14 14 26 10 66-12 93-32 120-54 145-62 133-63 106-66 83-66 63-91 66-111 67-130 65-132 56-120 41-106 25-79 7-54-5-53-21-39-35-25-40-19-53-14-67-23-252-16-93-13-39-15-27-21-24-25-16-55-16-66-4-372 29-172 1-80-7-79-15-66-18-67-25-79-43-87-61-244-225-81-67-92-63-93-50-133-56-345-125-159-68-172-89-372-211-212-101-225-82-518-155-145-56-118-58-121-75-120-91-108-99-201-199M13062 813l-86 93-111 93-147 100-189 112-209 111-186 86-146 52-53 11-53 6-53-9-29-18-25-40-12-66 1-67 12-93 72-371M820 14063l-2-13 5-14 49-79 272-371 231-292 169-186 98-93 120-104 292-228 199-146 133-92 66-37 13-5 16 2-5 27-50 79-146 186-252 292-240 252-266 252-317 279-278 227-67 46zM12187 13533l-146-9-119-14-106-18-106-27-93-34-80-39-66-42-66-54-80-82-81-106-80-133-65-132-40-106-21-93 3-66 9-27 18-27 32-26 57-27 75-19 93-14 133-12 159-7 358 1 225 16 160 29 66 21 53 25 53 34 40 33 66 70 80 111 79 136 73 147 47 119 24 93 5 80-13 53-27 39-42 33-67 28-75 19-97 15-133 10-146 4zM1603 13481l0-3zM1616 13468l0-4zM1630 13456l0-6zM1643 13443l-3-3 3-3 3 3zM1656 13430l-3-4 3-3 4 3zM1669 13417l-3-4 3-4 4 4zM1683 13404l-5-4 5-4 4 4zM1696 13391l-5-4 5-5 5 5zM1709 13378l-5-5 5-5 5 5zM1722 13365l-5-5 5-5 6 5zM1736 13352l-6-5 6-6 5 6zM1749 13339l-5-5 5-6 6 6zM1762 13326l-5-6 5-5 6 5zM1775 13313l-5-6 5-6 7 6zM1789 13300l-6-6 6-6 6 6zM1802 13287l-6-7 6-5 6 5zM1815 13274l-6-7 6-6 7 6zM1828 13260l-6-6 6-6 7 6zM1842 13247l-6-6 6-6 6 6zM1855 13234l-6-7 6-6 6 6zM1868 13221l-6-7 6-6 7 6zM1882 13207l-6-6 6-6 6 6zM1895 13194l-6-6 6-6 6 6zM1908 13180l-5-6 5-5 6 5zM1921 13167l-5-6 5-5 6 5zM1935 13153l-6-5 6-5 5 5zM1948 13140l-5-5 5-5 5 5zM1961 13126l-4-5 4-4 5 4zM1974 13113l-4-5 4-4 5 4zM1988 13099l-4-4 4-4 4 4zM2001 13085l-4-3 4-4 4 4zM2014 13072l-3-4 3-3 4 3zM2027 13058l0-6zM2041 13044l0-4zM2054 13030l0-3zM9879 12313l-199-29-93-22-79-26-72-30-74-39-62-40-57-46-65-61-68-77-62-82-61-93-85-145-74-146-20-53 0-14 10-13 40-9 65-4 426-8 252 3 199 13 132 21 120 33 93 44 92 66 65 67 61 79 58 93 54 106 43 106 21 80 6 66-12 53-30 39-40 25-53 20-67 14-92 11-120 6-132-1zM4043 12128l-13-8-14-20-7-26 0-27 16-80 40-106 59-119 72-119 70-93 73-80 89-77 106-75 126-73 126-60 93-33 80-16 39 0 27 6 40 25 23 38 14 66 1 80-10 106-21 133-27 106-29 66-32 40-53 40-106 53-254 106-236 92-106 36-79 20-67 7zM3394 11891l-5-3 0-13 19-40 105-148 198-237 200-211 199-185 212-174 119-80 40-18 13-1 12 6 0 27-27 66-108 186-121 172-117 133-152 132-233 173-262 175-66 36zM3088 11784l13-42 39-66 161-235 157-203 135-146 84-80 95-79 232-173 119-79 80-45 39-16 14-2 10 10-6 26-29 53-117 160-158 185-178 186-200 186-251 211-106 82-79 54-40 18zM2412 11583l-13-4-12-23 12-66 49-119 73-146 83-146 78-120 88-116 88-96 101-93 116-90 133-89 146-87 146-78 132-59 80-20 26 3 14 8 8 14 2 27-14 66-36 93-66 133-70 119-73 106-73 93-86 93-96 88-104 84-128 93-140 93-172 107-146 81-93 41zM8447 11371l-173-14-159-25-132-35-120-44-84-42-89-53-278-206-106-68-106-52-225-88-93-48-60-42-43-39-33-40-33-53-29-67-13-53-1-39 13-40 26-27 25-13 81-19 107-1 106 19 66 21 75 33 243 142 133 59 146 41 280 50 118 26 106 35 93 45 59 40 60 49 55 57 53 66 55 80 64 106 64 119 33 80-1 26-31 14-93 4zM10861 11132l-159-24-67-17-66-24-53-25-53-33-47-36-46-44-51-62-44-67-41-79-25-67-12-53-1-53 12-40 29-37 40-26 40-16 119-23 186-8 199 11 133 18 106 30 79 41 80 69 53 62 56 78 49 80 39 80 19 53 9 53-2 39-18 40-27 27-32 19-53 18-67 13-79 8-106 4zM13434 10977l-5-4 5-4 12 4zM13407 10960l3-1zM5887 10325l-43-16-29-26-15-40-1-53 16-66 29-67 43-66 49-53 57-46 66-39 67-28 66-16 53-4 53 7 40 15 42 32 31 39 21 40 19 53 12 53 5 53-5 40-10 27-19 26-36 27-47 21-172 52-173 34-66 5zM11789 10152l0-4 4 2zM9097 10138l-120-20-102-34-83-46-72-60-61-80-26-53-12-40-4-39 3-27 11-26 20-27 21-17 40-21 80-21 119-12 119 4 93 14 84 27 74 39 63 53 62 80 22 40 23 53 9 40 3 39-5 27-11 26-19 23-26 19-40 18-40 11-106 13zM11763 10141l-7-4 7-6 10 6zM11617 10086l4-2-8 0zM5197 10075l0-18 11-26 69-106 93-112 106-111 106-96 106-80 66-36 27-7 18 4 8 13-4 40-40 93-60 93-83 93-110 93-153 103-107 57-39 10zM4906 9980l-6-2-5-13 7-27 58-106 94-133 104-116 106-96 132-96 106-57 40-10 16 4 4 13-6 27-46 79-82 106-99 107-128 119-131 106-98 68-40 21zM11312 9916l-5-4 5-5 13 5zM11285 9899l3-1zM4229 9779l-26-5-11-8-8-27 6-53 27-79 52-107 53-88 62-84 71-79 66-62 80-62 92-62 93-52 93-43 66-22 53-7 27 4 13 8 13 18 4 14 0 40-11 53-24 66-33 67-42 69-46 63-60 68-66 63-67 55-172 116-93 53-92 46-67 26zM9800 9462l-106-14-93-23-80-30-71-40-75-65-52-68-19-40-6-26 2-27 7-13 28-18 54-7 66 5 66 13 80 23 79 30 67 34 66 41 66 51 55 53 30 40 12 40-4 13-13 13-27 10-53 7zM9322 7595l-13-18 1-53 22-79 30-80 33-66 41-67 51-66 49-53 65-58 79-61 173-106 106-54 93-41 53-16 26 0 10 4 9 27-5 40-28 79-37 80-45 80-44 66-45 57-58 62-62 58-78 62-161 103-106 57-79 34-53 14zM5529 7061l-106-22-53-19-53-25-53-35-53-43-39-43-2-13 21 0 20 8 13-2 4-6-31-26 14-7 26 2 119 31 107 47 87 59 28 27 18 26-14 9-53-13-5 4 5 5 13-1 3 9 16 14-1 13zM8659 6998l-13-8-10-23 10-53 46-79 69-80 93-80 97-62 79-34 27-2 17 6 8 13 1 26-24 67-50 79-69 80-77 66-85 54-66 27-26 5zM5237 6879l10-5-10-6-8 6zM8341 6772l-5-4 5-13 73-80-7-6-93 83-4-10 37-53 72-80 100-93 87-67 5 1-4 13-100 106 6 7 106-100 27-16 3 3-30 44-106 120-93 87zM5768 6715l-61-13-59-24-47-29-44-40-29-40-20-53 3-40 18-26 40-23 53-11 66-2 66 8 57 15 61 26 42 27 39 36 30 43 13 40-3 40-16 26-37 26-50 14-56 5zM8420 6669l7-7-7-6-6 6zM8434 6655l6-6-6-6-6 6zM8447 6641l6-5-6-6-6 6zM8460 6628l6-6-6-5-5 5zM8473 6615l6-6-6-5-5 5zM8487 6602l6-6-6-6-6 6zM8500 6589l6-6-6-6-6 6zM10343 6570l-11-14-2-13 13-80 50-146 69-159 56-106 59-93 71-93 73-79 88-80 104-79 118-80 135-82 212-119 186-94 93-37 26-4 14 4 7 14-1 26-34 106-68 159-77 158-62 108-62 93-72 92-73 80-87 80-95 74-106 73-133 80-172 93-173 81-92 35-27 5zM7996 6549l-27-20-11-39 4-27 11-26 30-40 50-40 62-30 67-16 39 7 12 13 4 13-7 40-22 42-40 49-50 41-43 23-39 12zM4203 6398l-398-75-53-12-27-12-277-260-49-53 8-13 26 9 14-2 13 11 12-5-38-27-9-13 22-4 31 4 300 76 106 35 67 29 66 39 66 50 118 102 63 67 8 13-3 9-13 1-53-14-5 4 5 4 13-2 3 11 16 14 3 13zM4362 6066l-133-17-119-29-93-40-66-46-53-48-54-57-77-109-20-39-13-40 0-40 12-26 19-19 26-15 80-19 119-7 134 6 118 17 107 27 84 36 75 49 79 78 34 45 32 54 23 53 11 39 3 40-5 27-14 26-17 17-27 15-40 14-93 12zM3486 6000l4-1-4-2zM9680 5965l-13-19 3-40 24-66 42-80 49-79 67-93 67-80 75-79 86-80 97-80 221-159 105-65 79-42 53-18 14-1 16 7 7 26-14 54-35 79-66 119-59 93-62 87-66 82-66 70-72 66-87 70-93 65-106 66-93 51-80 35-53 15-26 0zM6630 5933l-95-14-92-26-79-40-68-53-36-40-28-40-36-79-8-40 1-26 8-27 20-27 48-26 73-14 93 0 93 15 85 25 87 40 80 52 63 54 60 67 44 66 19 53-3 27-8 13-16 13-27 12-66 13-106 6zM9375 5738l-6-4 6-14 47-53-7-6-66 59-14 0 25-39 155-199 156-173 199-185 288-240 40-29 13 3-86 93 6 6 80-73 26-18 6 6-18 26-107 133-159 187-120 128-106 102-119 105-159 129zM9428 5661l6-7-6-5-6 5zM9442 5646l4-5-4-4-5 4zM9455 5631l3-3-3-3-3 3zM9468 5616l0-3zM9030 5523l-28-15-11-17-7-23 0-53 16-79 31-93 37-80 42-66 45-53 59-53 82-58 119-70 137-71 115-53 80-29 53-10 26 5 9 7 8 27-7 40-20 53-42 79-107 161-63 78-62 66-134 120-152 105-66 36-67 30-53 15zM2346 5431l7-2-7-3zM4998 5311l-132-26-106-40-48-29-45-34-80-85-46-66-43-80-28-66-18-66-6-54 4-39 17-40 27-30 40-25 53-19 67-14 79-9 93-4 93 3 93 8 93 16 132 37 66 28 54 29 98 73 86 93 38 53 38 66 24 53 17 53 7 40-1 40-14 39-23 27-43 26-42 16-66 15-80 11-199 10zM8407 5084l-53-5-53-13-50-22-43-27-40-35-39-44-115-159-45-53-53-47-66-39-93-32-278-68-133-46-146-71-292-168-159-71-159-50-424-104-120-42-93-45-106-69-102-90-86-93-170-202-79-83-80-62-80-44-119-41-146-27-159-16-451-29-212-26-93-20-80-22-79-32-63-33-93-66-81-79-82-104-79-124-113-210-89-199-32-106-1-40 9-24 15-16 38-17 54-12 66-7 239-8 278 6 199 14 186 26 159 36 133 45 92 43 80 45 80 56 77 65 129 133 271 326 66 63 80 59 93 47 106 36 424 93 173 46 132 48 133 61 143 83 268 179 133 80 146 71 305 125 137 75 72 53 69 64 199 228 47 40 46 28 66 25 93 15 120 1 252-16 92-2 93 10 67 23 39 32 27 43 15 53 4 67-9 79-20 80-30 73-40 65-41 47-47 40-58 37-66 32-79 29-80 21-80 12zM11882 5026l-8-9-2-26 9-40 29-79 93-213 101-199 84-145 79-120 82-106 98-106 102-93 129-101 139-98 185-119 286-172 278-157 120-56 26-5 14 5 1 27-8 26-61 146-129 265-113 213-80 132-82 120-85 106-80 86-106 97-106 84-133 93-159 99-265 150-252 131-133 58-40 9zM10078 5006l0-4zM10091 4994l4-3-4-3-3 3zM10105 4982l4-4-4-5-4 5zM10118 4970l6-6-6-5-5 5zM1285 4900l4-2-4-2zM1258 4890l11-5-11-7-8 7zM11219 4426l-10-19 1-13 18-53 48-93 75-119 92-133 101-132 89-107 103-109 109-103 123-106 150-119 175-132 173-121 106-68 79-43 27-8 18 0 8 10 1 17-25 66-80 146-108 175-104 157-87 119-87 106-87 93-100 93-114 93-137 100-146 98-172 106-120 66-79 33-27 3zM3102 4408l-212-15-146-27-53-18-53-25-52-35-41-37-67-77-79-118-70-126-47-106-27-93-4-66 12-53 29-40 36-27 58-25 66-17 93-14 119-8 119-2 133 4 119 9 173 29 79 22 67 25 62 30 57 36 93 79 61 71 56 80 52 92 42 93 25 80 10 66-4 53-17 40-26 31-40 26-58 23-75 17-92 13-120 8zM10914 4198l-4-3 4-6 3 6zM10927 4188l-9-6 9-13 73-80-7-6-92 86-14 7-2-7 28-40 296-358 129-146 100-106 227-213 509-438 66-53 5 1-5 13-112 119 6 7 133-120 6 7-20 27-252 296-212 243-159 170-119 115-173 154-318 269zM11007 4082l5-6-5-5-6 5zM11020 4067l4-5-4-4-5 4zM11033 4053l4-4-4-3-3 3zM11046 4039l0-5zM10556 3973l-14-15-3-15 5-53 30-93 57-132 72-146 69-120 62-90 67-75 83-73 110-80 178-113 231-139 167-94 106-53 66-20 27 7 5 27-23 67-50 93-76 119-95 135-106 139-93 109-93 99-106 99-106 88-133 101-132 92-106 67-93 48-66 23-27 2zM12068 3017l0-5zM12081 3005l3-4-3-3-3 3zM12094 2992l5-4-5-4-4 4zM12108 2980l5-5-5-5-5 5zM12121 2967l6-5-6-6-6 6zM12280 2833l-4-4 4-3zM12943 2169l-4-3 4-6 4 6zM13076 2013l5-6-5-5-6 5zM13089 1999l5-6-5-4-5 4zM13102 1984l4-4-4-3-4 3zM13116 1970l3-3-3-3-4 3zM13129 1956l0-4z" stroke="#40ffb7"/><path d="M766 14063l537-716 118-146 116-123 143-129 228-180 544-403 119-83 40-20 8 9-21 40-171 226-292 345-254 278-188 186-217 199-272 238-331 279M1152 14063l199-239 239-273 185-202 173-172 252-231 305-261 239-188 66-43 26-6 3 10-18 40-75 119-432 637-66 93-48 56-66 61-71 55-742 544M1832 14063l142-244 138-220 76-106 78-82 100-77 158-107 193-122 199-118 146-79 106-51 80-30 66-13 26 4 27 19 10 32 1 40-24 119-93 319-28 119-7 53 0 40 6 27 16 23 26 14 27 4 93-12 450-137 199-46 133-12 53 3 53 12 41 18 37 26 28 31 27 42 40 98 54 201 26 79 39 80 40 53M2826 14063l-43-11-73 11M8290 14063l-201-68-183-78-162-85-345-208-159-87-173-79-338-138-139-68-93-57-93-68-226-205-79-64-66-45-80-41-92-32-107-22-132-11-372-11-92-15-40-13-40-20-53-44-27-38-19-42-28-106-26-225-16-80-15-39-15-23-40-30-26-8-40-3-106 14-159 45-332 120-106 34-93 16-26-2-27-14-15-30 4-66 22-80 40-106 79-173 89-172 64-106 53-66 60-53 99-67 136-79 138-73 120-57 106-43 93-28 66-8 40 4 26 12 22 20 18 35 14 85-1 225 9 93 11 40 15 26 18 21 27 16 53 14 66 3 305-27 133-3 119 12 106 32 67 34 63 44 61 53 141 143 66 60 80 59 93 53 119 52 292 107 133 57 145 77 332 195 186 89 212 76 358 97 133 41 119 46 106 53 104 68 96 80 92 90 199 209 106 98 107 81 118 66 80 34 80 27 92 24 107 22 199 28 490 51 120 19 106 23 106 32 93 42 79 50 71 59M13586 14063l-39-106-18-80 0-66 17-40 34-31 66-28 80-17 119-13M595 12926l87-110 85-93 100-92 117-93 274-189 663-415 122-86 77-66 59-67 65-92 340-599 93-140 89-110 124-123 166-129 192-125 480-286 95-67 62-53 60-66 53-80 179-331 89-146 83-109 101-103 80-67 97-69 389-236 78-53 50-40 41-39 45-53 158-252 49-67 52-59 109-100 261-199 56-53 97-106 45-40 42-27 57-26 63-17 53-5 39 7 22 15 13 27 2 26-9 40-22 40-32 40-110 106-49 56-44 63-108 186-74 93-66 61-77 58-329 212-64 53-47 50-33 43-42 66-129 252-62 108-73 105-70 79-82 74-94 72-161 106-395 243-103 75-69 66-44 54-52 79-209 372-97 159-93 133-104 119-116 106-147 112-205 140-525 340-99 71-73 63-75 83-66 93-293 477-147 226-105 146-99 119-133 133-161 132-217 160-349 241M13845 12375l-106 16-159 7-624-5-159 2-84 10-31 13-11 14-3 13 2 26 23 67 261 530 58 133 39 106 17 80 0 53-8 26-11 20-40 34-79 30-120 19-172 12-212 5-239-2-199-10-172-19-133-26-114-36-98-48-93-66-87-85-73-93-87-133-230-414-53-88-54-68-53-42-66-26-106-16-557-23-252-21-199-37-80-22-79-29-67-31-66-39-65-46-54-45-111-114-181-219-66-73-80-73-93-61-79-36-106-34-345-76-142-38-113-40-117-53-117-66-227-149-120-69-119-55-265-101-120-62-58-42-58-53-176-203-44-35-48-27-80-22-93-5-106 7-225 29-67 2-40-5-39-14-27-25-15-33-6-53 5-67 13-66 49-159 51-106 29-40 27-26 56-40 75-40 87-38 93-32 80-20 66-9 53-1 53 9 53 23 40 30 40 45 80 116 39 50 53 47 53 31 80 31 224 63 94 36 106 54 245 149 140 65 159 49 372 82 106 37 79 41 80 56 71 67 61 70 147 182 79 86 80 66 92 52 120 40 159 27 172 14 398 20 159 16 133 30 93 40 49 34 44 39 79 96 106 170 186 347 66 113 55 70 29 27 36 22 40 15 66 14 186 12 371 2 796-4 106-7 53-14 17-13 6-14 0-26-12-40-29-66-182-358-65-146-22-67-9-53 2-40 15-37 27-26 30-16 49-15 67-11 172-8 425 5 79-8 53-20 14-13 8-23-3-26-15-40-49-80-154-212-24-53 2-27 14-13 22-5 39-2 53 6 131 28 254 66 27 0-11-13-39-27-3-9-14 1-6-5 6-6 53 20 27 5 10-6-222-199-41-53-10-26 2-14 10-13 12-6 53-11 292 5 106-6 66-14 40-21 13-14 14-24 7-42-4-53-30-172-2-53 5-40 11-40 22-39 22-27 35-31M13845 11659l-53 5-40 12-17 13-8 13-4 27 9 39 17 40 96 167M595 11432l129-88 103-80 86-79 84-93 60-80 61-92 218-385 90-146 109-146 110-119 104-93 119-93 146-100 419-271 106-80 99-87 68-72 65-80 251-372 70-92 76-88 80-81 92-83 320-252 109-93 110-106 183-199 88-87 96-85 182-146 66-61 42-45 38-53 31-53 69-146 28-40 27-26 44-31 66-27 80-19 172-29 35-14 14-13 5-27-17-39-106-146 3-6 13-2 27 1 5-7-17-13-4-13 16-3 44 3 274 47 80 16 66 24 53 42 66 73 85 103 20 40-12 7-26-2-10 8 12 13-2 7-14 6-199-5-44 6-29 13-11 13-7 27 4 92-5 56-18 51-26 39-69 67-153 110-79 66-67 67-142 168-76 79-86 80-218 186-101 98-66 74-60 80-213 318-112 132-93 87-111 86-380 251-119 84-107 89-91 93-67 85-68 101-201 358-82 133-88 119-99 106-107 93-146 106-165 106-357 218-159 105-133 101-102 94-91 106-93 132-78 133-241 438-74 119-77 110M595 8833l155-128 128-120 127-132 240-275 119-128 116-115 258-238 108-106 119-133 208-264 90-94 62-53 74-53 93-57 233-129 58-40 53-48 40-53 26-58 15-66 21-173 18-48 26-34 53-33 67-19 93-12 225-12 40-8 26-18 3-28-31-53-162-172 5-9 39 5 14 10 13-6-38-27-7-13 18-3 27 3 252 53 83 13 76 2 13-3 17-12 1-27-10-26-127-199-45-93-8-40 3-26 10-22 20-18 47-20 79-14 106-6 159 0 160 7 132 12 93 18 66 22 53 30 40 33 53 60 49 70 54 93 44 93 28 79 7 53-10 40-24 27-28 15-53 15-67 7-79 3-305-9-40 4-27 9-9 9-2 13 17 40 42 53 136 146 9 13-2 13-45-8-9 8 17 14 7 13-15 3-265-34-66 4-29 14-9 13-2 26 37 133 9 66-9 53-14 27-21 26-32 27-50 29-210 90-68 34-67 42-50 44-69 84-145 234-51 66-59 67-395 370-324 359-132 133-151 132-348 281-171 157-94 103-88 109-288 425-136 172-89 93-103 93-118 93-133 94M13845 8471l-106 107-106 91-120 88-291 197-70 56-63 61-55 71-44 80-32 79-47 146-29 67-34 53-39 40-59 39-72 33-106 31-252 58-63 24-36 27-22 40 0 53 21 66 74 159 7 40-3 13-10 13-40 14-74-3-93-16-239-54-13 1-3 5 56 40-13 6-13-12-14 2-40-13-13 3 24 27 136 120 66 66 38 53 5 27-7 13-36 16-80 4-345-27-119-4-80 8-39 19-8 10-5 27 13 53 150 292 28 66 17 53 7 53-7 40-15 27-35 27-70 26-115 17-159 9-186 0-173-8-132-13-106-21-93-33-66-39-54-45-53-60-60-86-68-119-56-120-34-93-13-79 7-40 12-22 17-18 50-26 53-14 79-11 106-7 465-8 66-8 46-19 17-26-1-27-8-26-41-80-131-212-18-53 6-26 14-14 23-7 66-2 120 18 199 45 26 3 18-4-31-29-21-10 8-7 53 15 13-4 0-4-122-120-47-53-17-26-10-27-1-13 11-21 27-16 53-12 225-17 80-12 53-17 42-25 24-29 19-50 13-173 16-79 31-66 41-53 53-48 65-45 226-129 91-57 71-53 60-53 84-93 190-252 126-146 105-106 347-332 124-132 340-385 120-119 133-118M595 5765l66-34 49-37 33-40 19-40 11-53 1-53-27-185-2-54 9-44 27-37 45-25 74-15 106-5 292 9 53-10 10-5 9-13-4-27-39-53-68-66-137-120-24-26 14-5 26 5 14 8 13-3 5-5-38-27-3-13 76 13 204 53 128 28 93 10 39-11 7-13-1-14-18-39-157-213-54-93-13-39-1-27 10-26 13-14 29-15 39-11 107-10 132 0 372 10 132-2 85-11 34-14 17-13 8-13 5-27-6-40-13-39-197-412-36-92-19-67-6-53 10-53 30-40 43-26 98-28 146-17 212-9 239 2 172 10 146 18 120 27 97 37 75 43 75 63 70 79 65 93 84 146 84 173 52 132 15 80-6 40-14 22-14 12-39 20-80 19-106 11-146 8-663 13-106 13-53 22-14 15-6 17-1 27 5 26 38 93 127 239 42 92 13 40 6 40-3 27-14 26-21 17-26 12-40 9-53 5-133-2-318-23-53 4-27 13-4 18 3 13 27 40 63 67 146 132 24 27 5 13-22 0-56-19-6 6 6 6 13-1 2 8 29 26-18 4-331-65-67-3-39 11-9 14-2 13 5 26 79 160 23 66 4 53-6 27-17 26-38 31-66 29-265 66-93 29-68 31-51 35-40 43-27 42-26 65-48 160-30 79-43 80-52 68-53 54-75 63-363 252-99 80-86 79M13845 5548l-146 97-123 89-102 84-93 88-72 80-64 79-297 438-84 109-91 103-92 93-96 86-429 338-102 87-91 86-386 417-106 101-239 211-93 93-96 120-133 198-69 80-60 50-71 43-86 40-201 79-48 27-32 26-26 40-9 40 3 53 30 146-1 26-16 27-20 12-27 6-66 1-80-10-185-35-8 13 34 24 0 5-13 4-13-9-40-10-9 12 133 133 53 66 17 40 0 13-9 16-26 15-45 9-162 0-284-23-79-13-67-20-26-14-40-30-40-44-40-53-89-148-23-53-9-40 3-26 12-18 27-14 40-6 92 4 203 34 34 0-8-14-37-26 7-7 27 8 26 3 6-4-92-106-27-40-14-40 4-26 9-14 22-16 39-16 173-41 63-19 55-27 34-26 22-27 22-40 50-132 25-53 32-53 41-54 81-79 189-159 89-82 87-91 189-212 107-106 105-93 281-232 146-139 71-80 75-96 267-395 64-79 74-80 99-91 101-81 132-93 430-286 126-99 101-92 105-118 92-129 80-130 200-353 59-93 67-93 77-92 91-93 92-80 117-88M595 3878l11 39 2 26-13 37M13845 3220l-73 100-67 106-245 445-98 165-101 146-114 133-129 119-157 119-196 128-511 310-132 93-92 79-73 80-59 80-65 106-156 284-76 127-83 119-91 106-108 103-119 93-133 90-367 232-91 66-77 66-63 66-63 80-156 239-65 93-60 73-68 73-118 105-317 253-83 79-147 159-72 67-83 63-168 109-58 52-21 28-18 39-26 146-14 27-13 13-25 13-29 8-66 3-106-14-106-30-53-28-65-58-35-53-7-40 9-26 31-32 161-88 65-48 39-45 83-119 55-66 67-67 154-137 66-67 91-114 172-265 54-66 64-67 70-60 79-59 385-254 93-74 66-65 59-71 63-93 174-318 72-120 77-106 86-93 108-93 129-92 466-288 132-87 107-80 92-87 79-95 71-106 244-438 105-172 98-136 106-117 135-119 164-119 202-133 464-292 202-138 80-64 69-63 64-69 66-85M595 2112l225 11 146 19 93 30 40 24 40 33 53 62 66 100 80 140 93 179 68 146 43 106 25 79 9 67-9 53-14 26-16 17-53 31-80 22-106 13-133 8-570 7M13845 2068l-690 469-66 39-13 5-14 1-2-5 17-40 66-106 251-358 260-345 191-232M13845 1397l-199 180-809 700-7-5 20-27 126-132-6-6-160 152-13 7-2-7 808-942 102-106 140-127M13845 973l-119 143-116 121-123 111-190 155-314 239-265 189-160 98-53 23-26 3-11-9-2-13 10-40 16-39 68-133 320-584 53-119 8-40-5-13-19-4-14 2-66 26-517 270-279 130-93 35-79 24-53 9-53-2-31-13-25-26-15-40-4-53 10-119 60-358 7-80-1-53M2380 813l74 40 77 53 67 57 66 69 66 82 70 97 235 375 80 113 46 56 47 46 53 42 53 31 106 40 146 30 159 18 451 37 226 30 172 39 159 54 80 38 66 37 133 97 119 112 212 233 80 81 93 79 93 62 79 42 106 42 120 36 305 77 146 42 145 52 136 62 121 66 287 179 146 81 146 67 305 120 136 70 76 52 66 54 226 223 53 40 53 31 80 30 106 20 132 5 239-11 93 0 80 11 53 21 26 20 27 33 17 42 9 38 6 121-15 265 9 46 14 18 13 8 26 5 27-2 93-26 159-65 371-169 80-26 40-1 13 10 4 16-5 40-26 66-39 80-77 133-83 127-71 98-75 87-61 59-71 59-199 138-106 62-93 48-66 26-53 12-27-2-22-11-15-27-4-26 6-80 40-212 10-80-4-53-11-23-13-11-27-8-53 2-278 59-133 17-119-3-53-10-40-14-53-27-62-48-153-173-64-62-53-40-66-38-106-44-252-84-120-50-125-66-286-171-159-75-186-63-318-78-119-34-106-39-93-47-93-63-80-70-79-82-173-196-92-92-93-73-106-60-133-48-146-33-199-25-411-32-159-17-159-32-120-44-53-29-53-38-53-48-45-50-106-146-216-358-84-124-53-65-53-52-53-40-53-29-66-26-67-18-79-15-106-12-279-15-676-9-239-9-173-19-66-17-53-23-53-39-40-41-53-73-66-109-106-195-120-237-108-225-64-148M7535 813l288 122 102 50 93 53 164 116 318 264 93 61 106 53 119 40 146 30 133 14 292 19 119 16 96 24 76 36 67 54 53 76 45 113 58 225 29 87 24 46 20 26 30 27 32 19 40 13 53 6 120-7 172-36 345-97 119-29 106-11 40 6 27 11 26 29 11 29 4 54-4 53-16 79-25 93-129 398-10 66 3 13 13 14 21 3 39-10 107-45 225-121 504-289 93-45 26-9 27 0 9 12 1 13-25 66-51 93-93 146-133 194-133 181-103 129-73 80-85 79-123 102-159 119-159 112-146 95-106 62-80 38-53 12-22-9-6-14 0-26 9-40 38-106 136-318 47-120 21-79 0-27-11-17-26-5-67 16-398 162-212 71-79 18-67 8-53-1-53-14-26-15-26-24-31-53-23-82-32-223-21-87-18-46-22-35-26-29-27-19-66-27-93-13-371 1-157-10-122-24-115-42-73-40-77-55-239-213-93-75-93-62-92-51-133-59-332-128-146-65-172-90-371-216-213-103-119-48-119-41-531-159-132-51-120-59-119-75-120-94-92-85-281-274M10970 813l-122 18-107 6-92-7-70-17M1484 13600l0-3zM1497 13588l0-5zM1510 13575l0-6 3 3zM1523 13563l-3-4 3-4 4 4zM1537 13550l-4-4 4-4 4 4zM1550 13537l-5-5 5-4 5 4zM1563 13525l-5-6 5-5 6 5zM1576 13512l-5-6 5-6 7 6zM1590 13499l-6-6 244-250 252-247 7 6-246 252zM2094 12995l-6-6 6-6 6 6zM2107 12981l-5-6 5-4 5 4zM2120 12967l-4-5 4-4 5 4zM2134 12953l-4-4 4-4 4 4zM2147 12939l-3-3 3-3 3 3zM2160 12925l0-5zM2173 12911l0-4zM3261 12010l12-29 53-80 187-239 212-248 186-197 212-195 252-208 106-79 80-54 40-20 13-3 13 4 1 19-15 40-110 199-215 358-36 53-49 57-57 49-63 46-716 485-93 52zM2943 11938l-2-10 6-14 48-79 314-451 130-173 118-132 148-133 206-155 371-255 93-55 27-7 6 8-2 13-21 40-63 93-79 106-208 252-195 212-227 212-312 266-252 199-80 55zM3619 11465l0-4zM3632 11453l0-6 3 3zM3646 11440l-4-3 4-4 3 4zM3659 11428l-4-4 4-5 4 5zM3672 11415l-5-5 5-5 5 5zM3685 11403l-5-6 5-5 6 5zM3699 11390l-6-6 6-6 6 6zM3712 11377l-6-6 152-156 146-143 7 7zM4017 11072l-6-6 6-6 6 6zM4030 11058l-5-6 5-5 6 5zM4043 11044l-4-5 4-5 6 5zM4057 11030l-5-4 5-4 4 4zM4070 11016l-4-4 4-3 4 3zM4083 11002l0-5zM4097 10988l0-4zM13328 10922l0-4 6 2zM9176 10230l-172-13-133-27-66-22-53-24-93-63-53-50-55-66-54-80-45-80-37-79-24-66-6-53 12-27 17-13 34-14 105-16 199-11 239-3 146 6 106 12 66 19 53 33 40 40 53 74 99 178 35 80 22 66 9 53-4 40-12 26-26 27-30 16-53 17-133 17zM5051 10224l1-21 26-53 93-134 146-183 146-157 159-141 159-120 106-62 40-9 13 7 5 30-9 40-67 172-75 155-28 44-34 40-48 40-59 40-428 254-106 55-26 8zM11895 10206l-4-3 4-3 6 3zM4733 10146l-4-9 3-13 25-53 149-242 119-170 105-119 134-115 172-120 199-117 53-22 27 0 4 16-13 40-83 133-123 159-133 146-159 145-196 160-199 145-53 31zM11179 9848l-3-3 3-2 9 2zM5290 9794l0-4zM5303 9782l0-6zM5317 9769l-3-3 3-4 3 4zM5330 9756l-4-4 4-3 4 3zM5343 9744l-4-5 4-4 5 4zM5357 9731l-5-5 5-5 5 5zM5370 9718l-5-5 5-5 5 5zM5383 9705l-5-6 5-5 6 5zM5396 9692l-5-6 5-5 6 5zM5410 9679l-6-6 6-5 5 5zM5423 9665l-5-5 5-6 6 6zM5436 9652l-5-6 5-5 6 5zM5449 9638l-4-5 4-5 6 5zM5463 9625l-5-5 5-5 4 5zM5476 9611l-4-4 4-4 4 4zM5489 9597l-3-4 3-3 4 3zM5502 9583l0-6 4 3zM5516 9569l0-4zM7877 9500l-146-24-120-43-110-65-168-136-67-45-79-36-148-48-64-34-48-46-15-27-15-39-5-67 5-26 11-28 27-29 53-26 53-9 66 4 80 26 159 98 80 35 106 23 212 21 79 13 80 24 66 35 40 32 32 33 34 45 39 61 41 79 27 67 11 40 1 39-12 23-14 10-53 17-106 9zM9985 9251l-5-3 5-4 7 4zM9508 9012l0-4 8 2zM6378 8899l-7-9 1-26 32-67 66-92 67-73 80-66 79-47 27-8 26-2 27 14 11 22 5 27-3 66-23 67-31 39-80 53-139 67-98 35-27 4zM6059 8825l-12-14 1-14 13-39 25-53 66-107 80-93 93-78 93-56 79-32 27-2 19 10 5 13-3 26-31 67-57 79-62 67-91 79-109 80-82 49-40 17zM8367 8786l-79-13-67-20-53-26-46-36-46-53-29-53-12-53 5-26 8-14 27-19 54-13 66-2 79 9 67 15 53 18 53 29 53 42 52 54 39 53 16 40-2 26-8 14-18 13-46 13-73 6zM8526 8522l-4-3 4-4 7 4zM8500 8511l-13-12-14 1-13-11-13-1-13-11-14-2-13-13-13-2-13-18-14 2-5-5 5-5 14 4 79 34 53 33zM7890 7769l-13-11-7-22 9-53 27-53 46-53 84-65 93-52 66-24 26-1 12 10 3 13-4 26-21 53-42 67-47 53-60 49-66 40-66 24zM6471 7578l-40-5-40-15-26-22-27-31-31-47-11-27 15-7 14 3 16-9-15-13-1-13 26-4 40 3 93 22 66 33 32 25 21 25 15 28-2 13-26 4-11 10 6 13-8 6-40 8zM6563 7540l10-3-10-1zM7598 7513l2-15 10-14 53-53 41-33 8 7-21 29-35 37-31 27zM7571 7488l7-17 34-40 52-41 10 2-76 81-13 12zM6351 7434l5-3-5-3-5 3zM6789 7233l-53-14-40-20-40-32-31-41-25-53-7-40 10-39 27-26 40-14 66-7 66 7 53 13 53 23 46 30 42 40 30 40 18 40 2 26-11 27-15 13-45 18-53 11-67 4zM8420 7219l-1-40 14-53 63-146 81-132 92-106 126-106 196-132 225-130 66-29 27 0 6 12-1 13-16 53-53 120-55 106-93 149-51 63-50 53-59 53-79 60-93 59-93 52-106 53-79 32-40 9-13-2zM5688 7102l8-2-8-2zM8168 6948l-10-7 31-40-7-7-40 34-13 1 11-28 114-173 101-119 136-119 261-200 40-27 6 1-6 13-59 67 6 6 66-60 26-17 5 4-16 27-121 161-93 116-80 88-66 63-93 77-119 89zM8195 6894l5-6-5-5-6 5zM8208 6878l0-6-3 2zM5741 6822l-93-10-66-16-40-22-53-54-79-113-37-64-23-53-12-40-4-40 6-26 20-27 23-16 40-15 106-16 146-2 132 13 93 22 80 34 66 46 53 53 56 80 41 93 9 66-5 27-17 26-17 14-40 18-93 19-133 8zM5078 6799l8-4-8-6-8 6zM7837 6719l-28-17-25-28-22-38-58-133-29-40-37-27-67-22-185-31-93-28-93-45-199-122-119-53-120-32-331-60-93-31-66-35-67-50-66-70-172-240-53-66-53-49-67-41-93-29-132-18-531-15-172-11-120-22-79-33-66-50-54-63-66-101-83-155-74-159-38-106-11-66 2-27 11-26 21-22 26-14 80-21 132-14 186-4 186 5 159 16 133 24 106 32 66 29 66 37 67 49 53 48 99 113 206 283 53 55 53 40 66 32 80 24 318 51 133 29 106 33 106 47 97 56 208 145 93 56 106 47 199 72 98 52 48 38 37 41 37 53 79 133 32 35 27 17 53 14 66-1 93-15 252-59 53-3 36 12 17 24 4 29-6 40-20 66-30 66-37 67-43 63-40 45-53 48-53 38-120 64-53 19-53 12-39 2zM4309 6414l11-4-11-3-4 3zM8699 6385l0-3zM8712 6373l3-3-3-3zM8725 6361l5-4-5-5-4 5zM9495 6160l-10-15 2-13 18-53 53-107 83-145 76-120 74-106 74-93 74-79 87-80 97-80 274-198 344-227 93-50 25-2-1 27-37 79-233 411-124 186-115 133-71 66-83 66-210 142-185 111-173 95-93 44zM3380 5948l4-2-4-3-3 3zM9229 5881l0-5zM9243 5872l-8-6 7-13 60-66-6-6-80 72-14 0 26-40 286-371 128-146 163-146 538-439 6 1-5 14-99 106 6 6 119-107 7 8-20 26-372 455-140 156-85 80-133 114-305 244zM9309 5779l5-6-5-4-5 4zM9322 5764l4-4-4-3-4 3zM9335 5750l0-5zM2425 5470l4-2zM10198 4887l0-4zM10211 4875l3-3-3-4-3 4zM1205 4860l4-2-4-2zM10224 4862l5-4-5-4-4 4zM1179 4850l11-5-11-7-9 7zM10237 4850l6-5-6-5-5 5zM10383 4730l-5-4 5-4 4 4zM11046 4610l-11-4 0-13 37-80 80-132 121-186 120-172 108-146 103-126 92-101 97-92 108-92 307-239 496-359 120-79 56-26 4 13-4 13-44 80-393 623-150 213-66 81-66 71-78 73-80 66-227 165-531 341-132 79zM10781 4329l0-4zM10794 4319l-5-4 19-27 86-93-7-6-119 110-3-11 500-610 154-173 129-119 812-692 9 2-9 14-139 146 6 6 133-126 39-32 5 6-44 53-504 592-108 124-112 119-97 93-148 129zM10755 4303l5-2zM10901 4188l6-6-6-6-6 6zM10914 4174l5-5-5-5-5 5zM10927 4160l4-5-4-3-4 3zM10940 4145l3-3-3-3-3 3zM10954 4131l0-4zM12147 2937l0-3zM12161 2924l0-5zM12174 2912l3-3-3-4-3 4zM12187 2899l4-4-4-4-4 4zM12200 2887l6-5-6-5-4 5zM12214 2874l6-5-6-6-6 6zM12413 2699l-4-3 4-2zM12373 2687l0-4zM12810 2300l0-4zM12824 2288l-5-3 5-5 4 5zM12983 2106l6-6-6-6-6 6zM12996 2092l5-6-5-5-5 5zM13009 2078l5-5-5-4-4 4zM13023 2064l3-4-3-4-4 4zM13036 2050l0-6zM13049 2036l0-5z" stroke="#66ff90"/><path d="M739 14063l293-385 394-557 44-56 67-56 504-363 339-254 216-173 145-132 142-159 161-213 192-278 231-358 33-40 83-66 394-266 246-172 173-133 117-106 106-119 114-159 108-173 165-292 35-53 37-35 45-31 325-199 161-106 107-80 73-66 72-81 70-105 63-119 85-186 40-66 27-26 38-27 247-146 70-53 42-40 32-39 31-54 56-145 29-40 53-53 12-27-2-13-14-13-17-6-27 1-26 11-24 20-40 53-27 27-188 120-83 65-50 52-39 53-41 68-68 133-24 34-27 25-71 47-234 127-132 79-106 75-88 77-71 80-74 105-72 129-138 269-33 53-28 31-80 55-385 227-185 116-145 102-109 93-99 106-98 134-98 158-253 437-47 75-38 45-42 34-86 59-723 469-172 124-120 99-127 130-125 161-119 179-365 575-80 119-50 67-45 40-91 66-735 507M1137 14063l524-610-5-7-26 21-146 139-7-7 164-173-11-2-737 639M1799 14063l124-225 53-107 16-53-4-21-14-5-26 7-40 17-133 81-212 147-214 159M8048 14063l-145-59-146-72-411-238-172-90-160-70-344-135-160-77-87-55-85-63-292-257-79-54-80-41-106-37-119-22-146-10-372-1-93-14-66-28-26-20-27-29-21-34-19-45-21-88-34-225-22-80-31-53-24-22-32-17-48-12-53-1-66 9-67 14-199 65-397 156-67 16-26-2-14-7-8-13-2-26 22-93 51-133 125-292 38-106 7-40-3-26-17-13-14 0-53 15-79 40-106 63-160 104-185 131-159 120-104 84-82 76-80 89-92 118-251 353-159 252-38 80-6 40 16 9 13-1 27-8 66-31 517-296 226-120 106-45 40-9 26 1 15 9 8 26-8 67-120 384-37 160-6 53 2 48 9 31 18 27 26 16 27 7 79-1 120-24 358-101 159-37 80-12 66-4 53 4 53 12 40 20 26 21 27 32 23 40 34 93 63 239 25 66 27 54 39 52 41 39 42 27 60 27M13507 14063l-113-205-66-99-27-30-40-32-66-28-93-15-146-9-835-12-305-13-120-13-106-18-79-22-80-33-48-28-45-34-49-46-44-49-92-130-205-338-87-131-93-110-53-47-53-37-53-28-53-21-133-34-172-23-438-34-186-21-185-38-80-25-66-27-106-60-93-72-93-91-252-279-86-76-87-59-92-47-106-40-120-34-318-77-186-63-172-82-279-168-119-64-120-51-252-86-106-45-66-38-53-40-63-61-154-172-62-48-53-27-39-14-53-10-107-4-132 15-252 47-53 4-40-7-17-9-19-27-7-53 7-79 38-213 4-79-6-27-13-19-14-8-26-4-53 11-66 26-93 46-106 62-213 141-80 64-65 61-67 76-73 101-86 133-78 133-56 106-27 66-10 53 12 21 13 4 27-2 66-21 385-174 146-59 92-24 40-3 27 7 13 8 13 18 13 53-8 278 11 106 12 40 23 40 28 26 23 14 57 18 80 7 305-12 133 4 106 17 79 28 57 31 63 45 238 233 67 53 66 44 133 68 318 125 146 67 133 74 290 179 122 66 145 66 145 52 425 112 133 40 106 42 89 47 96 65 93 81 273 291 112 107 119 92 120 69 92 40 93 32 106 27 106 21 226 30 517 46 120 18 92 21 107 38 79 47 80 68 74 87M595 12853l66-85 66-71 71-66 89-72 212-146 475-300 182-119 164-119 121-107 98-106 98-132 99-159 262-464 79-117 82-96 101-93 126-93 491-305 139-92 109-84 93-86 66-76 63-86 64-106 184-332 64-93 67-79 69-66 86-69 378-250 90-66 63-54 65-65 54-67 175-265 50-66 54-60 280-259 57-66 88-119 51-53 67-48 133-71 34-27 10-14 9-26-6-40-21-40-51-66 12-5 26 2 14 9 11-6-53-40 2-7 13-2 172 22 93-3 40-10 25-13 19-27 3-26-4-27-14-39-48-80-61-60-66-38-53-17-53-11-133-12-119 5-40 10-30 17-9 13-3 27 23 53 51 66 88 93-14 5-26-5-53-18-6 5 6 5 13-1 2 9 18 13 7 14-146-18-67-4-66 8-40 19-17 21-10 26-17 107-12 39-21 40-21 27-62 53-158 106-80 62-66 62-142 154-80 80-92 80-234 185-117 106-64 70-62 76-223 332-52 66-62 66-79 71-101 75-374 239-134 93-116 93-97 93-90 106-83 119-71 119-146 266-73 119-70 93-73 79-97 84-133 95-504 307-186 121-146 110-119 106-118 132-107 151-101 168-250 451-67 106-73 100M13845 12435l-597 8-132 8-93 11-80 19-57 30-30 40-10 53 9 66 24 80 44 106 62 133 104 205 93 170 66 108 53 64 27 22 40 23 79 21 146 14 252 8M13845 11728l-22 27-4 27 6 40 20 51M595 11377l115-86 97-83 90-89 78-93 67-93 59-93 203-358 82-133 97-132 95-106 91-86 108-87 144-102 425-283 120-92 102-93 75-80 64-79 271-398 72-93 78-88 146-138 274-225 121-106 107-106 188-211 78-81 94-86 183-153 81-79 43-53 34-53 25-54 53-132 23-40 23-27 33-26 52-27 74-22 159-38 40-15 26-17 9-14 5-26-14-40-36-53-69-80-6-13 29 0 16 8 13-4 0-7-31-23 5-11 212 30 93 6 39-5 27-9 14-11 10-27-2-26-12-40-63-122-119-194-27-34-27-19-39-9-53-5-451-24-120 4-28 5-27 13-10 13-2 14 7 26 15 27 55 66 106 106 10 13 4 14-17 0-60-19-6 5 6 6 14 1 27 33-14 2-186-32-79-9-67 3-26 9-13 10-12 17-3 40 29 133 4 53-13 53-30 40-35 26-50 27-196 78-79 38-70 43-63 53-67 79-151 226-77 93-93 93-223 198-112 107-393 424-91 85-102 87-418 332-104 93-92 93-92 106-80 104-292 429-72 90-72 80-83 79-105 87-116 86-149 100M595 8757l121-105 110-107 112-119 230-265 122-133 127-127 260-244 105-106 114-133 192-252 85-94 67-59 66-50 93-58 239-137 66-48 47-45 38-53 28-66 14-66 15-173 17-49 24-30 42-27 53-17 93-14 226-18 53-15 19-15 7-27-10-26-16-27-46-53-120-119 7-14 26 10 13 0 14 10 13-6-53-40 13-5 27 2 199 44 119 18 66-1 22-5 18-13 7-27-18-53-129-212-33-67-11-53 12-30 13-11 26-12 80-13 478-10 176-16 62-17 40-23 13-14 13-26 5-40-12-66-39-106-64-133-75-134-53-78-53-62-53-47-67-39-79-29-106-20-133-13-172-8-199 0-173 7-119 16-80 25-34 24-19 27-8 39 3 40 15 53 27 67 123 238 29 67 12 53-5 26-8 13-19 14-23 7-79 10-120-3-345-26-66 4-27 8-13 10-5 16 3 13 33 54 65 66 148 132 12 14 2 13-72-20-8 7 21 11 28 29-15 1-246-55-85-14-80-2-17 3-22 13-9 27 5 27 73 159 22 66 3 53-17 40-38 32-66 28-254 59-104 31-78 36-55 38-39 41-33 53-23 53-52 159-32 80-44 80-52 66-56 56-78 63-294 199-108 80-109 93-101 100M13845 8573l-80 75-84 70-380 264-79 65-56 56-53 66-39 66-34 80-72 225-30 53-47 53-59 40-88 37-93 27-185 43-80 25-52 27-28 26-19 41 1 53 22 66 77 159 8 40-9 18-13 9-27 6-79-4-319-64-13 2-4 6 31 23 4 4-4 5-14 3-14-8-25-4-14 4 21 26 145 133 65 66 34 53 1 14-6 13-32 13-55 3-319-23-132-1-80 12-26 11-27 21-9 17-5 27 4 39 13 40 41 93 117 225 38 93 7 53-8 27-12 16-27 17-39 13-120 15-690 14-225 14-66 13-42 17-23 27-6 26 4 40 11 40 53 133 90 185 98 173 67 98 66 79 66 60 80 50 93 37 119 28 146 18 172 10 252 3 239-8 152-17 98-27 45-26 29-40 9-53-7-53-20-67-37-92-147-305-39-93-18-67 0-26 8-27 20-20 27-13 92-18 146-4 478 8 106-10 37-9 29-14 14-12 12-27 0-27-12-39-55-93-155-212-18-40-1-13 5-14 11-7 27-6 66 4 119 23 266 68 39 6 12-8-25-17-13-16-13-1-7-6 7-6 66 21 15-2-8-13-218-199-40-53-6-26 5-13 27-14 53-6 265 8 106-3 71-12 35-13 22-14 18-19 12-21 9-39-4-67-25-172 0-53 10-53 18-40 33-41 49-39 57-31M595 5688l40-33 24-27 23-40 13-40 5-40-1-53-28-172-4-53 8-47 21-33 45-25 66-15 106-5 279 5 53-7 18-6 15-13 4-13-8-27-40-53-54-53-167-146 6-12 40 11 13 9 17-8-54-40 11-4 31 4 254 67 126 25 80 3 13-3 21-12 5-27-24-53-153-212-48-80-15-39-3-27 5-18 13-17 27-15 26-8 80-9 437 4 159-7 67-9 48-14 31-15 29-25 14-26 6-40-7-53-16-53-56-133-181-371-25-66-10-53 5-27 8-13 16-13 32-14 93-15 185-9 517-4 372 5 199 14 66 12 53 16 40 18 40 26 66 68 80 120 205 373 90 146 50 65 39 44 53 45 53 31 53 21 54 15 132 22 146 11 398 20 186 19 132 27 106 37 93 52 80 65 79 84 213 258 66 63 79 57 80 41 93 33 106 27 279 59 159 49 146 69 238 147 106 55 93 37 226 67 77 31 55 34 53 48 40 49 76 108 34 40 36 30 53 26 40 9 53 3 53-4 66-12 146-44 226-89 26-7 13 8-13 53-141 372-7 40 2 14 14 10 26-4 40-18 133-85 159-125 146-132 132-144 145-180 120-172 21-40 7-26-14-9-53 20-464 267-133 68-53 19-12-7 1-13 76-266 27-146 0-53-8-39-18-32-26-20-40-12-66-3-279 33-106 6-93-10-80-27-39-24-40-33-174-197-58-53-60-43-119-61-266-100-119-54-119-68-239-153-115-65-124-54-132-45-129-33-256-56-106-29-93-34-80-40-79-56-80-73-242-283-116-116-53-43-66-46-66-37-67-30-146-47-172-32-226-23-570-32-119-20-80-30-66-49-40-43-36-48-70-114-217-377-81-120-73-90-80-76-84-59-102-49-106-33-132-25-160-18-199-10-238-4-239 4-186 11-127 18-81 26-35 27-22 40-3 53 13 66 32 93 51 119 205 425 53 119 19 53 8 40-1 26-13 27-19 14-34 12-112 15-172 4-558-1-132 6-93 12M13845 5606l-143 101-118 93-103 93-87 91-68 81-69 93-204 305-83 117-88 109-98 106-159 147-361 290-152 133-132 133-324 358-396 371-101 120-152 240-39 51-37 40-47 40-63 40-80 39-199 85-53 31-35 30-27 40-12 53 7 67 34 132-1 27-6 13-26 18-66 6-266-33-13 2-4 7 31 27-14 6-13-9-26-2-14 4 16 27 112 119 53 67 18 39-2 14-11 12-26 9-53 5-306-6-132 9-42 11-38 18-19 21-12 40 6 53 28 80 43 93 60 109 53 83 40 51 40 39 53 33 66 23 93 15 133 10 186 7 159 0 119-6 80-13 49-20 17-13 15-27 3-26-8-40-37-80-124-198-16-40 4-27 30-14 80 1 93 15 225 48 45 3-2-13-37-27 8-6 53 12 8-6-20-26-106-106-44-53-16-27-7-26 3-14 9-10 27-12 39-8 213-12 93-12 66-19 53-33 26-33 19-46 20-173 19-79 26-53 41-53 48-43 66-46 226-125 92-57 80-58 64-56 86-93 198-252 117-132 486-465 123-132 244-279 113-119 127-120 153-127M595 3766l84 151 16 39 6 40-7 27-19 18-27 11-53 8M13845 3307l-75 106-74 119-236 427-85 143-91 133-103 119-105 97-135 102-161 106-514 319-145 105-106 91-93 99-88 116-82 132-148 268-71 117-84 119-81 93-83 78-93 74-119 84-367 242-110 85-94 87-105 124-221 327-62 80-62 70-106 102-220 186-87 79-76 80-137 159-65 66-80 67-164 119-56 53-29 40-17 40-11 53-3 106-9 26-11 14-25 13-45 8-199-1-14 6 24 27-10 4-13-7-34 3 1 13 15 27 129 172 16 40-6 13-55 10-331 3-127 14-48 13-38 21-20 32-4 26 9 53 20 54 33 66 43 66 44 53 43 40 45 30 53 27 66 21 80 16 92 10 106 3 107-4 78-10 54-15 40-25 13-18 7-22 1-26-8-40-40-93-113-199-6-26 11-14 29-4 66 3 292 42 50-1-5-13-16-13-2-12-14 2-4-4 4-3 53 11 11-8-104-146-13-39 9-27 18-14 34-12 165-32 81-21 60-27 44-32 32-34 21-34 66-139 29-53 38-53 48-53 343-292 87-88 174-190 108-106 108-93 326-259 93-84 79-81 69-80 71-93 251-371 64-80 76-79 93-83 119-90 411-267 150-104 118-93 102-93 109-119 105-142 92-150 203-358 69-106 60-80 82-93 86-79 100-80 130-90M13845 2095l-314 217-221 159-151 119-117 106-119 133-118 159-149 226-307 490-69 98-65 75-81 75-91 71-722 477-161 120-114 99-102 113-87 119-99 159-221 385-61 90-58 69-70 66-88 67-525 331-110 80-92 79-73 80-67 93-63 106-140 262-46 70-47 59-53 52-60 48-325 212-80 61-62 58-75 93-101 167-52 72-54 60-120 112-34 40-30 53-24 93-16 27-42 19-132 21-18 13 7 13-3 3-38 10-1 13 18 40 34 40 41 32 39 21 67 21 79 14 67 4 13-3 11-9-11-20-17-7 4-3 26 5 21-2 2-13-50-106-4-27 12-26 32-19 159-58 54-29 39-29 41-38 146-159 264-211 100-94 95-119 154-239 43-53 52-53 127-97 305-187 119-80 113-87 96-93 77-93 71-106 182-332 58-96 56-76 62-66 80-67 96-66 449-271 185-121 146-111 114-107 98-117 93-135 87-146 199-358 72-117 69-95 73-80 93-79 123-88 650-409 261-180 111-88 93-86 85-91 87-111M595 2055l172-18 67-15 39-15 27-18 20-22 12-27 4-39-6-53-15-54-62-159-125-263-133-247M13845 1030l0 9M2545 813l95 80 104 117 92 130 211 323 95 126 53 59 53 50 53 42 53 34 119 55 159 43 186 29 438 44 185 25 186 38 159 52 134 66 65 42 68 51 118 107 212 223 80 78 99 83 100 66 106 54 119 47 133 40 358 97 212 75 186 90 331 196 146 77 133 58 292 108 119 52 84 48 75 53 75 66 189 186 54 42 67 39 53 22 53 16 119 18 146-1 318-24 67 5 53 17 40 34 25 57 12 93-1 199 6 80 9 39 12 27 16 19 27 16 39 7 54-4 66-16 93-33 238-111 359-194 13-5 13 2-15 40-64 120-280 490-18 40-7 27 13 10 26-9 67-40 212-160 265-223 173-162 172-183 239-281 186-239 53-79 11-27-12-7-13 4-53 30-650 438-199 122-26 12-14-1 14-41 185-378 80-192 24-80 9-53-4-40-7-13-15-13-20-7-27-1-93 18-411 146-172 50-106 15-40-3-40-12-40-34-16-26-15-40-15-80-26-212-29-106-19-40-26-36-53-45-40-20-39-12-93-16-372-9-145-14-107-23-106-40-66-37-66-46-292-258-80-60-79-50-159-81-358-145-173-80-159-87-318-192-146-79-146-66-167-63-151-47-332-93-133-43-119-48-106-55-106-69-106-85-93-87-239-242-119-106M7756 813l187 84 159 90 144 105 220 185 87 69 106 69 106 51 133 43 146 27 146 14 291 14 120 14 93 23 66 32 38 29 28 29 27 37 26 48 37 98 62 226 38 92 22 35 27 30 26 21 40 21 53 15 53 5 67-1 66-8 199-45 451-133 93-13 26 3 27 10 19 21 10 26 3 40-7 66-32 133-89 305-22 106-1 40 5 26 8 15 26 17 40 1 66-18 93-38 120-60 278-160 478-301 28-13 0 14-14 26-92 146-479 716-26 53 12 10 40-21 93-67 278-226 336-293 241-225 219-234 318-363 252-305 80-106 20-40-7-5-13 5-40 25-795 585-266 185-66 41-13 2 3-16 22-39 253-423 162-294 78-172 15-53-3-40-13-13-27-4-79 20-120 52-450 222-213 96-93 34-66 19-53 7-40-6-22-16-9-13-9-26-3-40 8-93 60-318 17-146 0-67-7-53-15-39-19-27M11217 813l-343 72-119 17-93 5-93-6-66-17-62-31-46-40M1391 13693l0-3zM1404 13681l0-5zM1417 13668l0-6 4 3zM1431 13656l-4-4 4-4 4 4zM1444 13643l-4-4 4-5 5 5zM1457 13631l-5-6 5-5 6 5zM1470 13618l-5-6 5-6 7 6zM1669 13443l3-3-3-4-5 4zM1643 13422l5-9-5-1zM2041 13070l0-5zM2001 13058l4-3-4-1zM2054 13059l4-4-4-7-5 7zM2014 13050l13-8 160-153 7 7-135 146 8 5 438-376 381-319 136-123 128-142 522-637 31-40-4-5-27 19-106 99-6-7 112-119 8-13-8-2-53 43-557 467-159 138-93 87-172 189-626 736zM2200 12889l-6-6 6-6 6 6zM2213 12875l-5-6 5-5 6 5zM2226 12861l-4-5 4-4 5 4zM2240 12847l-4-4 4-4 4 4zM2253 12833l-3-3 3-3 3 3zM2266 12819l0-5zM3500 11585l0-4zM3513 11572l0-5 3 3zM3526 11560l-3-4 3-4 4 4zM3539 11548l-4-5 4-5 6 5zM3553 11535l-6-5 6-6 6 6zM3712 11399l0-4zM9481 11226l292 9 265-10 67-9 53-15 26-16 17-27 3-26-3-27-29-93-64-145-86-173-76-138-53-82-54-63-53-40-66-26-93-17-146-10-411-9-159-9-133-18-106-33-66-38-66-58-58-69-128-180-53-67-57-58-62-48-67-35-93-30-318-58-133-35-119-54-199-124-79-41-93-32-173-36-66-22-40-24-26-27-29-44-66-133-25-30-39-23-54-7-66 12-93 34-93 48-67 46-61 53-45 53-52 80-53 108-35 104-6 39 3 27 11 22 14 9 26 7 53-3 239-55 93-15 79 1 53 15 40 28 27 29 88 134 41 53 43 42 56 38 77 37 199 70 106 47 93 54 244 163 74 40 80 36 90 31 95 24 372 68 66 19 66 28 67 43 53 49 66 78 133 181 66 82 80 82 79 63 93 53 119 44 133 29zM4070 11042l4-3-4-7-5 7zM4030 11032l13-6 120-113 7 7-96 106 9 6 579-471 136-119 116-133 325-424 18-26-7-8-79 68-7-7 72-80-12-4-27 19-291 231-173 141-132 120-160 179-372 455-41 53zM4176 10913l-6-7 6-5 6 5zM4189 10898l-4-5 4-4 5 4zM4203 10884l-4-4 4-4 3 4zM13248 10882l0-4 8 2zM4216 10869l0-5zM4229 10855l0-3zM11975 10247l-8-4 8-6 10 6zM5118 9966l0-3zM5131 9954l0-6 4 3zM5144 9943l-4-5 4-5 5 5zM5158 9931l-6-6 6-6 6 6zM5264 9848l0-5-4 2zM11073 9795l0-5 8 2zM5622 9492l375-283 105-93 58-67 66-92 95-146 14-27 3-16-13 4-40 33-7-8 34-39-1-14-66 40-198 146-133 119-120 137-208 275-9 13 5 10 93-82 6 6-60 66-7 13zM5688 9399l-4-5 4-4 5 4zM5701 9384l0-6zM10118 9316l0-4 3 3zM6258 8827l0-6 4 3zM6272 8816l-5-5 5-6 6 6zM7691 8811l79 0 67-12 40-22 18-33-2-53-30-76-40-61-53-51-53-27-79-17-93-3-172 6-54-4-39-14-80-59-26-16-27-8-40 3-18 9-22 22-7 18-2 26 9 23 14 14 30 16 116 24 39 19 40 37 93 106 80 66 49 27 43 17 54 14zM6709 8402l105-69 47-40 35-39 24-40 9-27-7-7-40 26-6-5 21-27 3-13-5-2-26 10-54 36-53 47-39 46-36 49-23 39 6 8 13-7 53-46 6 6-34 39-4 14zM6749 8338l-4-5 4-4 5 4zM6762 8323l0-6zM6776 8309l0-4zM6855 8229l0-4zM6869 8218l-4-4 4-4 4 4zM6935 7567l40-2 25-14 8-14-5-26-26-27-29-13-40-4-26 6-14 11-5 14 6 26 26 28zM7863 7425l27 5 26-6 93-41 106-64 93-76 70-77 64-93 65-119 21-53 5-27-13-12-13 2-26 11-67 37-154 108-126 106-84 93-62 93-25 53-7 27-1 13zM7664 7249l27-2 26-9 67-34 79-59 76-72 70-84 67-101 27-67-1-15-10-11-30-1-40 12-291 115-80 25-26 2-11-21-17-119-19-66-26-53-34-40-35-27-44-22-173-57-79-35-80-52-147-112-78-49-106-46-120-31-146-19-265-15-40-7-39-17-27-25-26-38-149-257-50-76-46-57-50-53-64-51-53-32-66-29-93-27-119-20-133-9-159-2-133 8-92 15-67 24-32 30-13 40 1 40 13 53 30 79 63 133 84 154 66 106 27 27 40 14 106 8 265 3 491-5 79 4 54 13 30 21 36 45 116 207 59 93 50 60 54 46 66 34 66 20 80 13 212 24 106 25 79 36 173 107 79 29 54 7 53 1 145-21 27 0 10 30 10 186 16 39 17 14zM4945 6732l7-4-7-4-5 4zM8699 6598l40-11 66-35 239-146 161-115 117-103 93-107 97-135 184-292 37-66 13-40-13-3-13 5-40 23-185 133-249 200-189 173-143 159-139 185-52 80-27 53-9 27 5 13zM8885 6200l0-4zM8898 6188l3-3-3-4-3 4zM8911 6175l4-4-4-4-4 4zM8924 6163l6-5-6-5-4 5zM8938 6150l6-5-6-6-6 6zM8951 6138l6-6-6-7-6 7zM8964 6125l140-139-7-7-74 73-65 66zM9110 5979l6-7-6-6-6 6zM9123 5965l6-6-6-5-5 5zM9137 5951l5-5-5-5-5 5zM9150 5937l4-4-4-4-4 4zM9163 5923l4-4-4-3-3 3zM9176 5909l0-5zM3274 5895l6-2-6-4-4 4zM9190 5895l0-4zM2531 5525l11-4-11-3-3 3zM9999 5284l13 2 13-5 66-39 398-272 242-178 150-133 108-119 124-163 359-513 52-80 7-27-7-1-13 6-53 35-319 252-312 266-215 198-185 199-189 226-172 225-52 80zM1126 4820l3-1zM1099 4810l10-5-10-6-7 6zM10317 4767l0-3zM10330 4755l0-5zM10343 4742l4-3-4-4-3 4zM10357 4730l4-4-4-5-4 5zM10370 4717l5-5-5-5-5 5zM10383 4705l6-6-6-6-5 6zM10397 4692l185-180 180-184-7-7-184 179-181 186zM10768 4321l6-6-6-6-6 6zM10781 4307l6-6-6-5-5 5zM10794 4293l5-5-5-4-4 4zM10808 4279l4-4-4-4-4 4zM10821 4265l3-4-3-3-3 3zM10834 4251l0-5zM10848 4237l0-4zM11789 3496l13-1 27-15 80-55 649-483 211-166 148-133 110-119 142-178 571-764 54-79-1-14-41 25-119 94-411 346-389 344-210 199-259 279-297 345-211 265-56 80-13 26zM12253 2831l0-4zM12267 2819l3-3-3-3zM12280 2806l4-4-4-3-3 3zM12293 2794l5-5-5-4-4 4zM12306 2781l6-5-6-5-4 5zM12320 2768l6-5-6-6-6 6zM12333 2756l7-7-7-6-6 6zM12346 2743l266-259 258-265-6-6-278 271-246 252zM12877 2212l6-6-6-6-6 6zM12890 2198l6-6-6-5-5 5zM12903 2184l5-5-5-5-5 5zM12917 2170l4-4-4-4-5 4zM12930 2156l4-3-4-4-4 4zM12943 2143l3-4-3-2zM12956 2129l0-5zM12970 2115l0-4z" stroke="#90ff66"/><path d="M716 14063l207-265 188-266 96-159 16-39-1-27-17-5-26 7-120 64-185 118-279 190M1124 14063l417-491-4-5-27 19-119 112-6-6 125-133 7-13-7-2-602 519M1765 14063l76-146 38-93 6-26-3-27-14-8-13 0-66 23-93 53-159 107-162 117M7838 14063l-174-86-345-198-172-89-186-80-358-131-159-76-79-49-81-60-230-212-74-62-86-58-87-42-119-37-146-19-159-1-371 23-80-8-53-19-26-20-19-23-29-66-17-93-25-239-14-66-20-53-25-40-37-32-53-21-53-5-80 6-106 25-119 40-133 56-132 64-117 66-95 66-67 60-61 73-57 93-59 119-54 133-43 133-23 106-4 79 14 53 22 29 39 21 40 6 66-3 146-29 385-110 146-36 119-16 53 1 40 8 27 11 26 20 25 32 13 27 28 92 46 239 27 93 47 95 29 38 41 39 39 27 50 25 53 18 66 16 133 17 384 30M13426 14063l-85-117-80-83-39-32-53-34-107-45-132-30-173-20-238-12-305-4-664 8-172 5-69 6-15 13 10 40 146 305M595 12716l40-59 53-46 636-379 272-172 136-93 106-79 96-80 80-76 76-83 64-79 65-93 66-106 136-252 195-412 30-53 20-26 38-34 51-33 453-251 219-133 171-120 136-119 61-66 53-67 55-79 47-80 85-172 135-318 39-67 33-34 47-32 311-172 133-82 107-78 92-82 77-90 61-93 47-93 88-199 37-66 48-59 131-127 27-39 5-27-13-13-17-2-27 8-39 20-50 40-102 106-62 53-58 40-339 208-95 71-90 77-89 95-79 106-69 119-116 239-26 40-32 33-80 52-371 197-199 116-173 119-139 120-118 132-110 159-108 199-180 385-25 40-36 37-86 56-511 278-265 158-119 79-107 77-92 76-80 74-76 80-65 80-68 92-69 106-134 239-269 531-41 66-34 35M13845 12485l-451-1-146 10-113 17-84 27-55 36-30 43-8 27-3 40 8 66 22 80 37 92 51 106 58 107 64 101 62 84 57 63 40 36 53 38 53 29 67 27 132 34 186 23M595 11322l105-84 87-80 87-92 75-93 65-93 65-106 192-350 77-128 74-106 88-104 93-88 106-85 119-83 419-277 122-92 105-93 89-93 86-106 74-106 193-300 75-98 69-80 135-129 257-216 117-106 103-106 186-218 79-85 87-81 190-160 68-67 59-78 34-71 20-75 15-146 18-40 35-27 45-14 236-39 69-16 46-23 12-14 7-26-7-27-15-26-62-67-87-64-93-48-131-47-121-27-93-6-38 7-21 13-14 27 0 39 55 173 9 53-4 37-14 21-26 19-39 16-213 57-106 37-93 46-79 59-72 79-135 199-87 106-95 93-235 201-119 111-107 110-192 215-91 93-87 79-96 80-449 341-110 96-94 93-93 106-87 114-295 443-63 80-74 80-86 79-106 83-130 90-188 119M595 8678l114-106 103-106 311-358 122-132 345-333 116-119 121-146 180-252 87-99 68-60 78-55 331-193 57-44 40-39 45-67 23-66 9-80-4-172 9-40 17-26 41-27 55-15 80-10 242-15 61-13 28-18 10-22-1-13-10-27-29-39-67-67-142-119 14-4 20 4 19 10 14 0 13 10 16-7-79-53 23-1 252 67 133 22 53 1 38-9 16-13 7-27-11-40-27-53-50-73-66-85-106-115-53-41-40-22-66-25-80-19-278-43-213-18-66 2-40 12-14 16-2 13 10 27 29 40 98 92 181 146-10 5-24-5-82-32-7 6 7 6 13-1 14 17 50 31-11 5-238-64-120-26-93-8-26 3-25 10-11 14-3 13 6 40 90 185 22 67 0 40-10 26-11 13-32 20-57 20-261 49-106 27-80 31-66 40-53 52-35 53-29 66-51 159-27 67-44 79-52 67-54 53-79 62-305 200-131 96-121 107-133 140M13845 8672l-146 117-338 234-73 61-57 58-50 67-39 70-33 89-60 221-30 57-36 42-56 38-77 32-93 26-199 45-79 25-53 25-37 33-15 26-6 27 5 53 32 79 92 159 9 27 0 13-11 13-43 8-77-8-334-69-21 3 8 13 39 27-13 5-13-10-13 1-24-9-17 0 3 13 24 26 245 226 31 40 6 13-3 15-26 10-40 0-345-36-93-4-79 3-66 12-40 20-26 33-6 40 10 53 32 80 56 100 66 101 66 88 54 57 53 42 53 30 66 24 93 20 119 17 159 15 292 12 106-5 67-13 48-24 18-27 1-40-12-39-29-53-36-53-183-226-16-26-4-14 2-13 12-6 26-3 75 9 118 27 304 79 47 6 8-6-35-32-13-1-7-7 7-6 66 21 11-1-6-14-248-225-39-53-3-14 3-13 30-13 40-2 279 17 119 0 91-15 53-27 15-15 15-24 10-53-3-53-30-199 2-53 15-54 24-39 47-42 69-38 90-35M13845 5666l-127 94-98 82-97 91-86 92-133 173-281 421-87 109-84 93-161 151-352 287-148 133-130 132-317 358-108 106-205 188-90 91-56 66-47 67-48 79-90 173-27 40-35 39-48 40-68 40-287 120-53 33-34 32-19 30-11 37-2 26 5 40 30 80 73 132 3 27-31 11-54-4-331-54-13 0-15 7 28 28-13 5-14-7-33 1 3 13 33 40 117 109 106 88 79 48 107 40 145 40 213 52 53 9 23-2-6-13-17-18-14-2-7-7 7-6 53 14 12-8-9-13-214-212-30-40-5-13 2-13 19-8 27-2 238 11 133-6 93-19 36-16 30-21 27-33 20-52 9-53 10-133 14-66 24-53 42-53 48-40 58-36 239-122 93-54 77-53 69-57 98-103 181-225 105-119 107-107 278-252 136-132 103-109 240-276 112-119 172-159 205-163M595 5582l27-61 8-66-8-79-27-116M595 5117l20-20 20-11 66-16 106-5 305 7 53-9 17-6 15-13 4-13-6-27-39-53-70-66-177-146 4-9 37 9 16 9 14-1 13 11 14-6-78-53 11-3 24 3 241 68 146 32 93 7 26-7 14-10 5-10-1-27-25-53-46-66-145-186-51-79-12-27-3-26 4-14 15-13 33-11 66-5 465 16 119-4 93-10 79-20 54-31 29-41 9-53-13-80-35-93-59-119-79-133-65-91-66-74-66-54-67-36-92-31-133-24-173-17-225-11-186-1-146 8-106 19-66 27M595 3669l53 92 150 235 23 53 4 27-5 13-13 13-40 11-66 2-106-9M13845 3381l-80 118-82 139-230 438-68 119-70 106-67 80-100 93-128 93-527 318-183 119-141 106-115 103-98 110-95 132-86 146-196 371-60 93-63 80-67 66-91 74-103 72-374 241-120 91-92 82-72 77-72 93-61 92-145 239-101 134-93 96-207 181-95 93-78 93-113 159-59 67-81 66-163 108-59 51-36 53-13 53 10 53 32 48 42 32 64 23 80 10 92-8 80-25 53-36 28-31 25-39 56-133 27-53 36-50 40-42 67-54 186-133 98-79 97-93 186-199 115-106 101-80 343-252 107-91 82-81 81-93 76-101 241-376 63-80 65-66 79-67 113-79 407-249 172-113 146-112 121-110 118-132 106-147 95-158 207-385 56-88 53-71 75-80 84-71 120-84 159-97M13845 2123l-294 202-237 176-172 146-146 148-84 100-80 106-167 252-94 160-64 119-50 106-19 66 6 27 22 8 39-8 93-41 146-78 186-108 332-211 184-132 147-125 133-136 119-150M595 1990l93-25 40-18 29-20 26-26 15-27 9-26 5-40-11-93-43-133-70-159-93-173M2700 813l97 126 238 378 125 172 72 80 69 63 79 57 80 44 132 51 146 36 199 31 451 45 186 25 186 41 146 54 106 57 106 79 93 86 208 220 95 92 108 88 106 69 113 56 126 47 132 40 345 93 199 69 186 87 331 191 146 74 146 60 305 101 120 49 92 53 80 61 66 64 133 141 70 63 76 51 66 31 66 19 80 13 80 3 92-5 107-14 119-24 318-83 27-3 13 7 6 19-1 39-43 359-2 79 3 53 12 53 22 40 16 14 25 13 42 7 66-7 79-23 107-43 106-53 106-63 93-63 74-60 69-67 66-79 64-93 61-106 57-120 36-93 19-79-1-53-8-19-13-15-26-12-40-3-53 8-67 17-148 50-528 202-106 34-40 3-10-13-3-27 21-292-1-106-8-79-14-67-27-66-38-50-39-33-40-22-40-14-93-18-106-8-292-5-132-13-106-23-100-39-60-35-61-45-272-252-84-66-81-53-152-80-358-149-172-83-146-83-323-202-144-80-141-66-138-53-170-53-463-125-133-49-119-59-106-71-93-78-93-92-253-269-92-85-92-74M7972 813l130 68 119 78 106 83 213 183 104 79 95 57 92 43 120 38 132 25 173 14 305 4 106 6 106 20 72 31 34 27 27 29 44 77 32 93 60 239 23 62 21 44 27 40 32 33 39 27 40 16 66 13 93 0 93-12 120-27 252-81 194-76 256-107 40-14 27-4 7 6 1 13-8 40-169 504-32 106-21 93-6 66 6 40 10 20 13 13 40 11 66-10 93-34 132-65 146-83 159-100 146-100 120-94 97-88 88-98 88-115 98-146 96-159 87-159 55-119 24-80 3-26-5-27-8-12-13-7-40-3-53 12-93 35-176 81-673 334-146 67-53 16-12-5 4-40 119-411 31-133 21-119 6-93-5-67-16-53-28-41-37-25-43-14-53-6-79 3-160 24-451 95-119 15-106 3-53-7-40-10-66-34-53-54-39-68M1311 13773l0-3zM1324 13760l0-5zM1338 13748l-3-3 3-4 3 4zM1351 13735l-4-4 4-4 4 4zM1364 13723l-4-5 4-5 5 5zM1378 13711l-6-6 6-6 6 6zM10503 13692l278 7 319-1 119-5 13-2 17-13-5-26-23-53-140-292-105-199-87-146-75-106-73-83-79-70-80-51-66-32-66-24-160-38-199-25-437-31-173-18-159-30-119-43-82-46-84-66-78-80-170-199-87-92-96-85-93-62-106-53-119-43-425-105-159-51-159-71-305-176-133-64-127-46-271-72-106-39-66-40-53-46-53-62-105-139-50-53-57-44-67-31-79-17-93 0-106 16-120 35-93 41-85 53-57 53-46 66-31 66-24 80-14 80-4 79 6 53 18 53 28 40 37 28 66 23 80 8 93 0 252-15 119 3 93 15 66 24 53 31 40 32 53 53 164 183 75 66 66 48 133 71 305 125 146 70 133 78 278 184 133 76 132 62 133 48 171 47 320 70 106 27 106 38 93 47 79 58 80 74 263 309 108 113 120 100 127 79 84 40 80 31 183 49 215 33zM1550 13561l0-4zM2558 13076l13 5 27-3 66-25 106-54 158-90 435-265 111-80 76-66 59-66 56-80 68-119 79-159 58-133 37-106 9-67-5-16-9-10-31-6-66 19-80 40-133 82-132 91-140 106-125 104-93 87-95 100-100 120-101 132-103 146-79 125-54 101-19 53 1 26zM2187 12926l579-494 147-133 121-119 191-213 328-397 18-27-5-6-27 19-79 73-6-6 86-93 5-14-6-1-53 40-371 311-199 178-146 143-225 250-401 472 3 7 13-7 133-125 6 6-99 106-19 26zM1722 12799l14 2 26-8 80-41 106-69 186-130 330-254 125-106 112-106 89-93 91-106 93-120 95-132 87-133 53-93 36-79 5-27-2-15-14-10-13-1-40 11-39 17-120 64-159 97-172 113-146 105-122 97-104 95-86 90-86 105-89 121-98 146-132 212-75 133-35 79-2 27zM2306 12783l-6-7 6-5 6 5zM2319 12768l-4-5 4-4 5 4zM2332 12754l-3-4 3-4 4 4zM2346 12740l-3-3 3-3 3 3zM2359 12726l0-5zM11431 12247l133 8 146 2 132-5 106-11 80-14 69-21 50-27 38-39 19-53 1-53-14-67-28-79-55-120-67-117-66-101-66-83-40-38-40-30-40-22-53-20-132-28-173-14-292-5-238 14-93 13-67 17-53 21-39 28-27 36-14 51 4 66 21 80 37 93 55 106 61 93 64 79 51 50 53 43 66 41 66 31 80 28 77 19zM3407 11678l0-5zM3420 11666l-3-4 3-3 4 3zM3433 11654l-4-5 4-5 5 5zM3447 11641l-6-5 6-6 6 6zM9455 11146l93 7 106 1 93-5 79-10 67-16 44-18 39-26 22-27 15-40 3-53-12-66-23-66-36-80-47-79-45-63-52-57-81-62-93-43-106-28-146-17-212-4-199 15-79 14-54 15-37 17-29 24-18 29-7 40 7 53 21 67 38 79 41 67 50 66 54 58 93 75 53 33 66 31 133 43zM4601 11042l39 1 67-18 205-92 128-66 116-67 78-53 62-53 46-53 34-53 33-66 30-80 25-93 10-66-4-53-14-27-20-13-13-3-40 2-53 16-80 36-92 54-93 64-80 63-79 72-76 81-64 79-66 93-56 93-40 80-23 66 2 40zM4216 10896l106-81 209-174 121-106 112-106 111-120 100-119 131-172 15-27-3-3-27 16-53 47-6-7 59-66 0-8-13 3-53 38-226 182-197 183-174 190-226 274-28 40 2 4 13-4 93-86 7 6-71 80-7 13zM13169 10843l0-5 7 2zM4295 10794l-5-7 5-5 6 5zM4309 10779l-5-5 5-5 5 5zM3765 10765l40-7 53-23 93-53 106-68 218-159 96-79 85-80 131-146 59-79 61-93 51-93 27-66 9-40 0-13-8-21-13-8-27-1-53 14-92 42-93 50-106 66-107 73-92 74-80 74-68 74-74 93-70 103-66 109-62 120-32 79-4 40 5 12zM4322 10765l-4-5 4-3 4 3zM4335 10750l0-5zM4349 10736l0-3zM12081 10298l0-4 4 2zM7996 10270l119 6 93-13 40-15 24-18 16-21 7-19 3-40-8-39-14-40-27-53-28-43-39-48-80-67-53-30-53-22-66-20-67-13-119-12-279-10-92-11-40-12-27-15-124-95-75-39-40-10-26-1-40 10-17 13-11 27 3 26 14 27 27 26 37 23 40 17 172 44 53 28 54 49 167 184 59 53 70 53 75 44 79 35 93 27zM10330 10217l146 5 120-9 46-10 34-13 26-17 16-23 7-26-5-40-36-80-75-106-93-98-66-52-80-40-93-27-119-21-146-12-119 3-80 16-40 18-17 14-18 27-8 40 5 39 17 54 33 66 34 53 43 53 40 40 83 59 93 41 120 29zM4998 10087l0-6zM5012 10075l-4-4 4-4 4 4zM5025 10063l-5-6 5-5 6 5zM10967 9741l0-3 5 1zM6205 9450l57-3 85-26 77-40 50-40 30-40 19-53-3-53-10-21-13-16-40-17-26 0-40 9-66 33-67 54-53 64-23 40-14 40-3 27 9 26 18 13zM10224 9370l-4-2 4-4 5 4zM8712 9328l80 5 66-6 53-16 33-23 10-13 8-27-3-39-23-53-41-53-50-44-53-31-53-20-67-14-79-5-67 6-53 15-40 26-13 18-8 22 0 40 20 53 41 53 50 40 56 30 64 23zM5807 9307l111-85 115-106 93-106 28-40 12-28-27 14-53 47-6-7 56-66-10-3-27 16-79 62-93 87-94 103-70 93 5 9 13-8 80-73 6 6-68 79zM5874 9215l-6-6 6-6 6 6zM5887 9201l-5-6 5-4 5 4zM5343 9182l27 0 40-12 82-41 117-79 91-80 69-80 48-79 15-40 5-27-4-26-9-13-30-10-26 3-80 29-106 64-93 79-85 100-34 53-27 52-20 67 4 27zM5900 9187l-4-5 4-4 5 4zM5914 9173l-4-4 4-3 3 3zM5927 9159l0-6 3 3zM5940 9145l0-5zM5953 9131l0-4zM5967 9118l0-4zM5980 9105l0-4zM5993 9091l0-4zM6006 9078l0-4zM6020 9065l0-5zM6033 9053l-3-4 3-3 3 3zM6046 9040l-3-4 3-4 4 4zM6059 9028l-4-5 4-5 6 5zM6073 9015l-6-5 6-6 6 6zM9190 8905l66 8 12-9-34-27 9-7 26 8 28-1-14-26-40-42-53-46-53-36-54-27-53-19-66-17-66-10-40 0-7 11 31 26-11 5-13-10-27-1-14 6 14 27 40 40 93 65 106 48zM9216 8866l0-5 9 3zM8672 7527l27-1 41-15 43-27 46-39 34-40 22-40 7-26-7-23-27-6-49 15-46 27-51 40-43 53-18 39 0 27 8 11zM5821 7411l40 7 26-8 17-18-2-14-15-17-26-14-27-5-27 4-13 11-3 21 5 14zM6113 7140l39 2 14-7 4-9-2-13-10-13-18-13-30-14-37-4-19 4-9 14 16 26 19 13zM9375 6810l14 6 26 3 53-9 80-28 93-44 92-52 93-60 80-60 70-63 62-65 55-68 55-79 53-93 49-106 28-80 8-53-9-30-13-9-13-2-53 9-80 32-106 53-114 67-112 72-97 73-74 67-63 66-53 66-51 80-42 80-32 79-16 66-1 53 5 14zM4972 6637l79 10 67-6 17-5 18-14 11-26-3-27-8-26-38-67-58-66-59-48-53-31-66-28-80-23-79-15-93-10-80-2-66 9-28 15-7 14-2 13 9 27 17 26 62 66 95 76 80 48 79 37 93 31zM4733 6625l6-3-6-3-4 3zM4707 6613l8-4-8-4-5 4zM4680 6600l9-4-9-4-5 4zM4654 6586l8-3-8-4-5 4zM4627 6572l6-3-6-2-3 2zM6670 6559l53 0 39-16 14-27-2-13-13-27-38-32-53-22-53-4-25 5-15 9-14 16-3 15 3 21 10 19 17 18 27 19zM8871 6426l27-4 53-22 116-69 123-92 102-94 105-120 94-132 67-120 9-26 1-13-7-9-27 4-39 20-112 78-147 119-142 133-119 132-78 106-24 40-16 40 1 21zM8633 6265l26-5 27-11 92-59 107-85 112-106 100-108 104-131 57-93 8-26-4-13-19-4-40 14-146 82-155 107-107 92-83 99-67 114-22 53-11 39 2 27 5 9zM5370 6119l132 9 133-8 106-23 40-16 26-17 25-25 14-27 5-26-1-40-9-40-16-40-48-79-62-68-80-58-93-44-106-29-133-16-132 2-106 20-40 16-27 16-26 28-13 27-5 26 1 40 9 40 20 53 28 53 37 53 62 66 73 51 80 33zM8115 5933l40 8 53 1 53-7 53-15 66-27 49-27 57-39 40-36 40-45 36-52 27-53 20-53 12-53 3-53-9-40-17-27-32-22-40-11-53-3-66 4-120 20-310 65-74 18-27 13-9 9-3 13 6 54 31 119 34 93 28 53 33 42 39 32zM3168 5841l3-1zM3142 5831l9-4-9-6-8 6zM2638 5577l8-2-8-3-4 3zM10688 5523l67-13 106-44 146-74 159-91 132-84 114-80 98-80 85-79 83-93 72-93 79-119 78-133 83-159 66-146 23-80-4-26-7-8-14-4-26 4-93 38-146 79-190 116-161 106-147 107-115 92-99 93-95 106-80 106-84 133-73 133-61 132-29 93-2 27 6 26 16 13zM7518 5496l120 7 130-8 62-13 19-14 5-13-4-40-19-66-25-66-32-67-63-92-73-72-53-38-68-36-277-111-106-53-106-68-268-193-104-60-100-46-112-39-119-30-146-25-345-43-66-17-53-24-40-30-53-59-203-303-103-133-63-66-60-53-62-46-66-41-132-59-138-40-168-28-199-15-212 1-173 18-53 12-53 21-27 18-26 29-10 24-6 39 3 40 11 53 42 120 66 137 69 115 77 102 80 77 79 53 67 31 66 23 81 19 105 16 239 16 543 12 106 11 80 20 66 38 53 55 186 269 93 114 79 74 93 62 93 43 106 34 372 74 146 41 132 59 212 125 93 47 106 37zM3738 5336l204 0 155-18 53-14 49-21 33-27 19-26 11-40 0-53-12-53-24-67-40-79-41-66-48-64-54-54-79-61-53-29-53-22-120-33-159-23-199-9-185 11-67 11-53 16-38 18-32 26-21 40-5 40 12 66 25 67 49 92 63 100 67 88 53 57 39 33 40 25 93 33 133 22zM10158 5125l26 0 53-25 93-56 133-90 225-170 169-151 150-167 172-228 162-242 26-53 3-13-5-11-27 8-53 32-172 130-266 226-212 198-176 186-166 199-113 159-21 40zM9919 4959l13 5 14-3 39-19 67-42 93-69 198-166 186-173 186-196 187-220 130-173 31-53 6-26-9-6-14 2-39 18-106 66-137 92-294 212-98 80-71 66-64 68-63 78-118 173-114 199-23 53-3 26zM1019 4769l8-4-8-4-5 4zM10516 4568l0-3zM10529 4555l0-4zM10542 4542l0-4zM10556 4529l0-5zM10569 4516l0-5zM10582 4503l0-5zM10596 4489l0-4zM10609 4476l0-5zM10622 4463l0-5zM10635 4449l0-4zM10649 4436l0-4zM10662 4422l0-3zM11948 3343l53-22 80-52 371-271 263-209 188-172 173-191 212-269 305-416 41-66 4-13-1-13-31 10-79 56-292 239-331 291-265 252-239 252-252 292-173 226-31 53-3 13zM2293 3307l172 9 199 3 212-4 179-9 126-12 93-16 74-25 41-26 29-40 9-40-2-53-19-79-40-106-57-120-61-110-68-102-52-66-61-67-60-53-64-45-67-38-79-34-89-29-97-22-146-21-159-13-186-5-172 4-146 11-119 18-80 22-65 33-38 40-21 53-1 66 19 93 44 119 68 146 80 146 78 119 48 62 53 54 53 42 53 29 53 21 80 21zM11710 3178l39-14 67-44 185-145 305-264 255-240 223-233 252-284 227-279 65-93 11-26-11-8-14 4-53 30-238 171-504 381-119 98-100 93-75 80-88 106-211 291-192 292-31 67 1 13zM12360 2725l0-4zM12373 2712l0-5zM12386 2699l0-5zM12399 2686l4-3-4-3-3 3zM12413 2674l3-4-3-4-4 4zM12426 2661l4-4-4-5-4 5zM12439 2648l5-5-5-4-4 4zM12452 2635l6-5-6-5-4 5zM12466 2622l5-5-5-5-5 5zM12479 2609l6-5-6-6-6 6zM12492 2596l6-6-6-6-6 6zM12505 2583l7-6-7-6-6 6zM12519 2570l6-6-6-7-7 7zM12532 2557l153-152-7-7-73 73-79 79zM12691 2398l7-7-7-6-6 6zM12704 2385l7-7-7-6-6 6zM12718 2371l6-6-6-6-6 6zM12731 2358l6-6-6-6-6 6zM12744 2344l6-6-6-5-5 5zM12757 2330l6-5-6-5-5 5zM12771 2317l5-5-5-5-5 5zM12784 2303l4-5-4-4-4 4zM12797 2289l4-4-4-3-4 3zM12810 2276l4-4-4-3-3 3zM12824 2262l3-3-3-3zM12837 2248l0-5zM12850 2234l0-4zM12864 2221l0-4z" stroke="#b7ff40"/><path d="M695 14063l167-212 142-199 59-93 35-66 16-40 2-27-13-13-17 0-40 13-53 25-159 95-239 161M1112 14063l240-279 96-119-4-5-27 18-106 100-6-7 112-119 5-13-5-2-146 121-349 305M1730 14063l45-93 22-66 0-40-8-10-14-4-53 12-79 40-106 67-134 94M7638 14063l-378-212-179-89-186-74-371-123-93-39-66-35-80-51-80-65-201-201-73-66-70-52-67-38-79-34-80-22-93-15-93-4-92 3-107 12-106 18-105 26-85 26-65 27-50 28-45 38-29 40-23 53-15 66-9 93-1 93 7 93 15 80 26 79 35 66 53 61 65 46 80 33 80 19 93 13 358 23 133 15 132 28 109 41M13341 14063l-80-90-79-67-93-56-106-43-133-32-146-21-172-12-212-5-226 5-199 15-146 23-92 29-32 15-34 27-21 26-13 27-8 66 15 93M13845 12532l-199-8-172 2-146 11-106 20-80 29-53 39-29 45-8 27-5 40 5 53 16 66 29 80 38 79 47 84 53 80 53 68 53 57 53 47 49 36 110 58 133 44 159 30M595 11266l95-81 94-93 81-93 78-106 63-98 65-114 236-464 59-93 65-80 82-79 105-80 424-265 157-106 120-93 106-98 92-101 80-106 76-120 168-291 53-80 62-78 119-121 270-225 128-120 93-106 159-219 66-79 93-85 192-147 69-67 31-39 23-40 13-40 3-27-2-26-8-27-29-37-40-23-53-11-66 1-80 18-66 29-66 45-40 38-38 46-123 199-76 93-88 80-245 186-124 106-102 101-203 230-105 106-163 133-338 231-137 101-128 104-113 108-94 106-81 106-87 133-198 331-64 87-66 73-92 79-107 75-398 236M13845 8770l-106 78-300 201-85 72-68 74-45 67-36 79-25 93-33 212-20 53-32 40-46 31-79 30-319 66-107 32-48 27-28 26-14 27-6 40 7 39 15 40 62 99 53 65 66 71 53 49 40 29 53 21 67 18 225 41 186 20 132-3 56-12 50-25 25-28 15-40 2-39-4-40-37-173-10-66 2-53 19-53 37-40 58-33 79-29 146-41M595 8592l174-179 270-318 113-127 119-121 253-243 112-120 104-132 168-262 76-96 57-53 79-58 84-48 227-120 64-40 50-38 40-41 36-53 20-53 8-67-3-53-11-53-41-106-23-40-26-35-27-23-40-19-53-10-93-6-106 1-106 7-159 26-64 20-55 23-40 24-40 32-52 66-36 80-50 172-30 80-36 66-53 67-48 43-66 50-324 198-150 107-149 132-173 189M13845 5729l-108 84-104 91-82 82-81 93-127 172-262 411-72 96-79 91-151 145-356 291-147 133-139 146-202 243-93 104-104 104-217 199-88 93-70 93-55 106-33 106-28 159-10 26-18 26-27 18-56 23-275 73-127 46-46 27-39 37-17 29-7 40 3 26 12 40 23 40 25 32 35 34 36 27 89 44 119 31 133 10 53-3 53-11 39-14 27-17 35-40 12-27 8-40 2-79-19-212 9-53 17-27 29-21 43-19 235-77 146-60 120-66 102-75 106-106 182-226 96-106 109-106 288-252 138-131 126-134 241-279 101-106 85-80 94-79 268-199M595 5019l93 1 331 15 67-8 23-10 13-13 1-26-13-27-60-66-112-93-184-133 29 0 51 23 13 2 13 10 14-2 13 13 13-6-91-53-28-23-13-3 26-1 284 93 101 28 92 20 67 7 40-4 23-11 8-13 1-13-6-27-21-40-92-119-152-164-106-93-67-40-92-37-120-31-159-32M13845 3452l-122 199-120 239-105 252-26 80-13 66 5 27 10 11 26 5 27-4 106-38 212-101M13845 2153l-256 172-231 172-171 146-151 151-80 92-79 102-152 226-61 106-55 106-31 79-11 53 5 28 11 12 15 6 53-6 67-24 92-44 133-73 279-173 199-145 159-137 139-146 126-161M595 1912l60-38 33-38 21-55 5-53-10-79-22-80-36-93-51-107M2856 813l58 133 81 159 80 138 80 119 70 88 77 79 80 67 91 57 80 38 79 30 93 27 106 22 239 32 464 37 173 19 159 30 66 20 66 26 93 51 80 62 79 78 200 227 105 108 120 100 119 77 120 57 132 48 133 38 331 84 173 55 93 38 106 50 342 193 162 77 159 56 332 82 106 38 79 45 67 57 53 61 141 181 52 53 48 40 64 39 66 27 80 18 79 6 80-5 79-12 80-20 79-29 67-33 53-34 42-37 45-53 37-66 23-66 15-80 3-79-8-67-16-53-31-53-39-40-31-20-44-19-102-23-133-8-292 5-119-4-119-17-93-34-53-33-53-43-235-255-74-66-90-66-79-48-87-45-351-149-159-79-146-87-324-216-162-92-150-70-159-58-199-55-451-101-120-41-106-54-93-69-79-77-264-311-121-129-108-96-110-80M8174 813l74 48 79 60 254 224 100 79 124 77 119 51 133 34 146 19 199 3 398-20 93 9 39 13 25 13 42 41 21 39 15 39 19 80 50 279 24 79 31 66 40 54 53 39 38 17 39 10 81 6 93-8 106-21 119-35 133-50 132-59 108-59 91-60 70-59 59-66 55-80 48-93 43-106 37-119 26-120 11-92-4-80-22-66-19-27-25-21-27-14-39-12-80-7-93 7-119 21-438 102-146 29-119 14-80-5-40-11-26-14-27-22-20-27-33-72-34-127M1245 13840l0-5zM1258 13827l-3-3 3-3 4 3zM1271 13815l-3-4 3-4 5 4zM1285 13803l-5-5 5-5 5 5zM1298 13790l-5-6 5-5 6 5zM10304 13613l132 7 133 0 119-8 93-12 67-17 58-24 36-27 29-39 13-53-6-80-26-93-44-106-56-106-70-106-67-82-80-75-106-72-119-53-133-37-172-27-133-11-159-7-371 1-226 15-53 11-34 19-10 13-5 26 11 53 47 107 73 132 78 120 80 106 78 87 79 72 69 53 84 53 79 40 87 35 93 29 106 25 106 18zM3566 13337l66 9 80-7 119-26 146-43 239-82 186-72 100-48 76-53 42-53 28-66 23-106 12-120 1-119-10-93-25-79-35-50-27-20-26-13-40-11-40-3-93 10-106 29-132 52-140 72-122 79-97 81-82 92-73 106-62 119-51 133-25 106-4 53 3 40 8 26 16 27 18 17zM2664 12983l27 0 26-7 66-27 126-66 157-93 144-93 113-80 97-77 74-69 71-79 60-80 66-106 57-106 47-106 25-80 4-53-6-16-10-10-17-6-26 2-53 16-80 40-106 66-114 81-111 86-100 86-97 93-95 101-93 111-91 120-82 119-55 93-36 79-6 40 5 13zM2279 12831l0-4zM2293 12821l120-98 335-291 157-146 120-120 204-225 219-265 19-27-7-8-93 81-6-7 82-92-10-3-39 29-279 234-186 168-172 170-212 233-265 309-30 40 3 8 13-8 120-112 6 6-98 106-8 13zM2399 12690l-6-6 6-6 6 6zM1842 12679l13 3 27-6 66-30 93-57 132-91 275-212 123-106 98-93 89-93 92-106 84-106 76-106 67-106 41-80 17-53-1-27-6-9-13-6-27 1-66 23-106 55-119 73-133 89-119 88-106 87-97 90-89 94-88 105-89 119-88 132-81 134-55 106-20 66 2 13zM2412 12676l-5-6 5-4 5 4zM2425 12661l-3-4 3-3 4 3zM2439 12647l0-6 3 3zM2452 12633l0-4zM8526 12538l173 9 132-8 40-12 23-16 7-13 3-27-13-53-43-92-61-107-63-92-65-80-64-66-62-53-73-51-119-60-133-46-133-32-331-65-159-46-146-65-292-167-80-35-79-27-119-23-107-2-51 9-39 13-29 18-19 22-13 39 1 40 14 53 33 67 37 53 50 53 48 39 60 40 107 55 279 114 106 55 119 78 305 229 107 66 92 47 120 49 132 40 146 30zM900 12371l27 3 39-8 106-41 160-82 172-100 172-109 152-106 127-102 106-97 86-93 87-110 77-116 75-132 69-146 43-120 13-79-4-27-8-16-27-16-26-3-80 17-132 53-173 87-172 100-159 105-128 98-117 106-98 106-93 119-87 133-90 159-82 173-49 132-11 53 0 27 12 24zM11484 12193l106 7 106 0 106-6 80-11 66-16 53-20 40-23 37-37 19-40 7-53-7-53-19-66-34-80-45-80-55-79-58-66-84-73-53-33-53-25-119-38-159-25-212-9-106 3-93 10-80 14-55 16-58 27-36 26-30 40-15 53-1 53 14 67 30 79 43 80 46 66 58 66 57 52 53 39 53 31 67 31 66 24 86 22zM3301 11783l0-3zM3314 11771l0-5zM3327 11759l-3-4 3-4 4 4zM3340 11747l-4-5 4-5 6 5zM3354 11734l-6-5 6-6 6 6zM3473 11639l0-6-4 3zM5701 11292l67 1 66-4 186-32 132-41 40-19 40-29 19-23 16-40 4-39-6-54-14-53-23-53-33-53-35-39-55-40-59-23-66-10-66 4-72 15-74 29-67 38-66 54-52 65-34 66-21 80 0 66 17 53 34 40 50 27zM12426 11265l172 10 133-7 40-8 39-17 23-18 12-27 1-26-12-40-20-40-36-53-100-114-120-109-92-63-80-38-119-38-159-34-160-21-119-3-53 6-40 10-26 11-26 22-17 39 1 40 15 53 25 53 41 68 53 70 54 58 53 48 93 61 119 49 132 33zM9508 11066l119-2 106-19 40-14 33-19 30-26 18-27 10-26 5-40-4-40-16-53-23-50-26-44-40-50-40-39-78-56-81-37-106-28-106-12-120 0-119 16-53 16-40 17-26 17-26 25-17 26-11 40 1 40 9 40 15 39 30 54 38 48 40 41 80 59 106 52 119 35zM4720 10926l26 2 53-12 67-26 74-37 150-93 107-89 41-43 40-53 32-53 25-53 17-53 7-40-3-40-13-22-26-13-27-1-40 9-66 29-121 78-65 51-66 61-112 126-48 67-39 66-25 53-10 40 1 26 8 12zM13116 10854l26 4 20-5-33-31-13-2-8-6 8-7 60 20 12 0-2-13-12-14-390-326-53-35-40-16-93-26-358-92-104-22-30 0 5 13 36 28-13 5-13-10-40-6-6 10 65 66 153 125 106 79 106 65 93 41 120 41 252 75zM13089 10803l-3-3 3-3 9 3zM4335 10775l0-6zM4349 10766l92-72 109-93 197-185 87-93 91-106 61-80 16-26-4-4-26 16-66 60-6-6 72-80-13-4-27 18-172 143-159 151-160 173-132 163-5 6 5 10 13-9 93-87 7 7-82 92zM4428 10661l-6-7 6-5 6 5zM4441 10646l-4-5 4-4 5 4zM3911 10628l40-8 39-17 136-81 156-117 135-122 118-133 81-119 42-93 5-40-9-20-27-9-40 6-66 26-66 34-80 50-80 57-67 55-71 67-62 66-64 79-55 80-46 80-32 66-15 53 2 27 13 11zM4455 10632l-4-4 4-4 4 4zM4468 10618l0-6 3 3zM4481 10604l0-5zM12161 10339l-5-3 5-4 6 4zM2956 10325l53-3 79-25 93-41 106-56 105-63 98-66 89-70 85-76 61-66 63-80 51-80 45-87 33-85 16-66 2-53-8-27-10-13-33-17-26-2-40 4-80 24-106 46-106 57-106 68-95 72-91 81-79 86-67 86-66 105-54 106-36 93-17 79 1 27 11 26zM4853 10232l0-4zM4866 10220l-3-3 3-4 3 4zM4879 10208l-4-5 4-4 5 4zM4892 10195l-5-5 5-5 6 5zM10330 10151l93 4 80-7 39-10 27-12 30-29 9-40-4-26-17-40-46-66-65-64-66-48-80-42-79-28-93-20-106-9-80 5-64 20-32 27-14 26-4 27 3 26 13 40 40 66 63 67 75 51 79 37 93 28zM10901 9740l20-1-4-13-38-27 8-7 53 14 11-7-9-13-56-53-92-72-66-44-66-37-133-54-173-45-39-5-25 5 29 27-4 5-13 3-20-8-22 0 2 13 11 13 73 66 88 64 80 46 93 43 93 34 131 39zM10861 9690l-4-4 4-3 10 3zM10330 9425l-7-4 7-7 10 7zM4640 8639l27-6 40-20 64-54 34-53 3-27-9-13-26-2-40 15-40 27-39 38-30 41-9 27 1 13 11 12zM10476 7365l53-9 67-24 92-43 106-59 174-117 78-64 73-69 61-66 62-79 53-80 44-80 37-79 28-80 10-53-3-26-6-14-27-12-66 11-106 42-131 65-114 67-100 67-93 72-79 73-70 80-57 79-53 93-41 93-30 93-8 66 4 27 8 13 21 12zM4534 6837l53 7 53 0 53-8 27-12 15-16 3-13-7-27-20-26-48-40-43-27-99-43-53-15-53-9-40 1-32 13-9 14-3 13 3 26 19 40 22 31 27 27 39 29 40 19zM9561 6629l26 5 40-4 93-36 105-65 94-78 84-94 60-93 24-53 11-40 2-26-9-28-18-12-35-1-53 14-53 24-66 37-66 44-106 89-86 98-55 93-14 40-5 40 6 26zM4866 6557l53 10 40 2 39-12 13-14 0-27-12-26-27-33-38-34-42-27-53-25-106-31-53-7-40 0-39 11-12 13-1 13 11 27 22 26 46 40 90 53zM9017 6269l13 2 27-9 53-30 66-49 72-65 62-66 60-80 30-53 6-26-4-7-27 3-53 31-83 66-86 79-73 80-50 66-18 40 0 13zM8778 6113l27-6 48-28 111-95 104-118 33-53 5-26-9-6-26 6-54 29-70 50-74 67-58 66-34 53-15 40 0 13zM11710 6106l26 3 40-7 106-38 172-79 173-91 146-87 132-89 116-90 102-93 87-94 83-105 77-116 69-123 77-159 69-173 29-106 1-26-7-19-13-10-26-2-40 9-53 19-173 80-229 122-180 106-148 98-131 101-102 93-85 93-81 106-74 119-67 133-67 159-46 146-10 79 8 27zM2757 6066l265 9 80-5 53-12 30-19 6-27-18-40-33-39-76-67-108-74-120-65-106-45-159-53-119-28-93-7-33 7-16 13-6 14 0 26 14 40 21 40 113 170 79 99 40 29 40 15 53 10zM5396 6013l67 4 66-6 53-16 37-23 22-26 11-40-7-40-29-53-38-40-59-39-60-27-63-17-66-8-66 1-54 11-52 26-14 15-14 25-4 40 10 40 31 53 44 43 55 36 64 27zM3380 5800l53-3 27-11 10-13 4-13-3-26-10-27-43-66-70-80-74-65-79-53-67-32-79-30-93-25-106-22-106-15-93-5-53 4-17 5-19 13-6 13 1 13 13 27 59 66 116 93 131 84 106 54 146 57 146 41zM8235 5761l39 11 40-4 53-20 40-28 38-39 22-40 7-40-2-13-12-21-13-10-27-8-53 2-66 22-53 34-21 21-17 26-10 40 8 40zM2982 5749l5-2-5-2zM2956 5737l7-3-7-4-4 4zM2929 5724l9-4-9-4-5 4zM2903 5711l9-4-9-4-5 4zM2876 5698l10-4-10-4-5 4zM2850 5684l8-3-8-4-5 4zM2823 5670l7-3-7-2-3 2zM2797 5656l3-2zM10834 5378l53-5 80-26 106-49 106-59 106-67 105-75 81-66 85-80 74-80 73-92 64-93 63-106 54-106 38-93 14-66-3-27-8-13-30-11-66 15-106 48-119 68-144 92-128 93-114 93-92 86-90 99-72 93-69 106-57 106-36 93-12 67 4 26 8 13 19 13zM3672 5270l159 7 133-13 53-12 40-16 33-20 27-26 16-27 9-39-1-40-12-53-22-53-30-53-34-46-42-47-77-64-93-52-106-38-133-27-159-13-146 8-53 9-53 15-33 16-33 26-19 27-10 40 1 40 14 53 24 53 31 53 39 53 53 60 79 66 93 52 119 39zM10277 5015l40-10 53-28 159-106 173-135 146-135 145-162 146-191 94-146 21-53-5-13-30 7-53 32-158 120-200 173-167 159-161 172-130 159-70 106-13 40zM6471 4979l106 10 106-1 79-12 34-12 23-13 12-13 11-27-2-26-8-27-38-66-57-66-75-67-79-53-99-48-96-31-103-19-106-1-80 17-46 29-18 27-7 26 0 27 7 40 16 39 23 40 53 67 65 55 89 51 84 30zM10038 4859l40-15 40-23 133-99 150-129 155-148 159-170 133-159 95-133 17-40-2-13-18-2-13 4-48 24-182 120-209 159-147 133-129 145-121 173-45 79-23 54-3 26 5 12zM940 4727l3-1-3-2zM913 4716l9-4-9-4-6 4zM9508 4530l53 1 53-10 66-22 93-42 88-50 79-53 72-56 68-63 65-71 56-75 51-80 49-92 32-80 15-66-3-53-15-25-13-9-27-9-66 2-93 23-119 43-154 67-126 67-91 60-68 59-55 66-44 80-33 93-19 93-2 79 6 40 9 27 17 26 16 13zM4707 4276l199 7 199-14 79-14 66-19 40-18 40-29 23-34 11-39-1-54-13-53-27-66-36-66-45-67-45-53-52-53-54-44-53-37-66-38-133-54-146-36-92-14-107-7-92-1-93 5-80 12-66 17-53 23-40 28-30 40-13 40-3 53 10 66 27 80 36 74 44 72 52 66 49 51 52 42 55 35 53 27 66 25 67 19 79 16zM1523 4235l226 9 93-4 66-9 53-13 53-22 35-27 18-28 12-39-1-53-17-66-33-80-51-93-54-79-55-66-66-64-99-69-113-50-146-37-173-25-225-12-199 7-66 10-54 14-52 26-27 24-20 43 1 53 19 66 32 67 61 96 79 107 80 92 66 64 80 56 53 25 53 19 159 33zM2386 3254l145 9 146 2 146-5 133-12 106-18 80-22 53-24 48-37 28-39 15-54-1-66-13-66-28-80-43-93-55-92-59-80-59-66-57-53-68-51-67-39-66-31-79-30-93-25-93-18-133-17-132-8-146-2-133 7-115 15-84 19-66 24-53 33-38 43-20 53-4 66 14 80 37 106 50 106 63 106 67 93 56 63 53 48 53 38 67 36 66 27 80 23 92 18zM12054 3241l54-23 92-59 266-194 233-189 191-177 186-204 214-269 118-159 92-133 29-53 4-13-3-13-30 9-66 44-231 185-301 266-263 252-226 238-227 266-118 159-25 53zM11802 3082l14 0 26-11 53-33 186-144 239-207 241-229 229-239 233-265 159-199 52-80 6-26-5-4-27 8-66 39-289 209-305 238-123 106-92 87-161 179-191 252-100 146-56 92-25 53-3 14zM11298 2749l67-11 93-35 119-60 119-69 133-87 119-87 107-88 92-88 89-98 84-106 92-133 81-132 63-120 46-106 12-40 5-39-3-27-7-13-20-13-17-4-40 3-40 9-119 45-173 82-246 130-191 111-130 88-105 93-77 92-78 133-71 159-59 173-23 106-3 40 4 39 11 25 14 15 26 11zM12572 2512l0-3zM12585 2499l0-3zM12598 2486l0-3zM12612 2473l0-4zM12625 2459l0-3zM12638 2446l0-3zM12651 2433l0-3z" stroke="#deff19"/><path d="M675 14063l146-186 121-172 68-119 15-40 3-27-9-14-26-2-80 30-132 76-186 123M1101 14063l183-212 84-106-4-5-26 18-106 99-6-6 112-120 0-14-146 120-258 226M1692 14063l25-66 6-40-3-13-11-13-13-3-40 7-53 23-66 38-103 67M7429 14063l-262-146-192-86-186-61-358-89-66-22-67-29-66-40-66-55-67-72-173-209-67-66-65-51-79-46-93-36-93-18-93-6-79 3-80 11-80 18-79 26-67 30-49 29-51 40-37 39-35 53-24 54-18 66-8 66 1 66 10 67 22 66 30 55 46 51 56 40 71 31 79 20 80 12 93 7 437 11 93 11 80 17 66 24 53 27 53 35 65 57M13253 14063l-71-67-80-57-92-48-93-35-107-28-132-21-146-13-172-5-173 5-146 14-119 21-93 28-66 35-31 25-22 27-24 53-8 66M13845 12578l-159-10-159 1-120 10-106 21-75 31-51 39-19 27-12 26-10 67 6 53 14 53 51 119 38 67 45 65 93 105 93 76 106 61 119 45 146 35M595 11208l106-98 93-103 86-114 76-119 76-146 73-173 49-146 12-53 6-53-7-40-13-17-13-7-40-4-40 7-79 26-120 50-265 133M13845 8869l-305 196-83 64-68 66-50 67-40 79-22 80-7 93 11 106 25 93 35 61 40 27 66 12 106-3 146-17 146-27M595 8494l133-147 225-277 106-121 114-120 271-263 119-135 67-92 47-80 44-93 70-172 24-45 27-35 44-40 68-39 325-136 74-37 64-40 49-39 44-54 24-53 8-53-3-39-11-40-36-67-27-29-40-31-79-37-106-21-67-3-66 3-119 23-45 16-48 24-39 29-26 26-28 40-20 40-27 93-27 186-14 66-27 66-30 40-41 35-50 31-348 169-106 61-93 62-92 73-93 86-239 263M13845 5797l-100 83-86 79-87 93-75 93-124 186-226 397-58 86-59 74-62 66-71 66-383 305-101 90-83 83-103 119-177 239-88 106-92 93-224 199-74 79-35 47-26 46-19 53-5 40 10 46 27 31 40 17 53 4 66-10 69-22 77-37 66-45 58-50 51-53 177-226 97-106 105-93 308-247 163-151 121-132 220-268 112-117 92-80 101-75 345-229M595 4966l225 25 133 5 51-5 29-11 15-16 2-13-10-26-30-40-106-93-163-111-146-81M595 4560l16-7-16-7M595 4498l119 61 120 51 135 49 132 40 117 25 67 3 38-15 7-13 1-13-7-27-22-39-75-93-101-100-107-84-79-48-93-44-106-36-146-39M13845 3525l-87 153-75 159-51 146-16 93 5 40 12 22 13 11 27 9 66-4 106-33M13845 2186l-212 137-220 161-178 149-158 156-145 173-137 199-54 92-40 80-25 66-10 53 4 27 8 12 26 11 40-3 66-20 80-36 106-56 120-71 119-78 186-139 154-137 137-148 133-174M595 1794l24-53 7-66-7-66-24-89M3020 813l1 80 23 92 48 120 63 119 71 106 77 93 85 80 85 62 80 45 93 40 106 34 119 26 133 20 146 14 172 9 186 3 278-7 93-8 74-13 45-17 27-23 10-26-1-40-31-93-68-132-83-133-99-133-86-96-96-89-90-69-105-64M8362 813l314 292 85 66 85 53 105 49 106 32 119 20 133 7 172-10 188-32 157-45 53-23 53-32 37-32 21-27 21-39 14-40 17-106-2-133M1165 13919l0-4zM1179 13907l0-6 3 3zM1192 13894l-4-3 4-4 4 4zM1205 13882l-4-5 4-4 5 4zM1218 13870l-5-6 5-5 6 5zM10224 13534l106 9 106 1 93-6 93-13 68-19 58-27 36-26 32-40 19-53 3-53-10-66-20-67-37-79-39-67-48-66-62-68-53-46-53-38-58-34-61-28-67-25-79-21-160-27-106-9-119-2-106 3-106 10-80 14-67 19-57 27-34 26-28 40-12 53 4 53 19 66 29 67 48 79 61 80 63 66 61 53 59 43 66 40 80 39 80 31 92 27 93 20zM3659 13256l66 6 80-9 106-25 132-45 121-48 118-59 93-58 68-56 47-53 41-66 32-80 19-79 8-80-5-80-19-66-32-47-23-19-30-15-66-12-80 7-93 24-106 43-109 59-103 70-88 76-73 79-67 93-57 106-41 106-18 93 7 67 22 39 23 18zM2744 12885l26 8 53-13 80-35 119-67 127-81 111-80 94-75 77-71 63-66 65-79 56-80 47-80 39-79 29-80 7-53-10-26-28-11-53 11-54 23-79 46-93 63-93 70-176 156-89 91-80 91-77 96-66 93-51 80-34 66-17 53 0 13zM2386 12727l119-96 241-213 155-146 131-132 169-186 155-186 18-26-7-8-93 81-6-7 82-93-10-2-39 28-213 180-179 166-165 165-186 203-186 217-29 38 3 6 13-6 119-112 7 6-87 93-18 26zM2492 12597l-6-6 6-6 6 6zM1948 12579l40-5 53-23 88-53 97-67 222-172 190-172 159-173 75-92 67-93 50-80 34-66 15-53-6-27-23-9-53 11-80 36-106 62-106 71-110 81-102 86-93 87-88 92-78 93-79 106-72 107-55 92-39 80-14 53 1 13zM2505 12583l-5-5 5-5 5 5zM2518 12569l-4-5 4-4 4 4zM2531 12555l-3-4 3-3 4 3zM2545 12541l0-6zM2558 12526l0-3zM8288 12367l93 6 80-8 39-12 26-14 17-13 19-27 8-27-1-39-22-67-53-79-69-67-77-53-83-39-83-29-107-22-119-11-106 4-79 18-40 26-13 27-2 26 6 27 18 40 60 79 85 80 96 66 94 48 107 38zM1046 12247l66-9 93-34 128-64 137-80 123-79 129-93 106-88 93-87 84-90 84-107 70-106 58-106 47-106 23-79 4-67-9-26-11-14-18-10-27-5-39 2-40 9-120 43-132 66-133 77-132 90-120 95-104 98-96 106-91 119-84 133-69 132-49 120-14 53-6 40 2 26 7 19 13 14zM11590 12140l146-6 120-23 39-15 41-22 30-27 25-40 10-40-2-53-12-53-21-53-31-57-40-59-48-56-45-42-92-65-106-48-120-32-146-19-159-1-133 18-92 30-43 26-29 27-24 40-10 39 0 53 12 53 27 67 40 66 43 53 53 53 51 40 64 40 124 53 76 21 80 16zM3208 11877l0-5zM3221 11864l-3-3 3-3 4 3zM3234 11852l-3-4 3-4 5 4zM3248 11840l-5-5 5-5 5 5zM3261 11827l-6-5 6-7 6 7zM3380 11732l0-6-4 3zM12492 11225l120 0 79-13 32-14 17-13 10-13 8-27-3-26-9-27-50-80-84-90-93-75-93-58-93-42-119-40-120-26-119-13-93 1-66 16-27 15-18 21-10 26 1 40 12 40 26 53 36 53 46 53 93 81 106 62 119 45 146 34zM5807 11119l40-1 49-13 44-23 27-23 20-33 5-27-4-26-21-32-40-20-53-2-53 18-53 39-18 23-12 27-4 40 13 26 16 13zM9428 10948l80 5 66-7 53-17 40-29 20-33 6-27-2-26-12-40-34-53-41-40-56-37-67-27-66-15-66-6-72 5-52 14-49 26-31 40-8 40 13 53 26 42 52 51 54 34 67 28zM13049 10815l30-1-30-29-22-11 9-8 66 18 2-10-12-14-83-69-132-98-93-61-80-45-79-37-106-40-252-75-67-10-6 11 33 23 3 4-3 4-13 3-14-8-26-4-15 5 51 53 110 85 119 80 93 52 93 43 132 51 183 60zM4853 10781l13 5 26-2 67-26 79-50 67-56 56-64 40-66 9-27 3-26-3-14-12-13-14-3-26 2-53 22-67 44-66 58-58 63-47 66-22 53-1 13zM13009 10765l-4-5 4-4 13 4zM4481 10631l4-3-4-7-4 7zM4441 10618l11-3-11-2zM4494 10621l116-99 122-120 107-119 19-27-5-6-27 19-66 63-186 186-80 83-9 14zM4455 10613l231-224 140-146 7-13-7-2-53 41-159 149-133 143-31 40zM4043 10486l27-2 27-10 79-44 93-69 87-78 74-80 58-79 32-67 3-26-5-13-10-8-27-1-40 12-39 20-105 70-91 79-84 93-63 93-20 40-12 39 3 21zM13129 10456l132 11 53-1 54-8 39-13 28-16 24-27 11-26 4-40-3-40-35-119-82-190-26-45-27-31-26-18-21-8-72-10-146 3-172 13-120 16-93 23-66 29-35 32-14 27-4 26 5 40 16 40 55 79 83 81 93 64 93 43 119 38zM12240 10380l-7-4 7-6 10 6zM4866 10245l0-3zM3128 10165l40-2 53-15 58-24 75-40 132-89 111-97 90-106 35-53 27-53 20-53 8-40-3-40-16-26-33-15-40 0-63 15-64 26-72 39-79 53-67 52-59 55-60 67-53 70-46 76-29 66-14 53 0 40 13 26 23 13zM10264 10059l66 8 53-2 40-10 27-17 12-20-4-40-22-38-26-28-50-40-47-27-62-25-53-14-53-6-54 1-39 11-27 19-12 28 1 26 19 40 34 40 33 26 45 27 64 26zM1537 9743l39 8 80-19 106-42 133-67 122-70 121-79 104-80 89-79 75-80 63-79 61-93 50-93 45-106 27-93 7-66-11-40-16-13-21-6-66 7-93 34-120 58-119 68-119 78-106 80-106 95-86 90-75 92-62 93-60 106-48 106-29 93-6 40 1 27 6 17zM10781 9673l7 0-5-13-28-17-14-15-13-1-9-7 9-8 53 22 27 5 10-6-63-53-93-56-112-50-87-27-27-3-10 3 12 14 65 40-14 5-13-13-13 2-13-9-39-12-16 0 6 13 47 40 112 66 123 53zM10702 9612l-7-5 7-6 14 6zM10675 9597l-5-4 5-4 11 4zM10649 9583l-4-3 4-3 7 3zM10622 9569l0-5 6 3zM10596 9556l0-5 5 2zM10569 9543l-3-3 3-3 6 3zM10542 9530l-4-3 4-4 8 4zM10516 9518l-7-4 7-6 10 6zM10993 9315l67 3 53-10 40-19 24-27 13-40-1-40-19-53-29-40-28-23-40-20-40-10-53-5-63 5-54 13-42 19-30 21-20 27-7 40 14 39 19 27 37 33 53 30 53 19zM10741 7048l14 6 26 2 67-19 75-43 67-53 62-67 45-66 20-53 1-27-5-14-14-12-26-5-27 4-39 13-80 42-79 62-66 70-41 66-15 53 4 26zM2863 6013l93 7 66-3 40-10 16-8 10-13 1-27-14-26-36-40-47-40-80-53-72-40-86-40-107-39-97-27-72-10-53 5-21 18-4 14 5 26 36 66 64 76 66 58 67 41 66 29 79 22zM11909 5909l53 5 79-17 106-39 120-58 119-69 106-72 106-84 87-80 84-93 68-87 64-99 58-106 45-106 27-93 4-66-9-26-11-14-19-10-26-5-80 13-106 39-119 57-141 79-125 81-121 91-103 93-85 93-70 93-65 106-51 106-35 106-10 80 3 26 10 27 10 13zM3301 5747l39-5 18-8 9-13 1-27-11-27-38-53-45-45-59-48-63-39-64-32-66-26-79-25-80-18-66-10-67-4-53 8-17 14-3 13 9 27 46 53 84 66 107 66 108 53 104 41 93 26zM10940 5256l40 3 66-17 67-27 79-42 81-49 92-66 79-65 73-68 62-67 65-79 56-80 49-83 37-76 24-66 5-53-13-26-26-10-53 8-69 28-104 55-100 64-98 72-91 74-85 79-74 80-63 80-54 79-43 80-26 66-9 53 7 32 13 15zM3672 5204l106 5 93-10 71-22 23-14 29-26 16-27 7-26 2-27-7-40-16-39-22-40-56-66-65-53-75-43-93-35-106-24-106-9-106 4-80 19-26 12-32 22-20 27-9 27-2 26 7 40 15 40 23 39 66 80 71 58 88 48 98 34zM10383 4908l27-5 40-19 119-78 133-106 128-120 121-133 113-146 45-66 29-53 7-27-6-9-13 0-40 19-131 96-139 120-153 146-136 146-97 119-50 80-7 26zM10131 4756l27-4 26-13 93-65 120-100 132-125 128-134 113-133 66-93 13-27 2-26-17-2-40 17-119 76-157 121-131 120-110 119-89 119-33 53-26 53-7 27 4 13zM807 4661l3-2zM781 4649l6-3-6-3-4 3zM754 4637l10-4-10-5-6 5zM728 4624l12-4-12-6-7 6zM701 4612l14-6-14-6-8 6zM675 4599l14-6-14-7-9 7zM648 4586l16-6-16-8-9 8zM622 4573l15-6-15-8-9 8zM9574 4422l40 10 40-2 53-12 61-24 71-37 66-42 113-93 100-110 44-63 39-66 29-66 13-53 0-40-12-27-17-13-16-6-40-3-67 11-79 26-93 41-91 50-79 53-64 53-50 53-47 67-28 53-23 66-10 53 2 53 15 40zM1576 4196l173 1 66-8 53-12 53-21 27-19 26-31 13-30 4-40-7-53-17-53-32-66-40-64-43-56-50-54-60-52-99-65-120-51-132-35-159-24-186-10-146 8-53 10-53 16-36 18-29 27-18 40-3 40 12 53 30 66 50 79 60 77 67 70 66 58 106 68 66 30 67 24 159 37zM4786 4195l133-6 119-25 76-35 31-27 20-26 11-27 6-40-3-39-10-40-24-53-25-40-68-80-82-66-95-53-115-43-120-25-132-11-133 10-93 26-34 17-35 26-29 40-14 40-3 39 8 53 18 54 27 53 36 53 48 53 46 39 52 36 106 49 66 21 66 14zM8672 3865l53 6 67-2 53-8 66-17 53-22 53-28 49-37 40-39 31-41 27-52 17-53 7-53-3-53-11-40-21-40-30-32-54-34-78-23-93-9-106 4-133 17-119 28-88 36-52 40-18 26-10 27-4 66 20 80 38 79 50 66 62 53 68 36zM2439 3201l119 8 119 0 120-8 93-12 79-18 68-24 49-26 42-37 28-43 14-53 0-53-12-66-23-67-39-79-41-66-53-67-51-53-61-52-59-41-61-34-71-32-75-26-79-21-93-18-106-14-120-6-106 0-106 7-93 14-79 22-53 22-50 33-34 40-21 53-5 66 10 67 26 79 44 93 50 80 59 77 53 55 53 44 67 44 66 34 66 26 80 22 93 19zM7611 3187l93 6 80-9 59-23 20-18 15-22 7-27 1-26-8-40-14-40-48-79-59-67-80-66-109-66-113-53-268-111-146-77-133-90-279-213-162-106-129-68-146-58-157-47-161-32-186-21-172-3-67 6-45 11-27 13-20 22-7 18-1 26 8 40 14 40 62 119 79 119 76 93 78 80 88 73 93 59 133 65 146 49 146 37 371 77 172 50 160 70 271 156 113 58 131 49zM12134 3149l27-2 53-27 92-61 133-96 232-187 193-178 180-193 194-239 89-120 82-119 29-53 4-13-2-13-19 1-67 40-199 158-241 212-236 225-216 226-195 225-108 146-22 40-5 13zM11882 2991l13 7 53-23 146-107 199-170 229-214 209-215 211-236 160-199 42-66 10-27-12-8-53 23-80 52-145 106-286 225-205 186-161 172-157 199-134 199-34 67zM11365 2671l53-5 79-26 107-50 106-61 119-78 106-79 93-78 93-88 86-93 85-106 81-116 67-110 56-106 35-93 8-53-4-26-8-14-22-13-26-3-66 11-120 45-146 70-186 103-148 92-117 86-97 87-82 93-72 106-63 119-54 133-28 106-4 80 6 26 20 27 16 9zM10450 2100l92-5 107-21 106-32 120-49 105-53 106-65 86-67 66-67 63-79 56-93 49-106 38-119 20-107 1-79-14-66-13-27-22-27-25-18-39-17-40-9-53-3-120 9-159 32-260 73-244 83-138 63-48 31-38 35-30 40-20 40-18 59-12 73-6 93 1 93 8 79 15 80 34 93 25 40 28 31 40 28 40 18 40 10z" stroke="#ffe600"/><path d="M654 14063l125-159 92-133 60-106 15-40 1-26-7-12-13-4-27 3-40 14-119 64-146 95M1090 14063l115-133 84-106-4-5-27 18-93 87-6-7 99-106 5-13-5-2-132 109-181 158M1646 14063l4-27-7-26-27-8-26 4-40 16-76 41M7169 14063l-141-68-133-49-133-30-119-11-53 3-53 8-39 14-22 14-23 26-10 27-2 26 6 40M13156 14063l-67-52-66-41-80-38-93-32-106-26-106-17-119-10-120-4-132 4-120 12-98 18-87 27-57 26-54 40-32 40-21 53M13845 12623l-133-10-132 0-120 12-92 22-76 37-42 39-25 53-5 54 4 39 13 53 40 93 69 106 84 93 83 68 93 55 106 45 133 37M595 11145l80-79 81-93 68-93 57-93 55-106 42-106 26-93 7-66-5-44-20-36-33-19-40-5-66 9-66 19-93 35-93 43M13845 8974l-220 129-73 53-58 53-47 55-38 64-22 66-7 67 9 66 28 66 43 51 45 29 61 22 80 11 93-2 106-15M595 8370l93-116 178-239 98-119 108-115 238-230 94-106 47-67 35-66 19-53 6-53-9-40-18-23-34-17-46-4-53 6-66 19-67 27-66 35-106 70-100 86-351 376M13845 5874l-96 85-90 93-85 106-71 106-66 120-58 132-40 120-11 53-2 39 10 40 18 17 40 6 53-10 80-28 93-42 225-123M595 4922l159 26 133 8 40-4 26-9 13-11 6-21-11-26-21-27-90-79-117-80-138-77M595 4476l106 55 107 49 132 50 106 32 93 20 66 4 38-13 7-14 0-13-8-26-15-27-54-66-87-83-93-69-80-48-93-45-106-40-119-34M13845 3610l-53 108-37 92-22 80-7 66 7 40 19 29 40 17 53-1M13845 2226l-172 101-204 144-179 146-152 146-140 159-124 172-48 80-40 79-24 67-7 40 5 26 8 13 16 9 40 2 66-18 80-34 92-49 107-65 103-70 170-133 151-142 131-150 121-166M3208 813l-34 53-13 66 7 80 23 80 48 106 59 92 69 84 80 76 72 53 87 49 93 39 92 30 107 24 119 18 119 10 133 3 119-3 120-12 93-17 79-26 53-31 30-31 23-52 3-54-17-80-40-93-66-106-76-93-80-79-95-74-95-59-111-53M8541 813l117 133 79 79 78 67 83 55 93 45 92 30 107 20 106 6 132-7 120-22 119-39 93-49 66-54 32-39 24-39 18-40 15-53 11-93M1086 13999l0-4zM1099 13986l0-6 3 3zM1112 13974l-3-4 3-4 4 4zM1126 13961l-5-4 5-5 4 5zM1139 13949l-5-5 5-6 5 6zM1152 13937l-6-7 6-6 7 6zM5237 13772l80 8 93 2 199-17 92-16 67-18 65-26 39-27 23-26 16-40 4-40-5-40-14-53-29-66-31-53-39-53-69-68-80-53-93-36-92-16-106 2-107 21-92 37-80 51-37 35-29 37-25 43-16 40-12 52-4 41 4 53 10 40 34 66 23 26 39 33 79 39zM10224 13454l80 6 79-1 67-6 66-13 53-17 40-20 39-30 22-26 19-40 8-40-2-53-12-53-22-53-29-53-38-53-48-53-46-40-50-36-107-55-119-39-133-23-159-7-146 14-106 30-47 23-33 27-30 40-13 39-3 40 9 53 19 53 29 53 39 53 48 53 102 82 62 38 70 34 136 45zM3738 13163l53 9 67-5 79-18 83-28 94-39 89-48 69-45 64-53 50-53 37-53 28-54 24-66 11-66-1-53-13-53-24-40-35-27-51-15-67 1-79 18-80 31-85 45-79 53-79 66-63 67-61 79-46 80-32 79-14 67 2 53 20 42 13 12zM2836 12792l27 8 40-8 66-29 72-40 177-119 83-66 73-67 111-119 93-133 36-66 21-53 11-53-7-27-20-12-40 4-53 21-53 29-146 103-153 134-150 159-121 159-41 67-24 53-8 39zM2478 12634l120-98 161-144 153-146 129-133 133-146 98-119 9-13-7-8-106 94-7-7 96-106-9-2-40 29-173 149-159 150-159 162-160 175-110 133 5 13 132-125 7 6-100 106-17 27zM2439 12622l11-5-11-2zM2598 12491l-6-6 6-6 6 6zM2041 12476l26 4 40-13 66-35 80-52 176-134 176-159 139-148 121-157 41-67 26-53 10-39-1-14-8-13-30-5-40 10-66 31-80 46-172 125-156 138-145 159-124 169-49 83-31 66-7 40zM2611 12477l-5-6 5-5 5 5zM2624 12463l-4-5 4-4 5 4zM2638 12449l-4-4 4-4 4 4zM2651 12435l-3-3 3-4 3 4zM2664 12421l0-5zM2677 12408l0-5zM2691 12394l0-4zM1139 12132l26 5 27-1 66-18 93-39 106-57 108-68 112-79 99-80 92-85 80-84 67-83 64-93 52-93 38-93 15-66 1-26-6-27-19-26-40-13-66 7-93 31-93 44-111 63-114 78-103 81-86 80-86 93-74 93-71 106-58 106-39 93-18 79 4 45 14 19zM11444 12061l133 11 119-8 93-25 36-19 31-24 20-29 11-26 5-27-2-39-10-40-16-40-31-53-31-40-69-66-90-59-106-44-106-26-133-12-119 8-53 10-49 17-31 15-34 25-22 26-14 27-9 39 2 40 10 40 16 40 54 79 77 72 93 58 106 42zM3062 12022l0-3zM3075 12009l0-4zM3088 11997l0-6zM3102 11984l-3-3 3-4 3 4zM3115 11971l-4-4 4-4 4 4zM3128 11959l-4-5 4-5 5 5zM3142 11946l-6-5 6-6 5 6zM3155 11934l-6-6 6-7 6 7zM3287 11825l0-6-4 3zM12466 11172l79-1 65-13 26-13 14-13 11-27-2-26-9-27-34-53-63-66-67-53-85-53-81-39-80-29-101-25-85-12-79-1-62 13-24 13-14 13-13 27-1 27 6 26 18 40 26 40 34 39 83 71 93 55 106 42 119 30zM12930 10762l40 8 13-10-27-16-13-15-13-1-8-7 8-7 66 22 19-2-10-13-46-40-82-59-159-97-173-79-185-62-54-12-24 4 12 13 41 27-15 7-14-10-13-1-24-10-18 0 6 14 12 13 66 53 98 66 99 57 186 85 120 44zM12903 10711l-4-4 4-4 12 4zM12877 10696l4-2zM12373 10444l0-4 4 2zM12346 10433l-7-4 7-6 10 6zM13182 10416l79-1 67-18 26-17 14-15 15-42 1-27-7-40-36-87-53-78-66-62-67-36-66-21-80-13-92-4-107 7-77 16-55 22-37 31-14 26-3 27 15 53 46 66 41 40 45 35 93 55 92 38 118 31zM3314 9942l13 7 13 1 40-12 40-22 41-31 41-40 29-40 17-39-2-27-20-12-40 8-39 19-52 38-39 40-29 40-18 40-1 13zM1789 9507l39 6 40-7 53-17 64-28 130-80 112-93 95-106 36-53 29-53 20-53 7-40-2-35-13-26-27-16-40-3-53 11-53 20-66 34-66 42-67 49-66 58-53 54-53 64-40 59-32 61-20 53-6 53 8 26zM12532 7594l26-1 27-12 66-48 56-62 15-26 4-27-8-6-14 0-26 9-40 24-48 39-55 67-10 26zM2041 6636l79-4 93-23 86-40 60-46 34-47 13-53-10-53-15-26-22-26-40-30-53-23-53-12-53-4-53 3-56 12-50 21-44 32-32 40-23 53-7 66 8 53 18 43 27 31 40 22zM2850 5947l79 2 14-3 21-13 5-14-11-26-55-53-86-53-126-54-107-25-39 3-17 9-6 14 2 13 21 40 38 40 41 33 53 32 53 24 53 17zM12054 5763l40 5 67-11 70-23 85-40 83-48 80-54 73-57 73-67 66-70 60-75 53-80 43-80 27-66 15-66-3-53-17-27-32-15-27-2-39 5-80 25-90 40-96 53-100 67-86 66-87 79-61 67-61 79-49 80-36 80-21 79 0 53 10 27 11 13zM3195 5681l26-4 16-10 4-13-8-26-20-27-43-40-82-52-91-41-95-26-79-7-30 7-10 12 1 14 7 14 23 26 48 40 63 40 79 40 67 26 71 20zM11046 5127l27 9 27-1 42-11 64-28 119-74 119-98 100-105 86-120 29-53 22-53 7-40-5-26-15-14-38-2-53 16-53 25-66 40-79 54-125 106-101 108-40 52-42 66-26 53-12 40 0 34zM3606 5111l66 9 66 0 53-10 50-26 20-27 8-40-10-39-35-53-44-40-55-35-66-28-62-17-71-9-66 2-53 11-41 23-20 26-6 40 11 40 37 53 43 40 55 35 53 25zM10503 4791l53-23 79-55 82-67 91-86 80-86 75-93 45-66 12-27 0-19-27 3-79 53-113 96-111 106-99 106-64 79-31 53-4 14zM10251 4638l39-15 80-56 159-146 88-93 71-87 39-59 4-13-1-14-15 0-27 11-66 43-101 79-100 93-85 93-60 79-24 40-10 27 1 13zM9694 4302l26 7 27-2 66-20 80-45 79-65 68-75 51-79 16-40 5-27-3-26-7-13-19-14-31-3-40 6-40 13-53 23-53 31-93 73-60 70-24 39-17 40-9 40 1 26 12 27zM1484 4142l146 9 119-10 79-26 38-26 20-27 11-26 4-40-6-40-18-53-28-53-36-53-46-53-45-42-92-67-107-53-119-40-133-26-159-14-132 5-67 12-39 13-27 13-32 27-15 26-7 40 5 40 20 53 30 53 38 53 47 53 57 53 96 70 119 60 133 43zM4654 4077l92 8 80-6 66-18 53-30 30-35 10-26 3-27-12-53-30-53-51-53-57-40-78-37-80-24-93-13-79 3-67 14-53 27-19 17-19 26-11 40 6 53 32 67 51 57 66 47 80 35zM8752 3706l53 3 53-10 53-25 40-34 28-42 11-40-5-39-21-32-30-21-36-13-40-4-40 1-79 20-40 22-27 22-22 31-8 27-1 26 6 27 14 26 27 27 24 15zM2505 3147l93 3 93-4 79-8 80-17 53-16 53-25 40-27 34-38 20-40 8-40 0-53-11-53-25-66-28-53-38-56-53-60-47-44-59-44-58-35-62-31-141-49-150-29-93-9-93-2-159 12-70 15-63 22-40 20-40 31-26 33-21 53-4 53 10 67 23 66 33 66 44 67 56 66 57 53 54 39 66 39 63 28 70 24 79 20 80 13zM12227 3068l40-15 66-39 172-126 186-153 173-162 168-182 163-199 132-185 28-53-1-20-13-1-40 20-159 120-243 212-235 226-200 212-157 186-82 119-10 26zM11975 2917l26-8 40-24 146-110 186-163 189-181 182-190 172-195 123-159 24-39 6-27-7-4-13 1-53 27-191 135-230 186-189 174-169 184-145 186-62 92-37 67-11 40zM11431 2593l53-3 66-20 80-35 93-52 93-60 96-71 96-80 84-80 86-92 75-93 67-93 65-106 41-80 28-79 5-53-11-27-21-13-14-3-67 7-93 32-120 57-143 79-124 80-117 87-94 85-78 86-66 91-60 102-47 106-26 93-5 66 5 26 13 23 14 11zM6338 2578l133 7 98-8 61-17 26-17 15-19 7-27-3-26-14-40-23-40-77-93-88-79-95-68-120-64-106-42-119-31-119-16-107 4-67 18-25 13-29 27-14 26-5 40 6 40 14 40 29 53 29 39 48 54 45 39 102 69 119 55 133 39zM10463 2021l79 5 80-9 93-23 106-38 93-44 93-55 85-63 74-68 66-77 53-80 47-93 34-93 19-93 0-79-14-53-14-27-19-21-26-19-30-13-37-8-53-5-119 10-146 33-172 54-159 67-120 67-46 34-43 40-59 80-40 92-14 54-9 66-2 66 4 53 23 93 18 40 22 32 27 27 29 20 37 17z" stroke="#ffb900"/><path d="M633 14063l93-119 83-120 50-93 9-26 2-27-7-13-16-5-53 13-93 47-106 66M1016 14063l3-3 4 3M1080 14063l131-159-6-8-13 9-106 99-7-7 100-106 9-14-9-2-223 188M13047 14063l-117-67-66-27-82-25-78-18-92-15-186-10-173 10-79 13-74 20-66 26-45 27-31 26-31 40M13845 12670l-119-10-106 1-93 10-80 19-66 32-40 35-26 46-8 53 3 40 9 40 34 79 52 80 72 79 81 67 88 53 93 40 106 34M595 11073l66-73 53-66 86-134 33-66 25-66 18-67 4-53-6-40-13-26-27-23-27-8-40-3-53 7-119 39M13845 9095l-74 34-70 40-57 40-45 39-35 40-25 40-17 40-9 53 7 53 18 40 28 33 40 27 49 19 57 10 67 1 66-9M13845 5969l-118 123-51 66-43 66-36 67-28 66-15 53-7 53 6 40 13 25 21 15 33 8 39-1 53-12 67-23 66-31M595 4882l119 23 106 7 27-3 29-11 11-13 0-13-22-40-73-67-98-66-99-56M595 4454l85 46 114 53 102 40 84 27 79 18 67 4 28-9 9-13 1-14-18-39-43-54-74-66-76-54-79-47-93-43-93-35-93-28M13845 3742l-14 55-5 53 6 40 13 23M13845 2278l-53 20-80 41-163 105-189 146-159 146-134 146-119 159-48 80-33 66-18 53-5 40 8 26 25 15 40 0 66-20 79-37 80-45 93-59 93-67 156-131 131-133 124-152 106-161M3478 813l-71 28-54 38-23 27-15 26-10 27-7 40 7 79 26 80 43 79 60 80 66 66 70 53 76 46 92 41 93 29 106 23 106 14 120 5 119-5 106-15 80-23 66-33 47-42 22-40 10-53-7-66-30-80-48-79-66-80-89-79-98-67-99-49-106-40-113-30M8722 813l56 80 57 66 63 57 69 49 77 39 79 27 80 16 93 7 106-7 93-20 92-35 67-38 63-55 39-53 30-67 14-66M1033 14054l-4-4 4-4 4 4zM1046 14041l-4-5 4-4 5 4zM1059 14029l-5-6 5-5 6 5zM1072 14016l-5-6 5-6 7 6zM1218 13894l0-6-4 3zM5317 13640l93 1 79-14 72-28 53-40 20-27 11-26 4-53-11-40-13-26-46-53-50-33-53-19-53-9-53 1-53 9-63 24-43 28-39 38-25 40-14 53 1 40 14 40 23 30 40 31 40 18zM10158 13348l106 9 106-9 80-26 26-16 27-24 19-28 10-27 4-26-3-40-23-66-46-67-55-53-82-53-90-37-92-23-107-10-106 7-88 24-58 34-18 19-17 26-9 27-2 39 19 67 43 66 70 66 83 53 97 41zM3844 13057l40 7 40-3 53-12 60-21 113-58 49-34 46-40 67-80 38-79 10-40 1-40-10-40-16-24-26-19-40-11-40 1-53 11-53 20-66 35-53 36-54 44-51 53-41 53-32 53-22 53-11 53 6 40 18 27zM2943 12690l13 6 40-7 92-45 133-92 122-107 90-100 69-99 26-53 12-40-1-26-10-14-16-3-27 3-39 17-53 30-107 78-112 101-100 106-90 119-43 80-6 26zM2584 12528l5-4-5-7-4 7zM2545 12516l11-5-11-2zM2598 12517l101-85 129-120 234-238 103-120 10-13-7-8-159 147-6-6 150-160-11-3-38 30-135 119-146 142-132 138-137 158 4 12 186-177 6 6-152 159-9 13zM2147 12371l13 5 40-10 93-52 142-108 133-119 114-120 94-119 53-93 8-26-3-27-11-7-13-2-27 5-92 45-133 93-135 118-123 133-100 132-38 67-17 40-5 26zM2757 12332l-6-6 6-6 6 6zM2770 12318l-5-6 5-5 6 5zM2783 12305l-5-6 5-5 6 5zM2797 12291l-5-5 5-5 5 5zM2810 12278l-5-6 5-4 5 4zM2823 12264l-5-5 5-4 5 4zM2836 12251l-4-5 4-5 5 5zM2850 12238l-5-5 5-5 5 5zM2863 12224l-4-5 4-4 5 4zM2876 12211l-4-5 4-4 5 4zM2890 12198l-5-5 5-5 4 5zM2903 12184l-5-4 5-5 5 5zM2916 12171l-5-5 5-4 5 4zM2929 12158l-4-5 4-5 5 5zM2943 12145l-5-5 5-5 5 5zM2956 12132l-5-5 5-6 5 6zM2969 12119l-5-6 5-5 6 5zM2982 12106l-5-6 5-6 7 6zM2996 12093l-6-6 6-6 6 6zM1258 12024l40 1 53-12 77-32 74-40 88-56 88-63 80-67 71-66 62-66 57-71 52-75 36-67 27-66 11-53-5-40-15-21-13-8-27-6-53 5-66 21-78 36-81 47-87 59-83 66-72 66-74 80-64 80-53 79-44 80-27 68-12 64 11 40zM11458 11981l92 7 78-7 68-24 39-29 21-40 4-27-3-26-20-53-37-53-57-52-66-40-80-32-79-19-80-7-79 5-67 19-52 33-26 40-6 26 1 27 17 53 40 56 55 50 65 40 79 32zM3181 11932l4-4-4-4-5 4zM12413 11106l53-1 39-9 28-17 12-27-10-40-28-39-40-40-53-40-68-39-62-27-70-23-53-12-53-6-54 1-44 13-22 21-7 32 7 27 14 26 46 53 50 40 68 40 87 36 80 20zM12837 10709l27 5 10-7-38-26-12-4-14-15-13 0-9-8 9-7 85 34 25 0-12-13-92-67-117-66-146-66-121-40-26 0 11 13 62 37 3 3-3 5-14 2-13-11-13 0-53-20-6 11 89 66 117 66 145 67zM12771 10647l-7-6 7-6 14 6zM12744 10632l-5-4 5-5 11 5zM12718 10618l-4-3 4-4 8 4zM12691 10603l0-4 6 2zM12665 10590l0-4 4 2zM12638 10576l4-1zM12612 10563l3-2zM12585 10550l0-4 4 2zM12558 10537l-3-2 3-3 6 3zM12532 10525l-5-3 5-4 8 4zM12505 10513l-6-5 6-5 11 5zM12479 10501l-9-6 9-7 13 7zM13089 10350l66 4 53-7 40-19 22-32 2-40-19-53-38-53-43-39-43-29-56-25-64-17-66-9-66 1-67 11-39 18-25 23-10 27 8 42 35 50 44 40 62 40 58 27 76 26zM12200 5603l27 5 40-4 82-29 103-62 102-84 84-93 58-93 17-40 10-40-1-26-11-27-20-13-40-3-39 8-54 19-56 29-63 40-113 93-86 96-33 50-26 53-12 39-1 40 12 27zM11219 4964l26 1 53-22 54-35 57-50 48-53 36-53 16-40 1-13-7-13-19-5-13 2-40 16-62 40-61 53-49 53-36 53-15 40 1 13zM10715 4577l45-37 45-53-11-3-49 43-34 40zM1457 4090l119 8 98-9 46-13 28-14 19-13 23-26 11-27 3-26-5-40-13-40-49-80-68-70-79-59-93-49-93-34-119-28-120-14-119 4-80 18-26 11-30 23-18 26-7 27 0 26 10 40 19 40 26 40 40 47 46 45 89 67 103 54 109 38zM2492 3082l146-1 119-20 86-33 39-27 26-26 18-27 14-39 4-40-7-53-13-40-26-53-35-51-37-42-82-70-110-63-116-42-132-28-146-10-133 11-53 11-52 19-41 22-26 20-31 37-16 40-6 40 5 53 16 53 26 53 35 53 45 53 45 41 52 39 107 57 66 24 67 18zM12306 2983l27-6 53-29 146-105 161-133 157-149 147-156 144-173 103-146 22-40 4-13-2-13-20 1-40 22-158 123-180 159-179 172-176 186-125 146-59 80-25 39-7 27zM12054 2834l27-7 40-23 106-80 172-150 173-167 159-167 146-167 89-119 19-40-2-12-13-1-53 26-168 119-177 147-170 159-147 159-125 159-75 119-9 27 0 13zM11511 2513l39-2 67-19 66-30 80-45 159-114 152-137 74-80 64-79 57-80 49-79 39-80 16-53 2-40-12-26-30-14-27 0-39 7-80 28-93 45-115 66-99 67-102 79-85 80-71 79-58 80-54 93-34 79-18 67-2 53 9 26 10 13zM10542 1942l67 2 66-9 80-21 79-30 80-41 77-49 68-53 56-53 57-66 45-66 41-80 24-66 15-66 1-67-13-47-26-39-26-20-27-12-40-10-40-3-93 7-119 27-129 44-115 53-106 67-76 66-61 79-38 80-22 93-2 79 18 80 21 40 19 24 27 23 26 15z" stroke="#ff8900"/><path d="M610 14063l91-119 51-80 34-66 8-40-5-13-8-6-40 3-66 29-80 46M1012 14063l99-106-12-3-131 109M1068 14063l55-66 19-27-3-4-27 17-84 80M12914 14063l-104-44-106-30-119-19-119-7-120 6-106 18-93 32-69 44M13845 12720l-93-8-93 1-79 11-67 19-53 28-33 32-21 40-7 53 9 53 28 66 43 67 62 66 65 53 67 41 80 38 92 33M595 10980l64-87 45-79 31-80 9-66-4-27-12-26-27-22-40-10-66 7M13845 9298l-40 15-21 15-22 27-6 26 13 27 23 12 26 2 27-5M13845 6129l-40 69-14 40-3 26 4 22 12 18 14 8 27 4M595 4840l80 16 66 4 40-11 10-17-12-27-38-40-72-53-74-44M595 4428l163 85 142 55 66 17 53 6 27-3 13-8 5-13-9-27-31-40-44-40-74-53-69-39-83-39-74-28-85-25M8928 813l30 53 33 40 39 36 43 30 50 26 53 19 53 12 67 5 66-4 53-10 61-21 50-27 35-26 40-43 26-45 14-45M1112 13951l0-8zM10171 13175l27-1 26-7 26-19 6-27-5-17-16-22-37-28-53-17-54-1-21 6-21 13-9 13-2 27 14 25 13 14 46 27zM4043 12857l27-7 29-20 21-27 4-13-1-14-13-7-27 5-40 28-13 19-6 22 6 11zM3088 12545l14 6 13-3 40-19 65-44 54-48 56-58 40-53 20-40 3-14-3-13-10-5-13 1-40 17-53 37-65 56-50 53-43 53-29 53zM2717 12393l0-4zM2730 12382l4-3-4-7-5 7zM2691 12371l10-6-10-2zM2744 12371l93-85 132-133 59-66-6-8-40 34-212 213-34 39zM2704 12364l304-304-12-3-146 136-150 159zM2279 12241l14 3 26-8 53-30 80-60 81-72 65-67 64-79 39-67 3-29-13-9-14 2-53 23-79 54-93 81-85 91-60 79-28 53-4 27zM3035 12078l4-4-4-5-6 5zM3049 12062l0-4zM3009 12057l5-10-5-1zM1378 11895l26 4 40-7 93-41 107-69 118-102 88-97 62-93 18-40 12-40 1-26-11-27-23-13-27-1-40 8-53 20-53 28-67 43-121 101-51 53-53 64-38 55-29 53-16 40-8 40 3 27 9 13zM11458 11836l27-1 28-13 8-14 1-13-16-27-35-24-40-12-40 0-26 11-10 12-1 13 12 27 39 27zM12253 10973l40 11 27 0 15-11-2-14-11-13-41-26-28-10-26-5-27 5-6 10 4 13 29 26zM12678 10615l-6 0zM12638 10602l13 3 8-4-21-7zM12612 10589l13 4 11-5-24-8zM12585 10575l13 5 11-5zM12678 10575l18 0-18-6zM12572 10564l6-3-13 0zM12651 10562l14 3 9-4-23-9zM12625 10549l13 3 10-4-23-6zM12598 10535l21 0zM13009 10233l27 3 28-6 7-13-14-27-17-13-31-14-39-5-22 6-9 13 3 13 10 13 18 14zM1404 4024l93 11 79-4 67-21 32-27 17-40 0-26-7-27-27-53-55-61-57-45-76-43-92-36-80-20-93-12-79 2-73 16-41 27-10 13-10 26 0 27 7 26 29 53 58 64 66 50 80 45 79 31zM12970 3230l39-2 53-17 67-31 79-47 160-115 151-136 74-80 67-79 58-80 51-79 35-67 23-66 3-40-12-19-26-7-53 11-66 30-80 47-93 63-96 74-93 80-83 79-86 92-66 81-57 79-40 67-31 66-11 53 6 27 13 12zM2452 3003l106 3 93-13 79-30 51-41 18-27 10-26 3-27-3-40-25-66-49-66-71-61-80-47-92-36-106-23-107-8-92 7-80 23-27 13-34 26-22 26-12 27-6 26 0 40 21 68 22 38 31 40 75 66 85 50 106 38zM12399 2895l27-10 50-29 109-81 124-105 128-121 124-131 112-133 85-119 20-40 0-13-9-4-14 4-26 15-106 79-150 131-166 159-151 160-101 119-56 80-10 26zM12134 2738l13 7 27-10 93-65 119-101 146-138 154-159 127-146 67-93 13-26-1-14-15 0-27 12-119 82-145 119-134 123-111 115-101 120-76 106-22 40zM11577 2419l40 5 40-8 53-21 53-27 132-89 130-113 109-120 95-132 28-53 21-53 5-40-8-27-22-14-53 2-53 16-79 36-80 46-79 54-77 59-69 63-55 57-54 66-44 66-35 67-19 53-9 53 3 23 9 17zM10622 1849l40 1 53-6 53-13 66-25 67-35 53-34 53-42 49-46 45-53 36-54 28-53 19-53 10-53-1-39-12-40-20-27-45-26-56-10-80 5-79 18-93 34-89 46-78 53-58 53-43 53-36 66-21 66-4 67 12 53 13 26 22 27 43 28zM3964 1490l133 10 119-10 101-27 67-40 25-26 19-35 8-32 0-40-8-39-16-40-52-80-81-79-99-67-110-50-119-35-133-18-119 1-107 21-39 16-41 26-28 26-24 40-10 40 0 40 7 39 20 53 23 41 38 52 39 40 47 40 101 61 115 45z" stroke="#ff5d00"/><path d="M1007 14063l24-27-12-3-37 30M1053 14063l10-13-4-5-25 18M12713 14063l-115-22-106-6-106 7-91 21M595 14050l90-133 19-40 10-39-5-14-21-7-40 10-53 26M13845 12776l-80-5-66 3-53 8-53 17-40 22-26 26-19 36-6 39 6 40 21 53 35 53 36 40 46 40 58 40 75 38 66 26M595 4786l27 3 26-5 7-5 0-14-20-26-40-31M595 4383l51 38 46 26 119 53 49 15 40 5 24-7 2-13-18-26-29-27-85-53-93-40-53-15-53-8M1033 14031l0-8zM1630 11649l35-26 15-27-11-3-8 3-31 26-9 14 5 13zM1404 3945l40 2 40-5 30-12 23-26 2-27-9-27-18-26-26-27-37-26-45-25-93-30-53-7-40 1-39 9-27 18-11 20-1 14 7 26 18 29 39 38 39 26 54 27 54 18zM13062 3125l27 2 40-10 53-23 66-39 120-87 119-108 106-118 80-112 28-53 20-53 2-27-11-22-26-5-40 9-40 17-66 38-133 97-132 118-120 133-81 119-25 53-6 27 2 27zM2439 2896l53 1 53-8 47-20 29-27 12-26 0-40-9-27-27-39-46-40-46-27-53-20-53-13-67-7-53 5-39 12-39 23-14 17-11 23 0 40 16 40 31 39 43 35 53 29 53 18zM12505 2790l53-28 80-60 93-80 102-98 100-106 77-93 52-76 11-30-11-4-13 5-93 66-106 92-123 119-102 107-79 92-39 53-13 27 2 13zM12240 2636l13 4 14-6 66-44 93-79 98-93 127-131 81-95 39-53 15-26 0-13-15 0-27 13-74 53-98 81-98 91-90 93-79 93-55 80zM11696 2314l27-1 26-7 80-39 86-61 89-80 77-87 58-85 27-67 1-26-6-14-27-11-26 3-40 12-49 23-110 71-101 88-80 93-34 53-19 40-11 40 0 26 6 15 13 11zM10702 1717l53 3 69-18 74-40 64-53 45-53 33-67 6-53-7-26-10-13-22-17-40-10-40 2-40 8-46 17-47 23-79 59-53 66-18 37-9 40 1 27 13 32 18 21zM3924 1359l80 10 66-3 53-12 53-27 31-37 9-39-7-40-30-53-38-40-58-41-66-32-80-24-79-10-67 2-53 13-48 26-31 40-7 39 7 40 29 53 37 40 54 40 65 32z" stroke="#ff3000"/><path d="M595 14001l23-44 8-27-4-20-14-6-13 1M13845 12847l-93 3-65 19-21 14-20 19-12 20-5 27 1 26 9 27 20 38 23 28 70 60 93 49M13208 2989l48-14 58-34 67-50 66-62 60-66 47-67 24-53-2-26-10-7-26 2-66 32-80 58-81 74-70 80-44 66-11 26-3 27 10 12zM12651 2636l14-4 39-28 89-80 86-93 38-55-14-2-26 16-106 94-108 120-15 26zM12413 2474l39-26 77-70 69-77 18-29-4-4-27 15-93 82-80 93-4 13z" stroke="#ed0400"/></g></g>
   <g id="matplotlib.axis_1">
    <g id="xtick_1">
     <g id="line2d_1">
      <defs>
       <path id="m1504cfccaf" d="M 0 0
L 0 3.5
" style="stroke: #000000; stroke-width: 0.8"/>
      </defs>
      <g>
       <use href="#m1504cfccaf" x="154.95" y="843.78" style="stroke: #000000; stroke-width: 0.8"/>
      </g>
     </g>
     <g id="text_1">
      <text style="font-size: 10px; font-family: 'DejaVu Sans', 'Bitstream Vera Sans', 'Computer Modern Sans Serif', 'Lucida Grande', 'Verdana', 'Geneva', 'Lucid', 'Arial', 'Helvetica', 'Avant Garde', sans-serif; text-anchor: middle" x="154.95" y="859.18" transform="rotate(-0 154.95 859.18)">−10</text>
     </g>
    </g>
    <g id="xtick_2">
     <g id="line2d_2">
      <g>
       <use href="#m1504cfccaf" x="294.075" y="843.78" style="stroke: #000000; stroke-width: 0.8"/>
      </g>
     </g>
     <g id="text_2">
      <text style="font-size: 10px; font-family: 'DejaVu Sans', 'Bitstream Vera Sans', 'Computer Modern Sans Serif', 'Lucida Grande', 'Verdana', 'Geneva', 'Lucid', 'Arial', 'Helvetica', 'Avant Garde', sans-serif; text-anchor: middle" x="294.075" y="859.18" transform="rotate(-0 294.075 859.18)">−5</text>
     </g>
    </g>
    <g id="xtick_3">
     <g id="line2d_3">
      <g>
       <use href="#m1504cfccaf" x="433.2" y="843.78" style="stroke: #000000; stroke-width: 0.8"/>
      </g>
     </g>
     <g id="text_3">
      <text style="font-size: 10px; font-family: 'DejaVu Sans', 'Bitstream Vera Sans', 'Computer Modern Sans Serif', 'Lucida Grande', 'Verdana', 'Geneva', 'Lucid', 'Arial', 'Helvetica', 'Avant Garde', sans-serif; text-anchor: middle" x="433.2" y="859.18" transform="rotate(-0 433.2 859.18)">0</text>
     </g>
    </g>
    <g id="xtick_4">
     <g id="line2d_4">
      <g>
       <use href="#m1504cfccaf" x="572.325" y="843.78" style="stroke: #000000; stroke-width: 0.8"/>
      </g>
     </g>
     <g id="text_4">
      <text style="font-size: 10px; font-family: 'DejaVu Sans', 'Bitstream Vera Sans', 'Computer Modern Sans Serif', 'Lucida Grande', 'Verdana', 'Geneva', 'Lucid', 'Arial', 'Helvetica', 'Avant Garde', sans-serif; text-anchor: middle" x="572.325" y="859.18" transform="rotate(-0 572.325 859.18)">5</text>
     </g>
    </g>
    <g id="xtick_5">
     <g id="line2d_5">
      <g>
       <use href="#m1504cfccaf" x="711.45" y="843.78" style="stroke: #000000; stroke-width: 0.8"/>
      </g>
     </g>
     <g id="text_5">
      <text style="font-size: 10px; font-family: 'DejaVu Sans', 'Bitstream Vera Sans', 'Computer Modern Sans Serif', 'Lucida Grande', 'Verdana', 'Geneva', 'Lucid', 'Arial', 'Helvetica', 'Avant Garde', sans-serif; text-anchor: middle" x="711.45" y="859.18" transform="rotate(-0 711.45 859.18)">10</text>
     </g>
    </g>
   </g>
   <g id="matplotlib.axis_2">
    <g id="ytick_1">
     <g id="line2d_6">
      <defs>
       <path id="m5d545ce8f8" d="M 0 0
L -3.5 0
" style="stroke: #000000; stroke-width: 0.8"/>
      </defs>
      <g>
       <use href="#m5d545ce8f8" x="35.7" y="724.53" style="stroke: #000000; stroke-width: 0.8"/>
      </g>
     </g>
     <g id="text_6">
      <text style="font-size: 10px; font-family: 'DejaVu Sans', 'Bitstream Vera Sans', 'Computer Modern Sans Serif', 'Lucida Grande', 'Verdana', 'Geneva', 'Lucid', 'Arial', 'Helvetica', 'Avant Garde', sans-serif; text-anchor: end" x="28.7" y="728.73" transform="rotate(-0 28.7 728.73)">−10</text>
     </g>
    </g>
    <g id="ytick_2">
     <g id="line2d_7">
      <g>
       <use href="#m5d545ce8f8" x="35.7" y="585.405" style="stroke: #000000; stroke-width: 0.8"/>
      </g>
     </g>
     <g id="text_7">
      <text style="font-size: 10px; font-family: 'DejaVu Sans', 'Bitstream Vera Sans', 'Computer Modern Sans Serif', 'Lucida Grande', 'Verdana', 'Geneva', 'Lucid', 'Arial', 'Helvetica', 'Avant Garde', sans-serif; text-anchor: end" x="28.7" y="589.605" transform="rotate(-0 28.7 589.605)">−5</text>
     </g>
    </g>
    <g id="ytick_3">
     <g id="line2d_8">
      <g>
       <use href="#m5d545ce8f8" x="35.7" y="446.28" style="stroke: #000000; stroke-width: 0.8"/>
      </g>
     </g>
     <g id="text_8">
      <text style="font-size: 10px; font-family: 'DejaVu Sans', 'Bitstream Vera Sans', 'Computer Modern Sans Serif', 'Lucida Grande', 'Verdana', 'Geneva', 'Lucid', 'Arial', 'Helvetica', 'Avant Garde', sans-serif; text-anchor: end" x="28.7" y="450.48" transform="rotate(-0 28.7 450.48)">0</text>
     </g>
    </g>
    <g id="ytick_4">
     <g id="line2d_9">
      <g>
       <use href="#m5d545ce8f8" x="35.7" y="307.155" style="stroke: #000000; stroke-width: 0.8"/>
      </g>
     </g>
     <g id="text_9">
      <text style="font-size: 10px; font-family: 'DejaVu Sans', 'Bitstream Vera Sans', 'Computer Modern Sans Serif', 'Lucida Grande', 'Verdana', 'Geneva', 'Lucid', 'Arial', 'Helvetica', 'Avant Garde', sans-serif; text-anchor: end" x="28.7" y="311.355" transform="rotate(-0 28.7 311.355)">5</text>
     </g>
    </g>
    <g id="ytick_5">
     <g id="line2d_10">
      <g>
       <use href="#m5d545ce8f8" x="35.7" y="168.03" style="stroke: #000000; stroke-width: 0.8"/>
      </g>
     </g>
     <g id="text_10">
      <text style="font-size: 10px; font-family: 'DejaVu Sans', 'Bitstream Vera Sans', 'Computer Modern Sans Serif', 'Lucida Grande', 'Verdana', 'Geneva', 'Lucid', 'Arial', 'Helvetica', 'Avant Garde', sans-serif; text-anchor: end" x="28.7" y="172.23" transform="rotate(-0 28.7 172.23)">10</text>
     </g>
    </g>
   </g>
   <g id="patch_3">
    <path d="M 35.7 843.78
L 35.7 48.78
" style="fill: none; stroke: #000000; stroke-width: 0.8; stroke-linejoin: miter; stroke-linecap: square"/>
   </g>
   <g id="patch_4">
    <path d="M 830.7 843.78
L 830.7 48.78
" style="fill: none; stroke: #000000; stroke-width: 0.8; stroke-linejoin: miter; stroke-linecap: square"/>
   </g>
   <g id="patch_5">
    <path d="M 35.7 843.78
L 830.7 843.78
" style="fill: none; stroke: #000000; stroke-width: 0.8; stroke-linejoin: miter; stroke-linecap: square"/>
   </g>
   <g id="patch_6">
    <path d="M 35.7 48.78
L 830.7 48.78
" style="fill: none; stroke: #000000; stroke-width: 0.8; stroke-linejoin: miter; stroke-linecap: square"/>
   </g>
   <g id="text_11">
    <text style="font-weight: 700; font-size: 12px; font-family: 'DejaVu Sans', 'Bitstream Vera Sans', 'Computer Modern Sans Serif', 'Lucida Grande', 'Verdana', 'Geneva', 'Lucid', 'Arial', 'Helvetica', 'Avant Garde', sans-serif" transform="translate(340.7625 16.722)">EggHolder Landscape - ano</text>
    <text style="font-weight: 700; font-size: 12px; font-family: 'DejaVu Sans', 'Bitstream Vera Sans', 'Computer Modern Sans Serif', 'Lucida Grande', 'Verdana', 'Geneva', 'Lucid', 'Arial', 'Helvetica', 'Avant Garde', sans-serif" transform="translate(351.2625 29.751)">Iters: 150, Error: 4.6459</text>
    <text style="font-weight: 700; font-size: 12px; font-family: 'DejaVu Sans', 'Bitstream Vera Sans', 'Computer Modern Sans Serif', 'Lucida Grande', 'Verdana', 'Geneva', 'Lucid', 'Arial', 'Helvetica', 'Avant Garde', sans-serif" transform="translate(408.3375 42.78)">lr=0.63</text>
   </g>
   <g id="line2d_11">
    <path d="M 549.72 507.12
L 532.5 525.36
L 510.96 549.78
L 500.58 555.18
L 484.86 569.46
L 483.78 582.12
L 476.1 603.06
L 475.38 605.82
L 474.18 613.32
L 468.18 633.78
L 461.76 659.52
L 447.18 669.84
L 426.24 693.78
L 422.82 698.64
L 420.84 701.76
L 415.56 710.04
L 402.06 731.04
L 388.38 757.98
L 373.92 761.1
L 354.72 776.64
L 380.64 806.1
L 402.06 783.9
L 421.56 762.36
L 427.56 752.52
L 443.1 731.04
L 465.3 755.1
L 447.78 775.14
L 442.56 784.98
L 438.12 789.9
L 427.32 803.16
L 438.84 789.36
L 443.16 784.56
L 447.78 775.14
L 454.32 784.2
L 456.72 788.1
L 462.72 789.24
L 468.78 793.38
L 478.38 796.38
L 486.24 801.18
L 493.44 802.92
L 486.72 819.06
" clip-path="url(#p0bede3687a)" style="fill: none; stroke: #000000; stroke-width: 2; stroke-linecap: square"/>
   </g>
   <g id="line2d_12">
    <path d="M 489.96 815.1
L 496.14 804.9
" clip-path="url(#p0bede3687a)" style="fill: none; stroke: #000000; stroke-width: 2; stroke-linecap: square"/>
   </g>
   <g id="line2d_13">
    <path d="M 493.92 791.22
L 485.7 814.32
" clip-path="url(#p0bede3687a)" style="fill: none; stroke: #000000; stroke-width: 2; stroke-linecap: square"/>
   </g>
   <g id="line2d_14">
    <path d="M 496.14 804.9
L 499.92 810.6
" clip-path="url(#p0bede3687a)" style="fill: none; stroke: #000000; stroke-width: 2; stroke-linecap: square"/>
   </g>
   <g id="line2d_15">
    <path d="M 499.92 810.6
L 502.14 818.82
" clip-path="url(#p0bede3687a)" style="fill: none; stroke: #000000; stroke-width: 2; stroke-linecap: square"/>
   </g>
   <g id="line2d_16">
    <path d="M 503.1 802.14
L 502.14 818.82
" clip-path="url(#p0bede3687a)" style="fill: none; stroke: #000000; stroke-width: 2; stroke-linecap: square"/>
   </g>
   <g id="line2d_17">
    <path d="M 507.36 796.68
L 504.84 816.06
" clip-path="url(#p0bede3687a)" style="fill: none; stroke: #000000; stroke-width: 2; stroke-linecap: square"/>
   </g>
   <g id="line2d_18">
    <path d="M 504.84 816.06
L 526.56 816.12
" clip-path="url(#p0bede3687a)" style="fill: none; stroke: #000000; stroke-width: 2; stroke-linecap: square"/>
   </g>
   <g id="line2d_19">
    <path d="M 526.56 816.12
L 507.36 796.68
" clip-path="url(#p0bede3687a)" style="fill: none; stroke: #000000; stroke-width: 2; stroke-linecap: square"/>
   </g>
   <g id="line2d_20">
    <path d="M 485.7 814.32
L 487.68 818.1
" clip-path="url(#p0bede3687a)" style="fill: none; stroke: #000000; stroke-width: 2; stroke-linecap: square"/>
   </g>
   <g id="line2d_21">
    <path d="M 488.1 820.08
L 489.96 815.1
" clip-path="url(#p0bede3687a)" style="fill: none; stroke: #000000; stroke-width: 2; stroke-linecap: square"/>
   </g>
   <g id="legend_1">
    <g id="patch_7">
     <path d="M 41.28 109.5
L 118.005 109.5
Q 119.805 109.5 119.805 107.7
L 119.805 54.6
Q 119.805 52.8 118.005 52.8
L 41.28 52.8
Q 39.48 52.8 39.48 54.6
L 39.48 107.7
Q 39.48 109.5 41.28 109.5
z
" style="fill: #ffffff; opacity: 0.8; stroke: #cccccc; stroke-linejoin: miter"/>
    </g>
    <g id="line2d_22">
     <path d="M 43.08 60.45
L 52.08 60.45
L 61.08 60.45
" style="fill: none; stroke: #000000; stroke-width: 2; stroke-linecap: square"/>
     <defs>
      <path id="me31b44df86" d="M 0 2.5
C 0.663008 2.5 1.29895 2.236584 1.767767 1.767767
C 2.236584 1.29895 2.5 0.663008 2.5 0
C 2.5 -0.663008 2.236584 -1.29895 1.767767 -1.767767
C 1.29895 -2.236584 0.663008 -2.5 0 -2.5
C -0.663008 -2.5 -1.29895 -2.236584 -1.767767 -1.767767
C -2.236584 -1.29895 -2.5 -0.663008 -2.5 0
C -2.5 0.663008 -2.236584 1.29895 -1.767767 1.767767
C -1.29895 2.236584 -0.663008 2.5 0 2.5
z
" style="stroke: #000000; stroke-width: 0.8"/>
     </defs>
     <g>
      <use href="#me31b44df86" x="52.08" y="60.45" style="fill: #ffffff; stroke: #000000; stroke-width: 0.8"/>
     </g>
    </g>
    <g id="text_12">
     <text style="font-size: 9px; font-family: 'DejaVu Sans', 'Bitstream Vera Sans', 'Computer Modern Sans Serif', 'Lucida Grande', 'Verdana', 'Geneva', 'Lucid', 'Arial', 'Helvetica', 'Avant Garde', sans-serif; text-anchor: start" x="68.28" y="63.6" transform="rotate(-0 68.28 63.6)">Path</text>
    </g>
    <g id="line2d_23">
     <defs>
      <path id="ma4dd6b74b7" d="M 0 4.5
C 1.193414 4.5 2.338109 4.025852 3.181981 3.181981
C 4.025852 2.338109 4.5 1.193414 4.5 0
C 4.5 -1.193414 4.025852 -2.338109 3.181981 -3.181981
C 2.338109 -4.025852 1.193414 -4.5 0 -4.5
C -1.193414 -4.5 -2.338109 -4.025852 -3.181981 -3.181981
C -4.025852 -2.338109 -4.5 -1.193414 -4.5 0
C -4.5 1.193414 -4.025852 2.338109 -3.181981 3.181981
C -2.338109 4.025852 -1.193414 4.5 0 4.5
z
" style="stroke: #000000"/>
     </defs>
     <g>
      <use href="#ma4dd6b74b7" x="52.08" y="73.95" style="fill: #00ff00; stroke: #000000"/>
     </g>
    </g>
    <g id="text_13">
     <text style="font-size: 9px; font-family: 'DejaVu Sans', 'Bitstream Vera Sans', 'Computer Modern Sans Serif', 'Lucida Grande', 'Verdana', 'Geneva', 'Lucid', 'Arial', 'Helvetica', 'Avant Garde', sans-serif; text-anchor: start" x="68.28" y="77.1" transform="rotate(-0 68.28 77.1)">Start</text>
    </g>
    <g id="line2d_24">
     <defs>
      <path id="m033be8c0a2" d="M 0 5
C 1.326016 5 2.597899 4.473168 3.535534 3.535534
C 4.473168 2.597899 5 1.326016 5 0
C 5 -1.326016 4.473168 -2.597899 3.535534 -3.535534
C 2.597899 -4.473168 1.326016 -5 0 -5
C -1.326016 -5 -2.597899 -4.473168 -3.535534 -3.535534
C -4.473168 -2.597899 -5 -1.326016 -5 0
C -5 1.326016 -4.473168 2.597899 -3.535534 3.535534
C -2.597899 4.473168 -1.326016 5 0 5
z
" style="stroke: #000000"/>
     </defs>
     <g>
      <use href="#m033be8c0a2" x="52.08" y="87.45" style="fill: #ff0000; stroke: #000000"/>
     </g>
    </g>
    <g id="text_14">
     <text style="font-size: 9px; font-family: 'DejaVu Sans', 'Bitstream Vera Sans', 'Computer Modern Sans Serif', 'Lucida Grande', 'Verdana', 'Geneva', 'Lucid', 'Arial', 'Helvetica', 'Avant Garde', sans-serif; text-anchor: start" x="68.28" y="90.6" transform="rotate(-0 68.28 90.6)">End</text>
    </g>
    <g id="line2d_25">
     <defs>
      <path id="m655b15b6a4" d="M 0 -6
L -1.347084 -1.854102
L -5.706339 -1.854102
L -2.179628 0.708204
L -3.526712 4.854102
L -0 2.291796
L 3.526712 4.854102
L 2.179628 0.708204
L 5.706339 -1.854102
L 1.347084 -1.854102
z
" style="stroke: #000000; stroke-linejoin: bevel"/>
     </defs>
     <g>
      <use href="#m655b15b6a4" x="52.08" y="100.95" style="fill: #ffd700; stroke: #000000; stroke-linejoin: bevel"/>
     </g>
    </g>
    <g id="text_15">
     <text style="font-size: 9px; font-family: 'DejaVu Sans', 'Bitstream Vera Sans', 'Computer Modern Sans Serif', 'Lucida Grande', 'Verdana', 'Geneva', 'Lucid', 'Arial', 'Helvetica', 'Avant Garde', sans-serif; text-anchor: start" x="68.28" y="104.1" transform="rotate(-0 68.28 104.1)">Global Min</text>
    </g>
   </g>
   <g id="legend_2">
    <g id="patch_8">
     <path d="M 694.5 839.28
L 824.4 839.28
Q 826.2 839.28 826.2 837.48
L 826.2 782.58
Q 826.2 780.78 824.4 780.78
L 694.5 780.78
Q 692.7 780.78 692.7 782.58
L 692.7 837.48
Q 692.7 839.28 694.5 839.28
z
" style="fill: #ffffff; opacity: 0.8; stroke: #cccccc; stroke-linejoin: miter"/>
    </g>
    <g id="text_16">
     <text style="font-size: 10px; font-family: 'DejaVu Sans', 'Bitstream Vera Sans', 'Computer Modern Sans Serif', 'Lucida Grande', 'Verdana', 'Geneva', 'Lucid', 'Arial', 'Helvetica', 'Avant Garde', sans-serif; text-anchor: start" x="703.8375" y="792.78" transform="rotate(-0 703.8375 792.78)">Evaluation Breakdown</text>
    </g>
    <g id="line2d_26">
     <path d="M 696.3 803.73
L 705.3 803.73
L 714.3 803.73
" style="fill: none; stroke: #000000; stroke-opacity: 0; stroke-width: 1.5; stroke-linecap: square"/>
    </g>
    <g id="text_17">
     <text style="font-size: 9px; font-family: 'DejaVu Sans', 'Bitstream Vera Sans', 'Computer Modern Sans Serif', 'Lucida Grande', 'Verdana', 'Geneva', 'Lucid', 'Arial', 'Helvetica', 'Avant Garde', sans-serif; text-anchor: start" x="721.5" y="806.88" transform="rotate(-0 721.5 806.88)">Val Penalty: 1.2689</text>
    </g>
    <g id="line2d_27">
     <path d="M 696.3 817.23
L 705.3 817.23
L 714.3 817.23
" style="fill: none; stroke: #000000; stroke-opacity: 0; stroke-width: 1.5; stroke-linecap: square"/>
    </g>
    <g id="text_18">
     <text style="font-size: 9px; font-family: 'DejaVu Sans', 'Bitstream Vera Sans', 'Computer Modern Sans Serif', 'Lucida Grande', 'Verdana', 'Geneva', 'Lucid', 'Arial', 'Helvetica', 'Avant Garde', sans-serif; text-anchor: start" x="721.5" y="820.38" transform="rotate(-0 721.5 820.38)">Eff Penalty: 0.6777</text>
    </g>
    <g id="line2d_28">
     <path d="M 696.3 830.73
L 705.3 830.73
L 714.3 830.73
" style="fill: none; stroke: #000000; stroke-opacity: 0; stroke-width: 1.5; stroke-linecap: square"/>
    </g>
    <g id="text_19">
     <text style="font-size: 9px; font-family: 'DejaVu Sans', 'Bitstream Vera Sans', 'Computer Modern Sans Serif', 'Lucida Grande', 'Verdana', 'Geneva', 'Lucid', 'Arial', 'Helvetica', 'Avant Garde', sans-serif; text-anchor: start" x="721.5" y="833.88" transform="rotate(-0 721.5 833.88)">Speed Penalty: 0.1000</text>
    </g>
   </g>
   <g id="line2d_29">
    <g clip-path="url(#p0bede3687a)">
     <use href="#me31b44df86" x="549.72" y="507.12" style="fill: #ffffff; stroke: #000000; stroke-width: 0.8"/>
     <use href="#me31b44df86" x="532.5" y="525.36" style="fill: #ffffff; stroke: #000000; stroke-width: 0.8"/>
     <use href="#me31b44df86" x="510.96" y="549.78" style="fill: #ffffff; stroke: #000000; stroke-width: 0.8"/>
     <use href="#me31b44df86" x="500.58" y="555.18" style="fill: #ffffff; stroke: #000000; stroke-width: 0.8"/>
     <use href="#me31b44df86" x="484.86" y="569.46" style="fill: #ffffff; stroke: #000000; stroke-width: 0.8"/>
     <use href="#me31b44df86" x="483.78" y="582.12" style="fill: #ffffff; stroke: #000000; stroke-width: 0.8"/>
     <use href="#me31b44df86" x="476.1" y="603.06" style="fill: #ffffff; stroke: #000000; stroke-width: 0.8"/>
     <use href="#me31b44df86" x="475.38" y="605.82" style="fill: #ffffff; stroke: #000000; stroke-width: 0.8"/>
     <use href="#me31b44df86" x="474.18" y="613.32" style="fill: #ffffff; stroke: #000000; stroke-width: 0.8"/>
     <use href="#me31b44df86" x="468.18" y="633.78" style="fill: #ffffff; stroke: #000000; stroke-width: 0.8"/>
     <use href="#me31b44df86" x="461.76" y="659.52" style="fill: #ffffff; stroke: #000000; stroke-width: 0.8"/>
     <use href="#me31b44df86" x="447.18" y="669.84" style="fill: #ffffff; stroke: #000000; stroke-width: 0.8"/>
     <use href="#me31b44df86" x="426.24" y="693.78" style="fill: #ffffff; stroke: #000000; stroke-width: 0.8"/>
     <use href="#me31b44df86" x="422.82" y="698.64" style="fill: #ffffff; stroke: #000000; stroke-width: 0.8"/>
     <use href="#me31b44df86" x="420.84" y="701.76" style="fill: #ffffff; stroke: #000000; stroke-width: 0.8"/>
     <use href="#me31b44df86" x="415.56" y="710.04" style="fill: #ffffff; stroke: #000000; stroke-width: 0.8"/>
     <use href="#me31b44df86" x="402.06" y="731.04" style="fill: #ffffff; stroke: #000000; stroke-width: 0.8"/>
     <use href="#me31b44df86" x="388.38" y="757.98" style="fill: #ffffff; stroke: #000000; stroke-width: 0.8"/>
     <use href="#me31b44df86" x="373.92" y="761.1" style="fill: #ffffff; stroke: #000000; stroke-width: 0.8"/>
     <use href="#me31b44df86" x="354.72" y="776.64" style="fill: #ffffff; stroke: #000000; stroke-width: 0.8"/>
     <use href="#me31b44df86" x="380.64" y="806.1" style="fill: #ffffff; stroke: #000000; stroke-width: 0.8"/>
     <use href="#me31b44df86" x="402.06" y="783.9" style="fill: #ffffff; stroke: #000000; stroke-width: 0.8"/>
     <use href="#me31b44df86" x="421.56" y="762.36" style="fill: #ffffff; stroke: #000000; stroke-width: 0.8"/>
     <use href="#me31b44df86" x="427.56" y="752.52" style="fill: #ffffff; stroke: #000000; stroke-width: 0.8"/>
     <use href="#me31b44df86" x="443.1" y="731.04" style="fill: #ffffff; stroke: #000000; stroke-width: 0.8"/>
     <use href="#me31b44df86" x="465.3" y="755.1" style="fill: #ffffff; stroke: #000000; stroke-width: 0.8"/>
     <use href="#me31b44df86" x="447.78" y="775.14" style="fill: #ffffff; stroke: #000000; stroke-width: 0.8"/>
     <use href="#me31b44df86" x="442.56" y="784.98" style="fill: #ffffff; stroke: #000000; stroke-width: 0.8"/>
     <use href="#me31b44df86" x="438.12" y="789.9" style="fill: #ffffff; stroke: #000000; stroke-width: 0.8"/>
     <use href="#me31b44df86" x="427.32" y="803.16" style="fill: #ffffff; stroke: #000000; stroke-width: 0.8"/>
     <use href="#me31b44df86" x="438.84" y="789.36" style="fill: #ffffff; stroke: #000000; stroke-width: 0.8"/>
     <use href="#me31b44df86" x="443.16" y="784.56" style="fill: #ffffff; stroke: #000000; stroke-width: 0.8"/>
     <use href="#me31b44df86" x="447.78" y="775.14" style="fill: #ffffff; stroke: #000000; stroke-width: 0.8"/>
     <use href="#me31b44df86" x="454.32" y="784.2" style="fill: #ffffff; stroke: #000000; stroke-width: 0.8"/>
     <use href="#me31b44df86" x="456.72" y="788.1" style="fill: #ffffff; stroke: #000000; stroke-width: 0.8"/>
     <use href="#me31b44df86" x="462.72" y="789.24" style="fill: #ffffff; stroke: #000000; stroke-width: 0.8"/>
     <use href="#me31b44df86" x="468.78" y="793.38" style="fill: #ffffff; stroke: #000000; stroke-width: 0.8"/>
     <use href="#me31b44df86" x="478.38" y="796.38" style="fill: #ffffff; stroke: #000000; stroke-width: 0.8"/>
     <use href="#me31b44df86" x="486.24" y="801.18" style="fill: #ffffff; stroke: #000000; stroke-width: 0.8"/>
     <use href="#me31b44df86" x="493.44" y="802.92" style="fill: #ffffff; stroke: #000000; stroke-width: 0.8"/>
     <use href="#me31b44df86" x="486.72" y="819.06" style="fill: #ffffff; stroke: #000000; stroke-width: 0.8"/>
     <use href="#me31b44df86" x="493.92" y="791.22" style="fill: #ffffff; stroke: #000000; stroke-width: 0.8"/>
     <use href="#me31b44df86" x="496.14" y="804.9" style="fill: #ffffff; stroke: #000000; stroke-width: 0.8"/>
     <use href="#me31b44df86" x="498" y="807" style="fill: #ffffff; stroke: #000000; stroke-width: 0.8"/>
     <use href="#me31b44df86" x="499.92" y="810.6" style="fill: #ffffff; stroke: #000000; stroke-width: 0.8"/>
     <use href="#me31b44df86" x="485.7" y="814.32" style="fill: #ffffff; stroke: #000000; stroke-width: 0.8"/>
     <use href="#me31b44df86" x="489.96" y="815.1" style="fill: #ffffff; stroke: #000000; stroke-width: 0.8"/>
     <use href="#me31b44df86" x="487.68" y="818.1" style="fill: #ffffff; stroke: #000000; stroke-width: 0.8"/>
     <use href="#me31b44df86" x="485.88" y="819.9" style="fill: #ffffff; stroke: #000000; stroke-width: 0.8"/>
     <use href="#me31b44df86" x="488.1" y="820.08" style="fill: #ffffff; stroke: #000000; stroke-width: 0.8"/>
     <use href="#me31b44df86" x="503.1" y="802.14" style="fill: #ffffff; stroke: #000000; stroke-width: 0.8"/>
     <use href="#me31b44df86" x="504.84" y="816.06" style="fill: #ffffff; stroke: #000000; stroke-width: 0.8"/>
     <use href="#me31b44df86" x="502.14" y="818.82" style="fill: #ffffff; stroke: #000000; stroke-width: 0.8"/>
     <use href="#me31b44df86" x="526.56" y="816.12" style="fill: #ffffff; stroke: #000000; stroke-width: 0.8"/>
    </g>
   </g>
   <g id="line2d_30">
    <path d="M 486.72 819.06
L 493.44 802.92
" clip-path="url(#p0bede3687a)" style="fill: none; stroke: #000000; stroke-width: 2"/>
   </g>
   <g id="line2d_31">
    <path d="M 487.68 819.6
L 496.14 804.9
" clip-path="url(#p0bede3687a)" style="fill: none; stroke: #000000; stroke-width: 2"/>
   </g>
   <g id="line2d_32">
    <path d="M 493.92 791.22
L 503.1 802.14
" clip-path="url(#p0bede3687a)" style="fill: none; stroke: #000000; stroke-width: 2"/>
   </g>
   <g id="line2d_33">
    <path d="M 485.88 819.9
L 488.1 820.08
" clip-path="url(#p0bede3687a)" style="fill: none; stroke: #000000; stroke-width: 2"/>
   </g>
   <g id="patch_9">
    <path d="M 507.96 800.88
C 509.423921 800.88 510.828081 800.298378 511.863229 799.263229
C 512.898378 798.228081 513.48 796.823921 513.48 795.36
C 513.48 793.896079 512.898378 792.491919 511.863229 791.456771
C 510.828081 790.421622 509.423921 789.84 507.96 789.84
C 506.496079 789.84 505.091919 790.421622 504.056771 791.456771
C 503.021622 792.491919 502.44 793.896079 502.44 795.36
C 502.44 796.823921 503.021622 798.228081 504.056771 799.263229
C 505.091919 800.298378 506.496079 800.88 507.96 800.88
z
" clip-path="url(#p0bede3687a)"/>
   </g>
   <g id="line2d_34">
    <g clip-path="url(#p0bede3687a)">
     <use href="#ma4dd6b74b7" x="549.72" y="507.12" style="fill: #00ff00; stroke: #000000"/>
    </g>
   </g>
   <g id="line2d_35">
    <g clip-path="url(#p0bede3687a)">
     <use href="#m033be8c0a2" x="507.36" y="796.68" style="fill: #ff0000; stroke: #000000"/>
    </g>
   </g>
   <g id="line2d_36">
    <g clip-path="url(#p0bede3687a)">
     <use href="#m655b15b6a4" x="711.18" y="229.44" style="fill: #ffd700; stroke: #000000; stroke-linejoin: bevel"/>
     <use href="#m655b15b6a4" x="113.04" y="312.87" style="fill: #ffd700; stroke: #000000; stroke-linejoin: bevel"/>
     <use href="#m655b15b6a4" x="113.16" y="780.66" style="fill: #ffd700; stroke: #000000; stroke-linejoin: bevel"/>
     <use href="#m655b15b6a4" x="722.64" y="777.06" style="fill: #ffd700; stroke: #000000; stroke-linejoin: bevel"/>
    </g>
   </g>
  </g>
  <g id="axes_2">
   <g id="patch_10">
    <path d="M 849.96 841.02
L 889.32 841.02
L 889.32 52.14
L 849.96 52.14
z
" style="fill: #ffffff"/>
   </g>
   <g id="matplotlib.axis_3"/>
   <g id="matplotlib.axis_4">
    <g id="ytick_6">
     <g id="line2d_37">
      <defs>
       <path id="m33c4ce201d" d="M 0 0
L 3.5 0
" style="stroke: #000000; stroke-width: 0.8"/>
      </defs>
      <g>
       <use href="#m33c4ce201d" x="889.32" y="690.757143" style="stroke: #000000; stroke-width: 0.8"/>
      </g>
     </g>
     <g id="text_20">
      <text style="font-size: 8px; font-family: 'DejaVu Sans', 'Bitstream Vera Sans', 'Computer Modern Sans Serif', 'Lucida Grande', 'Verdana', 'Geneva', 'Lucid', 'Arial', 'Helvetica', 'Avant Garde', sans-serif; text-anchor: start" x="896.32" y="693.757143" transform="rotate(-0 896.32 693.757143)">0.4</text>
     </g>
    </g>
    <g id="ytick_7">
     <g id="line2d_38">
      <g>
       <use href="#m33c4ce201d" x="889.32" y="540.494286" style="stroke: #000000; stroke-width: 0.8"/>
      </g>
     </g>
     <g id="text_21">
      <text style="font-size: 8px; font-family: 'DejaVu Sans', 'Bitstream Vera Sans', 'Computer Modern Sans Serif', 'Lucida Grande', 'Verdana', 'Geneva', 'Lucid', 'Arial', 'Helvetica', 'Avant Garde', sans-serif; text-anchor: start" x="896.32" y="543.494286" transform="rotate(-0 896.32 543.494286)">0.8</text>
     </g>
    </g>
    <g id="ytick_8">
     <g id="line2d_39">
      <g>
       <use href="#m33c4ce201d" x="889.32" y="390.231429" style="stroke: #000000; stroke-width: 0.8"/>
      </g>
     </g>
     <g id="text_22">
      <text style="font-size: 8px; font-family: 'DejaVu Sans', 'Bitstream Vera Sans', 'Computer Modern Sans Serif', 'Lucida Grande', 'Verdana', 'Geneva', 'Lucid', 'Arial', 'Helvetica', 'Avant Garde', sans-serif; text-anchor: start" x="896.32" y="393.231429" transform="rotate(-0 896.32 393.231429)">1.2</text>
     </g>
    </g>
    <g id="ytick_9">
     <g id="line2d_40">
      <g>
       <use href="#m33c4ce201d" x="889.32" y="239.968571" style="stroke: #000000; stroke-width: 0.8"/>
      </g>
     </g>
     <g id="text_23">
      <text style="font-size: 8px; font-family: 'DejaVu Sans', 'Bitstream Vera Sans', 'Computer Modern Sans Serif', 'Lucida Grande', 'Verdana', 'Geneva', 'Lucid', 'Arial', 'Helvetica', 'Avant Garde', sans-serif; text-anchor: start" x="896.32" y="242.968571" transform="rotate(-0 896.32 242.968571)">1.6</text>
     </g>
    </g>
    <g id="ytick_10">
     <g id="line2d_41">
      <g>
       <use href="#m33c4ce201d" x="889.32" y="89.705714" style="stroke: #000000; stroke-width: 0.8"/>
      </g>
     </g>
     <g id="text_24">
      <text style="font-size: 8px; font-family: 'DejaVu Sans', 'Bitstream Vera Sans', 'Computer Modern Sans Serif', 'Lucida Grande', 'Verdana', 'Geneva', 'Lucid', 'Arial', 'Helvetica', 'Avant Garde', sans-serif; text-anchor: start" x="896.32" y="92.705714" transform="rotate(-0 896.32 92.705714)">2.0</text>
     </g>
    </g>
    <g id="text_25">
     <text style="font-weight: 700; font-size: 10px; font-family: 'DejaVu Sans', 'Bitstream Vera Sans', 'Computer Modern Sans Serif', 'Lucida Grande', 'Verdana', 'Geneva', 'Lucid', 'Arial', 'Helvetica', 'Avant Garde', sans-serif; text-anchor: middle" x="920.645" y="446.58" transform="rotate(-90 920.645 446.58)">f(x,y) [Linear]</text>
    </g>
   </g>
   <g id="LineCollection_1"/>
   <g id="LineCollection_2">
    <path d="M 849.96 841.02
L 889.32 841.02
" clip-path="url(#p95bb000298)" style="fill: none; stroke: #000080; stroke-width: 1.5"/>
    <path d="M 849.96 803.454286
L 889.32 803.454286
" clip-path="url(#p95bb000298)" style="fill: none; stroke: #0000b6; stroke-width: 1.5"/>
    <path d="M 849.96 765.888571
L 889.32 765.888571
" clip-path="url(#p95bb000298)" style="fill: none; stroke: #0000ed; stroke-width: 1.5"/>
    <path d="M 849.96 728.322857
L 889.32 728.322857
" clip-path="url(#p95bb000298)" style="fill: none; stroke: #0010ff; stroke-width: 1.5"/>
    <path d="M 849.96 690.757143
L 889.32 690.757143
" clip-path="url(#p95bb000298)" style="fill: none; stroke: #0040ff; stroke-width: 1.5"/>
    <path d="M 849.96 653.191429
L 889.32 653.191429
" clip-path="url(#p95bb000298)" style="fill: none; stroke: #0070ff; stroke-width: 1.5"/>
    <path d="M 849.96 615.625714
L 889.32 615.625714
" clip-path="url(#p95bb000298)" style="fill: none; stroke: #00a4ff; stroke-width: 1.5"/>
    <path d="M 849.96 578.06
L 889.32 578.06
" clip-path="url(#p95bb000298)" style="fill: none; stroke: #00d4ff; stroke-width: 1.5"/>
    <path d="M 849.96 540.494286
L 889.32 540.494286
" clip-path="url(#p95bb000298)" style="fill: none; stroke: #19ffde; stroke-width: 1.5"/>
    <path d="M 849.96 502.928571
L 889.32 502.928571
" clip-path="url(#p95bb000298)" style="fill: none; stroke: #40ffb7; stroke-width: 1.5"/>
    <path d="M 849.96 465.362857
L 889.32 465.362857
" clip-path="url(#p95bb000298)" style="fill: none; stroke: #66ff90; stroke-width: 1.5"/>
    <path d="M 849.96 427.797143
L 889.32 427.797143
" clip-path="url(#p95bb000298)" style="fill: none; stroke: #90ff66; stroke-width: 1.5"/>
    <path d="M 849.96 390.231429
L 889.32 390.231429
" clip-path="url(#p95bb000298)" style="fill: none; stroke: #b7ff40; stroke-width: 1.5"/>
    <path d="M 849.96 352.665714
L 889.32 352.665714
" clip-path="url(#p95bb000298)" style="fill: none; stroke: #deff19; stroke-width: 1.5"/>
    <path d="M 849.96 315.1
L 889.32 315.1
" clip-path="url(#p95bb000298)" style="fill: none; stroke: #ffe600; stroke-width: 1.5"/>
    <path d="M 849.96 277.534286
L 889.32 277.534286
" clip-path="url(#p95bb000298)" style="fill: none; stroke: #ffb900; stroke-width: 1.5"/>
    <path d="M 849.96 239.968571
L 889.32 239.968571
" clip-path="url(#p95bb000298)" style="fill: none; stroke: #ff8900; stroke-width: 1.5"/>
    <path d="M 849.96 202.402857
L 889.32 202.402857
" clip-path="url(#p95bb000298)" style="fill: none; stroke: #ff5d00; stroke-width: 1.5"/>
    <path d="M 849.96 164.837143
L 889.32 164.837143
" clip-path="url(#p95bb000298)" style="fill: none; stroke: #ff3000; stroke-width: 1.5"/>
    <path d="M 849.96 127.271429
L 889.32 127.271429
" clip-path="url(#p95bb000298)" style="fill: none; stroke: #ed0400; stroke-width: 1.5"/>
    <path d="M 849.96 89.705714
L 889.32 89.705714
" clip-path="url(#p95bb000298)" style="fill: none; stroke: #b60000; stroke-width: 1.5"/>
    <path d="M 849.96 52.14
L 889.32 52.14
" clip-path="url(#p95bb000298)" style="fill: none; stroke: #800000; stroke-width: 1.5"/>
   </g>
   <g id="line2d_42">
    <path d="M 849.96 389.104457
L 889.32 389.104457
" clip-path="url(#p5a4b6d7b32)" style="fill: none; stroke: #00ff00; stroke-width: 3; stroke-linecap: square"/>
   </g>
   <g id="line2d_43">
    <path d="M 849.96 619.757943
L 889.32 619.757943
" clip-path="url(#p5a4b6d7b32)" style="fill: none; stroke: #ff0000; stroke-width: 3; stroke-linecap: square"/>
   </g>
   <g id="patch_11">
    <path d="M 849.96 841.02
L 869.64 841.02
L 889.32 841.02
L 889.32 52.14
L 869.64 52.14
L 849.96 52.14
L 849.96 841.02
z
" style="fill: none; stroke: #000000; stroke-width: 0.8; stroke-linejoin: miter; stroke-linecap: square"/>
   </g>
   <g id="text_26">
    <text style="font-weight: 700; font-size: 9px; font-family: 'DejaVu Sans', 'Bitstream Vera Sans', 'Computer Modern Sans Serif', 'Lucida Grande', 'Verdana', 'Geneva', 'Lucid', 'Arial', 'Helvetica', 'Avant Garde', sans-serif; text-anchor: end; fill: #32cd32" x="841.4976" y="391.804457" transform="rotate(-0 841.4976 391.804457)">S</text>
   </g>
   <g id="text_27">
    <text style="font-weight: 700; font-size: 9px; font-family: 'DejaVu Sans', 'Bitstream Vera Sans', 'Computer Modern Sans Serif', 'Lucida Grande', 'Verdana', 'Geneva', 'Lucid', 'Arial', 'Helvetica', 'Avant Garde', sans-serif; text-anchor: end; fill: #ff0000" x="841.4976" y="622.457943" transform="rotate(-0 841.4976 622.457943)">F</text>
   </g>
  </g>
 </g>
 <defs>
  <clipPath id="p0bede3687a">
   <rect x="35.7" y="48.78" width="795" height="795"/>
  </clipPath>
  <clipPath id="p95bb000298">
   <path d="M 849.96 842.52
L 889.32 842.52
L 889.32 50.64
L 849.96 50.64
z
"/>
  </clipPath>
  <clipPath id="p5a4b6d7b32">
   <rect x="849.96" y="52.14" width="39.36" height="788.88"/>
  </clipPath>
 </defs>
</svg>
</body></html>
